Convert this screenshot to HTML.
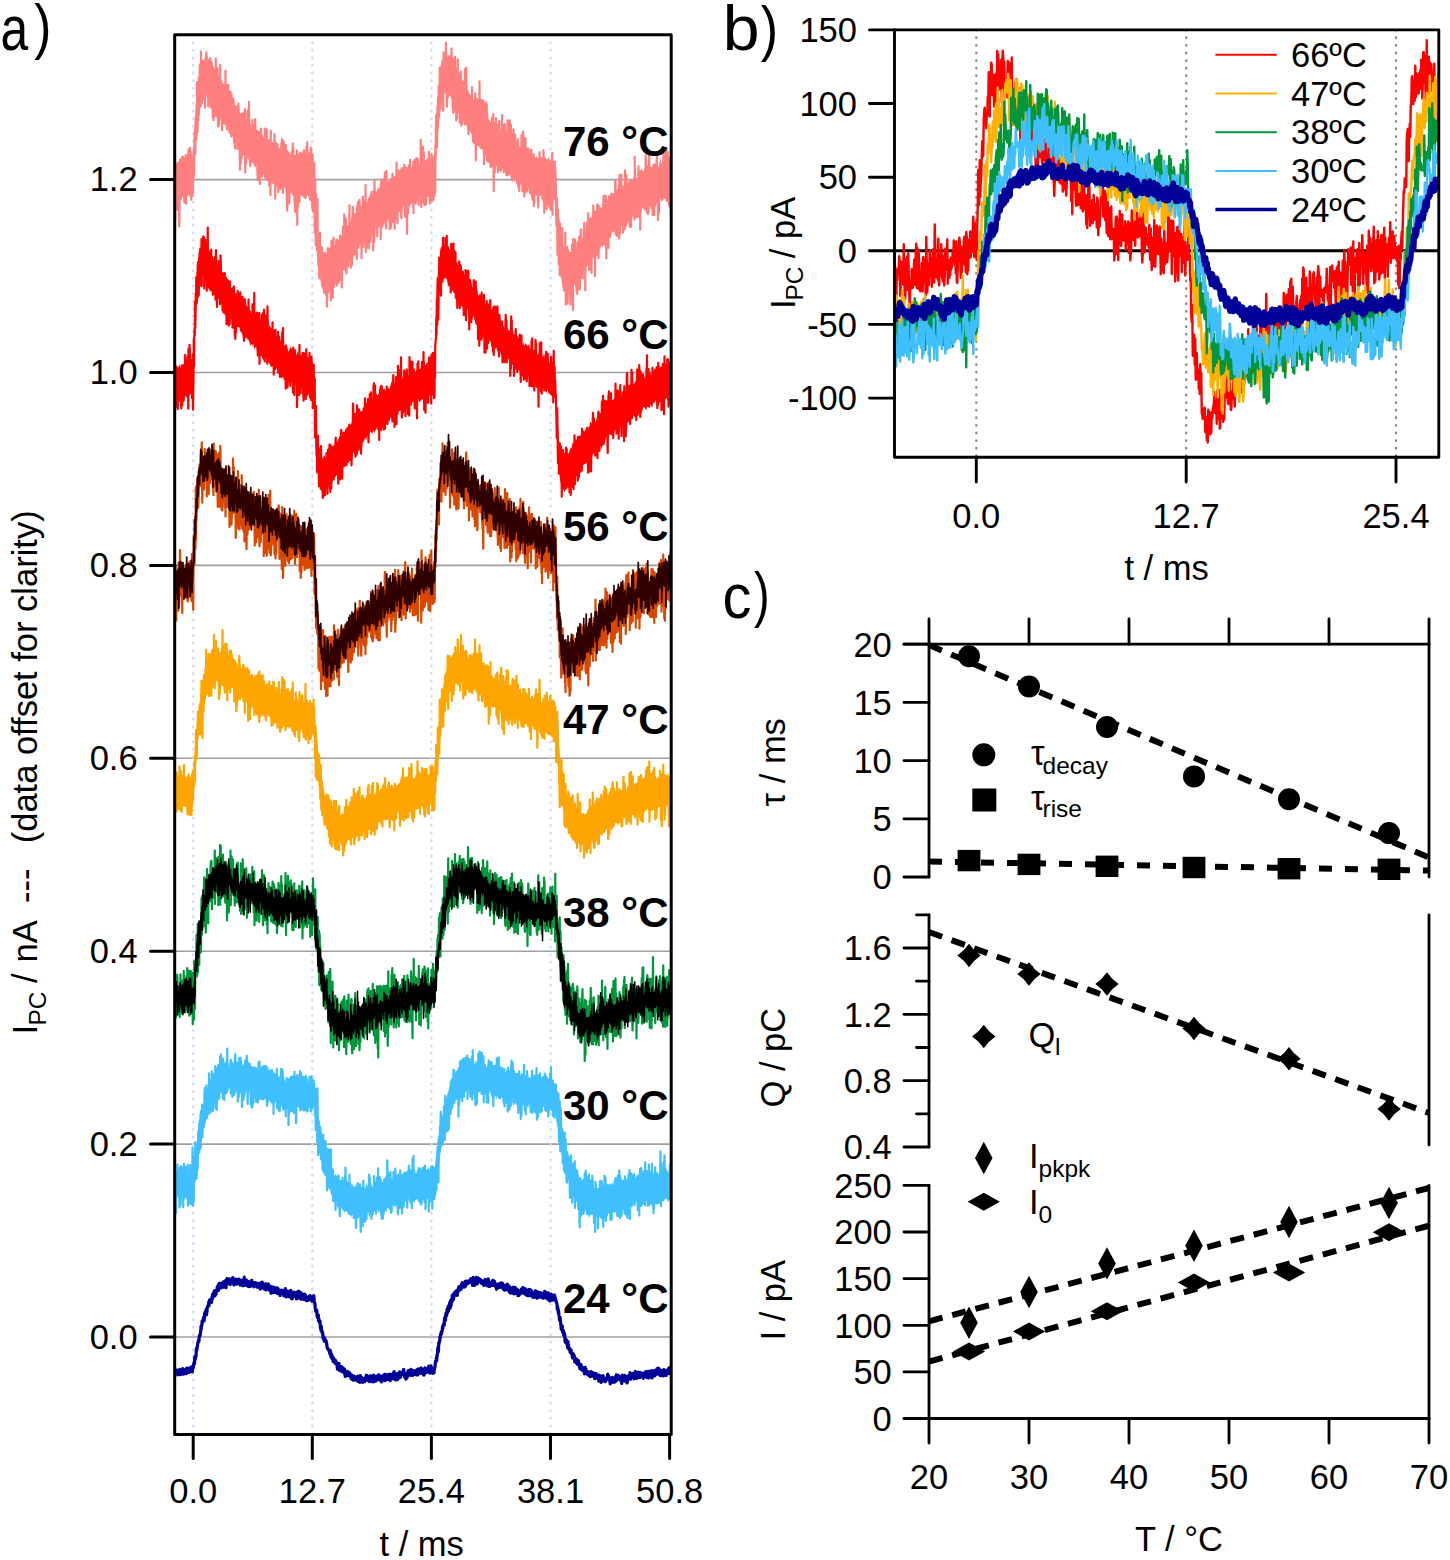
<!DOCTYPE html><html><head><meta charset="utf-8"><style>html,body{margin:0;padding:0;background:#fff;width:1450px;height:1560px;overflow:hidden;position:relative}</style></head><body><svg width="1450" height="1560" viewBox="0 0 1450 1560" style="position:absolute;left:0;top:0" font-family='"Liberation Sans", sans-serif'>
<rect width="1450" height="1560" fill="#fff"/>
<text transform="translate(0.4,50.3) scale(0.79,1)" font-size="63">a</text>
<text transform="translate(34.2,47.4) scale(0.83,1)" font-size="62">)</text>
<text transform="translate(722.8,50.2) scale(1.05,1)" font-size="63">b</text>
<text transform="translate(760.7,48.8) scale(0.84,1)" font-size="62">)</text>
<text transform="translate(722.5,618.1) scale(0.92,1)" font-size="63">c</text>
<text transform="translate(754.1,615.1) scale(0.76,1)" font-size="62">)</text>
<clipPath id="ca"><rect x="174.7" y="34.8" width="496.50000000000006" height="1399.7"/></clipPath>
<line x1="174.7" y1="179.6" x2="671.2" y2="179.6" stroke="#a0a0a0" stroke-width="1.6"/>
<line x1="174.7" y1="372.5" x2="671.2" y2="372.5" stroke="#a0a0a0" stroke-width="1.6"/>
<line x1="174.7" y1="565.4" x2="671.2" y2="565.4" stroke="#a0a0a0" stroke-width="1.6"/>
<line x1="174.7" y1="758.3" x2="671.2" y2="758.3" stroke="#a0a0a0" stroke-width="1.6"/>
<line x1="174.7" y1="951.2" x2="671.2" y2="951.2" stroke="#a0a0a0" stroke-width="1.6"/>
<line x1="174.7" y1="1144.1" x2="671.2" y2="1144.1" stroke="#a0a0a0" stroke-width="1.6"/>
<line x1="174.7" y1="1337.0" x2="671.2" y2="1337.0" stroke="#a0a0a0" stroke-width="1.6"/>
<line x1="193.2" y1="34.8" x2="193.2" y2="1434.5" stroke="#cfdbff" stroke-width="2.4" stroke-linecap="round" stroke-dasharray="0.6 7"/>
<line x1="312.3" y1="34.8" x2="312.3" y2="1434.5" stroke="#cfdbff" stroke-width="2.4" stroke-linecap="round" stroke-dasharray="0.6 7"/>
<line x1="431.4" y1="34.8" x2="431.4" y2="1434.5" stroke="#cfdbff" stroke-width="2.4" stroke-linecap="round" stroke-dasharray="0.6 7"/>
<line x1="550.5" y1="34.8" x2="550.5" y2="1434.5" stroke="#cfdbff" stroke-width="2.4" stroke-linecap="round" stroke-dasharray="0.6 7"/>
<g clip-path="url(#ca)" fill="none" stroke-linejoin="round">
<path transform="scale(0.25)" d="M697 654 701 647 705 652 709 650 713 648 717 641 721 638 725 638 729 644 733 638 737 633 741 631 745 642 749 635 753 639 757 634 761 616 765 630 769 631 773 623 777 531 781 453 785 386 789 332 793 318 797 292 801 266 805 250 809 240 813 237 817 241 821 220 825 229 829 222 833 235 837 237 841 257 845 250 849 243 853 261 857 273 861 278 865 292 869 280 873 303 877 309 881 308 885 318 889 326 893 338 897 329 901 353 905 346 909 365 913 358 917 388 921 390 925 395 929 407 933 410 937 421 941 422 945 421 949 423 953 448 957 437 961 454 965 463 969 456 973 460 977 457 981 459 985 486 989 473 993 484 997 484 1001 494 1005 500 1009 505 1013 501 1017 503 1021 526 1025 513 1029 531 1033 525 1037 541 1041 520 1045 535 1049 540 1053 550 1057 546 1061 544 1065 560 1069 561 1073 564 1077 569 1081 552 1085 574 1089 565 1093 572 1097 571 1101 593 1105 587 1109 593 1113 586 1117 591 1121 600 1125 589 1129 617 1133 602 1137 602 1141 611 1145 607 1149 598 1153 607 1157 604 1161 621 1165 614 1169 598 1173 604 1177 621 1181 618 1185 621 1189 606 1193 617 1197 638 1201 627 1205 626 1209 645 1213 627 1217 637 1221 637 1225 630 1229 635 1233 650 1237 644 1241 642 1245 654 1249 637 1253 648 1257 669 1261 758 1265 834 1269 885 1273 923 1277 944 1281 967 1285 990 1289 988 1293 1009 1297 1016 1301 1016 1305 1013 1309 1017 1313 1010 1317 1014 1321 1013 1325 1009 1329 993 1333 989 1337 986 1341 975 1345 973 1349 955 1353 959 1357 956 1361 949 1365 944 1369 944 1373 930 1377 920 1381 923 1385 915 1389 908 1393 901 1397 896 1401 890 1405 883 1409 867 1413 873 1417 879 1421 864 1425 851 1429 855 1433 850 1437 854 1441 820 1445 826 1449 820 1453 817 1457 805 1461 831 1465 816 1469 803 1473 790 1477 791 1481 773 1485 765 1489 778 1493 768 1497 761 1501 763 1505 769 1509 758 1513 751 1517 753 1521 736 1525 745 1529 739 1533 738 1537 739 1541 732 1545 725 1549 723 1553 724 1557 734 1561 707 1565 720 1569 703 1573 703 1577 707 1581 711 1585 696 1589 695 1593 703 1597 683 1601 709 1605 688 1609 683 1613 696 1617 673 1621 673 1625 671 1629 669 1633 671 1637 664 1641 677 1645 672 1649 664 1653 665 1657 662 1661 645 1665 652 1669 659 1673 638 1677 661 1681 641 1685 649 1689 637 1693 643 1697 646 1701 645 1705 640 1709 632 1713 632 1717 638 1721 636 1725 633 1729 624 1733 632 1737 625 1741 549 1745 476 1749 426 1753 360 1757 333 1761 296 1765 274 1769 256 1773 241 1777 247 1781 219 1785 216 1789 227 1793 232 1797 228 1801 228 1805 244 1809 245 1813 260 1817 266 1821 267 1825 273 1829 273 1833 292 1837 287 1841 298 1845 294 1849 325 1853 319 1857 327 1861 337 1865 357 1869 358 1873 362 1877 374 1881 381 1885 376 1889 392 1893 404 1897 394 1901 415 1905 414 1909 409 1913 420 1917 433 1921 449 1925 442 1929 444 1933 461 1937 460 1941 462 1945 468 1949 478 1953 476 1957 480 1961 484 1965 496 1969 486 1973 505 1977 502 1981 515 1985 512 1989 506 1993 528 1997 528 2001 531 2005 526 2009 544 2013 534 2017 553 2021 546 2025 560 2029 545 2033 543 2037 550 2041 558 2045 558 2049 563 2053 570 2057 572 2061 577 2065 575 2069 585 2073 590 2077 578 2081 596 2085 583 2089 604 2093 596 2097 593 2101 595 2105 592 2109 605 2113 605 2117 619 2121 602 2125 626 2129 617 2133 613 2137 612 2141 635 2145 625 2149 630 2153 636 2157 628 2161 629 2165 634 2169 634 2173 637 2177 628 2181 626 2185 637 2189 637 2193 629 2197 634 2201 644 2205 641 2209 640 2213 643 2217 647 2221 639 2225 739 2229 795 2233 845 2237 875 2241 951 2245 949 2249 981 2253 987 2257 992 2261 1011 2265 1020 2269 1023 2273 1011 2277 1013 2281 1024 2285 1006 2289 1013 2293 999 2297 999 2301 988 2305 997 2309 963 2313 974 2317 973 2321 959 2325 956 2329 960 2333 933 2337 938 2341 924 2345 916 2349 916 2353 920 2357 906 2361 902 2365 880 2369 871 2373 879 2377 879 2381 869 2385 872 2389 845 2393 852 2397 834 2401 830 2405 836 2409 834 2413 823 2417 818 2421 818 2425 814 2429 803 2433 808 2437 803 2441 794 2445 800 2449 770 2453 775 2457 772 2461 763 2465 758 2469 768 2473 751 2477 759 2481 755 2485 756 2489 758 2493 759 2497 731 2501 743 2505 733 2509 735 2513 724 2517 728 2521 720 2525 720 2529 720 2533 714 2537 708 2541 711 2545 715 2549 707 2553 702 2557 699 2561 696 2565 687 2569 684 2573 694 2577 676 2581 677 2585 674 2589 679 2593 683 2597 667 2601 684 2605 667 2609 669 2613 669 2617 669 2621 663 2625 656 2629 650 2633 672 2637 658 2641 626 2645 662 2649 648 2653 640 2657 636 2661 657 2665 651 2669 631 2673 630 2677 641 2681 631 2685 640 2685 777 2681 777 2677 793 2673 790 2669 784 2665 792 2661 793 2657 788 2653 803 2649 801 2645 807 2641 789 2637 794 2633 792 2629 811 2625 815 2621 814 2617 810 2613 823 2609 826 2605 824 2601 828 2597 822 2593 836 2589 811 2585 828 2581 833 2577 813 2573 827 2569 830 2565 852 2561 834 2557 851 2553 859 2549 863 2545 857 2541 866 2537 864 2533 856 2529 873 2525 866 2521 857 2517 881 2513 879 2509 898 2505 883 2501 878 2497 886 2493 895 2489 901 2485 901 2481 911 2477 913 2473 909 2469 918 2465 915 2461 916 2457 914 2453 935 2449 923 2445 946 2441 955 2437 948 2433 944 2429 958 2425 956 2421 958 2417 972 2413 985 2409 988 2405 984 2401 996 2397 996 2393 1003 2389 995 2385 1015 2381 1027 2377 1022 2373 1035 2369 1032 2365 1033 2361 1043 2357 1042 2353 1067 2349 1062 2345 1066 2341 1080 2337 1077 2333 1091 2329 1110 2325 1112 2321 1112 2317 1106 2313 1118 2309 1120 2305 1142 2301 1142 2297 1134 2293 1151 2289 1158 2285 1154 2281 1171 2277 1172 2273 1153 2269 1160 2265 1168 2261 1153 2257 1162 2253 1155 2249 1145 2245 1111 2241 1083 2237 1049 2233 1014 2229 938 2225 873 2221 811 2217 799 2213 799 2209 800 2205 787 2201 799 2197 787 2193 785 2189 790 2185 790 2181 784 2177 775 2173 792 2169 774 2165 785 2161 783 2157 784 2153 759 2149 785 2145 775 2141 771 2137 761 2133 771 2129 755 2125 755 2121 745 2117 772 2113 749 2109 775 2105 765 2101 762 2097 746 2093 747 2089 734 2085 736 2081 732 2077 747 2073 740 2069 736 2065 736 2061 711 2057 730 2053 717 2049 731 2045 722 2041 701 2037 699 2033 705 2029 705 2025 702 2021 688 2017 693 2013 696 2009 671 2005 693 2001 685 1997 681 1993 680 1989 671 1985 661 1981 657 1977 652 1973 651 1969 642 1965 640 1961 633 1957 657 1953 632 1949 621 1945 622 1941 623 1937 597 1933 613 1929 589 1925 600 1921 593 1917 588 1913 573 1909 577 1905 567 1901 558 1897 567 1893 549 1889 551 1885 509 1881 529 1877 510 1873 532 1869 515 1865 490 1861 499 1857 486 1853 469 1849 480 1845 454 1841 458 1837 448 1833 451 1829 446 1825 422 1821 418 1817 419 1813 412 1809 413 1805 389 1801 386 1797 381 1793 397 1789 394 1785 371 1781 370 1777 376 1773 385 1769 406 1765 438 1761 442 1757 482 1753 519 1749 568 1745 629 1741 707 1737 768 1733 778 1729 764 1725 782 1721 771 1717 778 1713 788 1709 786 1705 788 1701 800 1697 792 1693 789 1689 793 1685 802 1681 805 1677 787 1673 798 1669 801 1665 804 1661 807 1657 808 1653 818 1649 813 1645 814 1641 821 1637 829 1633 835 1629 819 1625 821 1621 830 1617 822 1613 826 1609 839 1605 842 1601 846 1597 852 1593 842 1589 846 1585 841 1581 852 1577 876 1573 851 1569 858 1565 864 1561 859 1557 867 1553 890 1549 873 1545 891 1541 882 1537 877 1533 904 1529 888 1525 912 1521 907 1517 903 1513 917 1509 915 1505 903 1501 927 1497 923 1493 935 1489 919 1485 945 1481 940 1477 946 1473 943 1469 949 1465 957 1461 954 1457 974 1453 957 1449 968 1445 990 1441 975 1437 981 1433 990 1429 996 1425 1006 1421 1004 1417 1015 1413 1018 1409 1017 1405 1032 1401 1039 1397 1055 1393 1041 1389 1054 1385 1055 1381 1063 1377 1082 1373 1080 1369 1094 1365 1099 1361 1107 1357 1114 1353 1109 1349 1110 1345 1129 1341 1131 1337 1149 1333 1146 1329 1143 1325 1164 1321 1154 1317 1173 1313 1175 1309 1160 1305 1165 1301 1178 1297 1155 1293 1149 1289 1152 1285 1146 1281 1115 1277 1097 1273 1078 1269 1031 1265 965 1261 907 1257 835 1253 786 1249 796 1245 800 1241 804 1237 802 1233 783 1229 781 1225 795 1221 796 1217 793 1213 790 1209 783 1205 786 1201 769 1197 789 1193 782 1189 766 1185 771 1181 759 1177 762 1173 780 1169 763 1165 777 1161 772 1157 762 1153 762 1149 761 1145 749 1141 754 1137 750 1133 753 1129 747 1125 755 1121 753 1117 748 1113 730 1109 736 1105 752 1101 732 1097 738 1093 730 1089 730 1085 730 1081 713 1077 711 1073 718 1069 696 1065 693 1061 694 1057 688 1053 699 1049 697 1045 693 1041 687 1037 675 1033 692 1029 664 1025 657 1021 673 1017 662 1013 651 1009 651 1005 654 1001 653 997 649 993 636 989 630 985 627 981 613 977 619 973 623 969 617 965 602 961 597 957 588 953 588 949 585 945 575 941 562 937 556 933 558 929 542 925 543 921 538 917 521 913 516 909 524 905 521 901 496 897 501 893 495 889 492 885 486 881 481 877 471 873 443 869 448 865 423 861 427 857 422 853 412 849 407 845 414 841 390 837 389 833 380 829 397 825 379 821 380 817 373 813 383 809 398 805 408 801 404 797 452 793 468 789 488 785 557 781 594 777 688 773 788 769 784 765 776 761 785 757 787 753 779 749 788 745 784 741 779 737 783 733 768 729 789 725 805 721 797 717 800 713 791 709 801 705 789 701 800 697 804Z" fill="#ff7f7f" stroke="none"/>
<path transform="scale(0.25)" d="M697 830l1 -113 1 1 1 -100 1 265 1 -172 1 116 1 5 1 8 1 -165 1 112 1 -80 1 46 1 -18 1 65 1 -37 1 76 1 -107 1 31 1 17 1 126 1 -84 1 -147 1 -37 1 134 1 20 1 -66 1 -34 1 -8 1 0 1 47 1 -102 1 57 1 -1 1 -59 1 160 1 -159 1 76 1 44 1 -107 1 169 1 -93 1 29 1 10 1 -32 1 -32 1 -71 1 195 1 -74 1 9 1 0 1 -84 1 37 1 13 1 57 1 -152 1 103 1 -126 1 32 1 -28 1 172 1 -60 1 -26 1 -97 1 68 1 28 1 -79 1 43 1 148 1 -28 1 -120 1 134 1 -96 1 49 1 -49 1 83 1 -89 1 -79 1 104 1 -11 1 -14 1 -134 1 -26 1 95 1 0 1 -100 1 -51 1 29 1 62 1 -56 1 37 1 -210 1 132 1 67 1 -40 1 -58 1 54 1 -66 1 -108 1 148 1 -138 1 7 1 -57 1 -13 1 41 1 20 1 108 1 -220 1 179 1 30 1 -3 1 -18 1 -78 1 34 1 48 1 -39 1 -107 1 142 1 -2 1 -49 1 -43 1 -5 1 58 1 78 1 -180 1 38 1 -37 1 95 1 -138 1 26 1 2 1 11 1 104 1 -85 1 90 1 -93 1 162 1 -31 1 -71 1 -26 1 35 1 -33 1 -50 1 21 1 -39 1 94 1 104 1 -113 1 -63 1 158 1 14 1 -52 1 -103 1 31 1 170 1 -145 1 28 1 126 1 -62 1 24 1 24 1 -26 1 -81 1 -53 1 126 1 3 1 -202 1 217 1 -162 1 176 1 -35 1 19 1 -99 1 -77 1 90 1 143 1 -35 1 -144 1 4 1 169 1 -109 1 64 1 -6 1 -57 1 -132 1 134 1 -72 1 110 1 -10 1 -43 1 32 1 110 1 -92 1 -51 1 24 1 50 1 -67 1 50 1 -75 1 110 1 -86 1 45 1 4 1 -25 1 -13 1 -113 1 195 1 -128 1 110 1 -94 1 75 1 -92 1 -7 1 124 1 -27 1 15 1 -114 1 176 1 -91 1 -12 1 80 1 39 1 -91 1 18 1 -59 1 -33 1 129 1 -43 1 94 1 -169 1 22 1 98 1 -51 1 -47 1 85 1 -54 1 -36 1 10 1 3 1 116 1 48 1 -59 1 13 1 67 1 -145 1 148 1 -118 1 79 1 -61 1 81 1 -16 1 -59 1 -45 1 30 1 45 1 66 1 -16 1 -167 1 160 1 6 1 -81 1 69 1 29 1 82 1 -150 1 25 1 100 1 -114 1 -85 1 135 1 42 1 -100 1 -30 1 -24 1 95 1 27 1 -142 1 -7 1 99 1 16 1 14 1 -98 1 -27 1 -19 1 254 1 -98 1 -36 1 99 1 0 1 -112 1 30 1 36 1 -75 1 -90 1 152 1 -155 1 18 1 -20 1 145 1 -177 1 144 1 -11 1 -1 1 76 1 50 1 -139 1 54 1 -70 1 18 1 20 1 86 1 -113 1 10 1 -51 1 136 1 -109 1 77 1 -88 1 0 1 39 1 10 1 114 1 -19 1 -118 1 -46 1 152 1 -9 1 28 1 -97 1 -28 1 121 1 6 1 9 1 29 1 34 1 -88 1 -106 1 57 1 103 1 -22 1 -47 1 73 1 45 1 -97 1 -95 1 -18 1 95 1 -107 1 76 1 46 1 -94 1 165 1 -72 1 57 1 -14 1 -42 1 -51 1 107 1 -134 1 91 1 32 1 -7 1 -160 1 196 1 -115 1 78 1 -113 1 -19 1 160 1 14 1 -198 1 159 1 2 1 43 1 -23 1 13 1 -112 1 67 1 30 1 -135 1 182 1 -121 1 28 1 -63 1 89 1 104 1 -257 1 127 1 39 1 12 1 26 1 -85 1 -53 1 44 1 35 1 -17 1 81 1 -64 1 -70 1 111 1 -111 1 -62 1 101 1 9 1 149 1 -226 1 49 1 -26 1 20 1 -37 1 8 1 23 1 -30 1 117 1 -50 1 37 1 89 1 -69 1 -5 1 -29 1 7 1 -1 1 78 1 -126 1 54 1 78 1 -95 1 46 1 -133 1 40 1 47 1 -105 1 66 1 -4 1 67 1 87 1 -192 1 50 1 -65 1 128 1 -63 1 -49 1 122 1 -20 1 -41 1 -13 1 -50 1 80 1 16 1 92 1 13 1 35 1 28 1 -151 1 -33 1 53 1 -62 1 31 1 31 1 -90 1 192 1 -63 1 -124 1 70 1 58 1 -69 1 -40 1 106 1 -53 1 51 1 -144 1 107 1 -99 1 98 1 -139 1 205 1 -188 1 123 1 -38 1 -40 1 74 1 101 1 -162 1 200 1 -86 1 -125 1 153 1 -98 1 13 1 6 1 74 1 -184 1 299 1 -246 1 176 1 -50 1 -94 1 -68 1 12 1 120 1 -39 1 97 1 -106 1 -92 1 143 1 -36 1 4 1 56 1 -122 1 110 1 -151 1 131 1 21 1 -103 1 107 1 1 1 -1 1 -165 1 90 1 -94 1 34 1 94 1 28 1 32 1 -98 1 -62 1 42 1 -22 1 121 1 -184 1 136 1 -11 1 -143 1 69 1 18 1 -19 1 41 1 53 1 -9 1 -80 1 -27 1 134 1 -112 1 20 1 85 1 43 1 -194 1 200 1 -191 1 53 1 152 1 -104 1 132 1 -71 1 -143 1 225 1 -135 1 14 1 127 1 -56 1 -141 1 88 1 190 1 -130 1 -84 1 194 1 71 1 -194 1 -11 1 158 1 15 1 51 1 -37 1 -167 1 161 1 71 1 -15 1 50 1 -99 1 71 1 74 1 5 1 -75 1 -108 1 129 1 4 1 -52 1 15 1 0 1 -20 1 -19 1 2 1 113 1 -86 1 52 1 -51 1 -5 1 144 1 -134 1 148 1 -94 1 17 1 -83 1 127 1 -22 1 -92 1 -5 1 103 1 60 1 -44 1 -106 1 195 1 -83 1 -83 1 -68 1 97 1 -11 1 59 1 -77 1 -53 1 -14 1 49 1 69 1 -40 1 -24 1 51 1 103 1 -76 1 -83 1 -81 1 78 1 95 1 -102 1 3 1 155 1 -123 1 75 1 -193 1 109 1 -67 1 155 1 -152 1 138 1 -72 1 6 1 -50 1 -29 1 62 1 -92 1 104 1 81 1 -182 1 83 1 44 1 -100 1 101 1 -26 1 69 1 -35 1 -4 1 28 1 -115 1 115 1 -127 1 -53 1 14 1 49 1 -20 1 125 1 -103 1 144 1 -75 1 -78 1 32 1 24 1 -146 1 11 1 21 1 135 1 -124 1 -93 1 21 1 93 1 100 1 -4 1 13 1 -106 1 -98 1 210 1 8 1 -191 1 138 1 26 1 -77 1 8 1 -31 1 99 1 -67 1 3 1 -49 1 -9 1 -123 1 106 1 -13 1 74 1 -48 1 62 1 69 1 -165 1 78 1 38 1 38 1 -192 1 37 1 -78 1 125 1 1 1 69 1 -70 1 -97 1 72 1 55 1 -51 1 86 1 -91 1 48 1 19 1 -138 1 94 1 12 1 75 1 -190 1 -21 1 -5 1 160 1 -171 1 62 1 120 1 -108 1 -21 1 20 1 -83 1 163 1 -120 1 15 1 49 1 69 1 -97 1 16 1 139 1 -95 1 -50 1 73 1 -50 1 -125 1 40 1 162 1 -150 1 87 1 -16 1 38 1 -142 1 159 1 -42 1 28 1 -210 1 269 1 -85 1 -110 1 136 1 -135 1 49 1 126 1 -166 1 139 1 -89 1 21 1 -63 1 161 1 -36 1 -71 1 -22 1 0 1 -74 1 14 1 163 1 -50 1 -71 1 77 1 -156 1 163 1 -106 1 104 1 -97 1 76 1 -98 1 193 1 -74 1 -69 1 -97 1 206 1 -245 1 127 1 23 1 -27 1 -57 1 76 1 -2 1 -5 1 -11 1 -11 1 41 1 69 1 -135 1 72 1 -96 1 99 1 -111 1 74 1 -32 1 -60 1 114 1 4 1 -105 1 21 1 -29 1 195 1 -88 1 -140 1 -6 1 88 1 39 1 57 1 -16 1 -9 1 -164 1 18 1 156 1 -135 1 17 1 97 1 -20 1 -146 1 -16 1 107 1 32 1 74 1 -172 1 184 1 -231 1 193 1 -105 1 73 1 9 1 -27 1 -50 1 19 1 27 1 -38 1 46 1 -100 1 -2 1 189 1 -47 1 -119 1 101 1 49 1 10 1 -80 1 53 1 -117 1 47 1 61 1 -181 1 71 1 123 1 -1 1 -66 1 -71 1 80 1 -85 1 -35 1 205 1 -123 1 -63 1 49 1 -12 1 -24 1 124 1 -216 1 38 1 166 1 31 1 9 1 -214 1 32 1 -10 1 123 1 -13 1 -37 1 -56 1 36 1 30 1 -19 1 -84 1 107 1 -70 1 121 1 30 1 2 1 -200 1 36 1 -7 1 49 1 -62 1 49 1 -33 1 113 1 -6 1 -138 1 -14 1 4 1 184 1 20 1 -146 1 120 1 -26 1 -21 1 -89 1 -34 1 73 1 192 1 -143 1 -90 1 -18 1 168 1 -102 1 34 1 -12 1 -112 1 115 1 -48 1 79 1 -168 1 98 1 -19 1 0 1 25 1 -12 1 -49 1 127 1 -67 1 -5 1 -36 1 61 1 55 1 -171 1 207 1 -175 1 -17 1 59 1 75 1 -75 1 -81 1 77 1 74 1 24 1 -112 1 -70 1 132 1 -70 1 -54 1 133 1 -63 1 -75 1 166 1 -111 1 130 1 -55 1 4 1 -74 1 23 1 -25 1 75 1 -41 1 -37 1 -131 1 209 1 60 1 -75 1 -47 1 67 1 -158 1 39 1 75 1 -142 1 62 1 163 1 -203 1 31 1 90 1 91 1 -178 1 58 1 58 1 31 1 -44 1 72 1 -27 1 -47 1 -60 1 -2 1 -26 1 127 1 -133 1 4 1 20 1 -22 1 61 1 -107 1 141 1 18 1 17 1 32 1 -67 1 51 1 -76 1 8 1 18 1 -133 1 109 1 40 1 40 1 -125 1 -36 1 132 1 -102 1 126 1 -167 1 147 1 -157 1 161 1 -34 1 -129 1 149 1 -188 1 0 1 -94 1 -26 1 93 1 -82 1 117 1 -67 1 -96 1 88 1 -119 1 71 1 -81 1 -41 1 124 1 -43 1 13 1 -168 1 110 1 54 1 -2 1 -153 1 98 1 -50 1 10 1 -79 1 64 1 -2 1 -77 1 53 1 4 1 144 1 -235 1 141 1 -24 1 6 1 5 1 -81 1 99 1 -120 1 64 1 -70 1 -59 1 72 1 16 1 147 1 22 1 -76 1 10 1 11 1 -10 1 -36 1 33 1 -135 1 40 1 73 1 -104 1 116 1 -2 1 -68 1 38 1 18 1 -31 1 -68 1 -43 1 108 1 -73 1 160 1 -21 1 62 1 -103 1 126 1 -177 1 174 1 -218 1 50 1 108 1 -121 1 -41 1 60 1 153 1 -81 1 -54 1 177 1 -140 1 50 1 82 1 -103 1 -31 1 -103 1 179 1 -9 1 -76 1 51 1 63 1 -104 1 -26 1 175 1 -109 1 81 1 -138 1 72 1 -110 1 217 1 -88 1 81 1 -5 1 -76 1 22 1 -81 1 113 1 -102 1 111 1 -151 1 45 1 33 1 51 1 42 1 -222 1 209 1 -77 1 71 1 -132 1 -77 1 126 1 1 1 41 1 62 1 -76 1 26 1 -27 1 47 1 67 1 -160 1 44 1 54 1 -68 1 -24 1 63 1 58 1 18 1 -4 1 -122 1 88 1 29 1 19 1 -184 1 170 1 -23 1 -66 1 138 1 -112 1 -28 1 75 1 70 1 -71 1 -84 1 67 1 -74 1 -37 1 140 1 129 1 -100 1 -97 1 -2 1 108 1 -129 1 -26 1 180 1 -38 1 -20 1 28 1 36 1 -97 1 -7 1 24 1 -177 1 138 1 75 1 -18 1 1 1 -33 1 29 1 -119 1 42 1 41 1 -64 1 177 1 -127 1 -6 1 65 1 2 1 -126 1 66 1 189 1 -135 1 -56 1 33 1 -14 1 40 1 -105 1 80 1 -78 1 -12 1 76 1 -69 1 226 1 -190 1 72 1 105 1 17 1 -123 1 42 1 -21 1 29 1 73 1 -119 1 98 1 -40 1 45 1 38 1 -108 1 67 1 -84 1 27 1 -53 1 -47 1 194 1 -136 1 17 1 -15 1 -75 1 187 1 122 1 -198 1 21 1 44 1 57 1 -195 1 93 1 -50 1 -40 1 -24 1 29 1 91 1 67 1 -159 1 16 1 54 1 99 1 20 1 -83 1 -108 1 94 1 53 1 -162 1 196 1 -162 1 95 1 48 1 -24 1 15 1 -12 1 -115 1 149 1 -25 1 -189 1 61 1 134 1 -122 1 46 1 -80 1 47 1 123 1 -50 1 54 1 -87 1 -90 1 26 1 148 1 -10 1 -130 1 111 1 60 1 -161 1 65 1 83 1 10 1 -217 1 122 1 -57 1 53 1 -6 1 1 1 21 1 -114 1 78 1 -98 1 68 1 53 1 -30 1 -32 1 -41 1 84 1 -43 1 63 1 85 1 12 1 -87 1 -10 1 -55 1 65 1 -96 1 143 1 48 1 -113 1 -16 1 -5 1 44 1 -80 1 102 1 20 1 -31 1 58 1 -84 1 -28 1 86 1 -45 1 -3 1 -57 1 119 1 72 1 -145 1 12 1 -16 1 166 1 -122 1 98 1 -144 1 55 1 -40 1 64 1 -18 1 -40 1 -77 1 151 1 -98 1 21 1 151 1 -61 1 -178 1 213 1 -197 1 144 1 18 1 82 1 -180 1 32 1 -55 1 186 1 -216 1 107 1 23 1 -24 1 47 1 46 1 11 1 -168 1 133 1 -130 1 105 1 -110 1 88 1 -37 1 93 1 -14 1 -66 1 112 1 -90 1 9 1 86 1 -176 1 15 1 -13 1 11 1 71 1 110 1 -132 1 96 1 44 1 -164 1 98 1 -96 1 186 1 -132 1 121 1 -20 1 -150 1 99 1 -54 1 -49 1 27 1 21 1 -48 1 139 1 -26 1 -87 1 20 1 17 1 50 1 51 1 28 1 -92 1 9 1 -69 1 90 1 -161 1 51 1 51 1 -19 1 48 1 -32 1 20 1 23 1 -117 1 75 1 56 1 28 1 -53 1 -63 1 123 1 -108 1 -90 1 161 1 -124 1 213 1 -143 1 -51 1 156 1 -105 1 -13 1 -28 1 118 1 -66 1 68 1 49 1 -112 1 11 1 58 1 -2 1 -142 1 63 1 -35 1 28 1 103 1 17 1 -53 1 30 1 30 1 -171 1 127 1 -129 1 181 1 -124 1 -41 1 -38 1 57 1 -83 1 248 1 -162 1 -36 1 40 1 57 1 -36 1 -73 1 43 1 93 1 -139 1 100 1 -75 1 23 1 23 1 99 1 62 1 26 1 -73 1 -37 1 117 1 108 1 -61 1 -120 1 113 1 46 1 60 1 -170 1 15 1 -8 1 207 1 -208 1 30 1 129 1 12 1 1 1 -121 1 163 1 -79 1 -42 1 -74 1 93 1 99 1 -45 1 38 1 -68 1 100 1 32 1 -79 1 36 1 -118 1 109 1 -178 1 175 1 112 1 -179 1 124 1 17 1 -63 1 -130 1 98 1 130 1 -37 1 -81 1 -98 1 136 1 -63 1 11 1 31 1 38 1 -141 1 135 1 58 1 15 1 -90 1 38 1 -26 1 54 1 -42 1 -175 1 47 1 44 1 -3 1 174 1 -285 1 73 1 96 1 -127 1 121 1 -6 1 -120 1 -34 1 179 1 -139 1 116 1 -7 1 -15 1 72 1 -164 1 87 1 89 1 -206 1 191 1 -34 1 -91 1 110 1 -18 1 -164 1 -18 1 127 1 85 1 -15 1 -90 1 -60 1 -76 1 175 1 -105 1 19 1 20 1 -70 1 29 1 -28 1 157 1 -60 1 -81 1 61 1 -116 1 64 1 -92 1 62 1 98 1 -104 1 216 1 -130 1 -85 1 7 1 38 1 55 1 -101 1 -56 1 72 1 -12 1 43 1 -37 1 -104 1 159 1 15 1 54 1 -199 1 124 1 73 1 -99 1 -104 1 140 1 -142 1 134 1 -89 1 174 1 -115 1 -87 1 -11 1 35 1 11 1 -24 1 -80 1 53 1 28 1 49 1 32 1 -19 1 -80 1 221 1 -85 1 -173 1 122 1 33 1 20 1 -137 1 57 1 -43 1 -82 1 196 1 -8 1 -22 1 -130 1 180 1 -210 1 116 1 -62 1 96 1 -42 1 11 1 -6 1 20 1 -29 1 -94 1 97 1 -11 1 55 1 -57 1 -21 1 -35 1 65 1 3 1 -113 1 -30 1 111 1 -29 1 -86 1 58 1 138 1 -151 1 19 1 4 1 -66 1 103 1 147 1 -147 1 74 1 18 1 -173 1 184 1 -180 1 90 1 -85 1 177 1 -160 1 -47 1 105 1 -98 1 65 1 -29 1 -34 1 31 1 -24 1 10 1 -37 1 6 1 85 1 -14 1 17 1 -47 1 18 1 -23 1 -24 1 132 1 -84 1 37 1 16 1 -98 1 86 1 -18 1 -135 1 -7 1 217 1 -133 1 80 1 -37 1 -75 1 170 1 -59 1 59 1 -130 1 -54 1 126 1 46 1 -189 1 60 1 153 1 -256 1 157 1 76 1 -131 1 84 1 -98 1 -43 1 -45 1 113 1 -9 1 53 1 0 1 -31 1 -78 1 184 1 -88 1 -11 1 77 1 -99 1 62 1 -105 1 151 1 -237 1 225 1 -154 1 -19 1 170 1 -24 1 -178 1 77 1 79 1 -18 1 16 1 17 1 11 1 -29 1 -31 1 -19 1 -49 1 70 1 73 1 -178 1 187 1 -23 1 -71 1 -27 1 122 1 -113 1 32 1 18 1 -109 1 86 1 -76 1 89 1 24 1 -68 1 -56 1 30 1 14 1 44 1 56 1 -253 1 123 1 30 1 24 1 -37 1 104 1 -75 1 55 1 -8 1 17 1 -104 1 -43 1 154 1 -170 1 169 1 -200 1 48 1 56 1 101 1 -171 1 33 1 -18 1 204 1 -178 1 -56 1 82 1 -80 1 -5 1 49 1 41 1 -60 1 -1 1 6 1 -21 1 134 1 -67 1 7 1 27 1 -109 1 147 1 3 1 -85 1 -25 1 -19 1 -87 1 56 1 157 1 -159 1 173 1 -50 1 -133 1 188 1 -165 1 168 1 -51 1 43 1 -137 1 -67 1 -21 1 168 1 0 1 -44 1 22 1 7 1 5 1 -110 1 58 1 104 1 -85 1 66 1 20 1 -147 1 173 1 -140 1 129 1 -190 1 139 1 -82 1 144 1 -182 1 80 1 37 1 28 1 -167 1 34 1 59 1 -18 1 -51 1 -56 1 115 1 6 1 -76 1 110 1 102 1 -89 1 -1 1 -80 1 138 1 -147 1 35 1 -69 1 92 1 -8 1 -99 1 112 1 -53 1 40 1 -3 1 49 1 -11 1 -126 1 3 1 54 1 31 1 21 1 -178 1 33 1 6 1 155 1 -87 1 41 1 -56 1 109 1 -26 1 7 1 -165 1 68 1 -76 1 203 1 -142 1 80 1 -9 1 -125 1 152 1 5 1 -15 1 -64 1 134 1 -113 1 -76 1 108 1 91 1 -81 1 56 1 -160 1 198 1 -59 1 -59 1 -143" stroke="#ff7f7f" stroke-width="8.8"/>
<path transform="scale(0.25)" d="M697 1483 701 1465 705 1461 709 1465 713 1471 717 1455 721 1472 725 1462 729 1463 733 1456 737 1457 741 1456 745 1428 749 1461 753 1453 757 1446 761 1463 765 1450 769 1454 773 1429 777 1297 781 1189 785 1112 789 1069 793 1031 797 992 801 993 805 985 809 990 813 989 817 970 821 987 825 970 829 988 833 1005 837 1006 841 997 845 1026 849 1024 853 1030 857 1042 861 1052 865 1050 869 1062 873 1059 877 1071 881 1079 885 1086 889 1092 893 1090 897 1112 901 1113 905 1106 909 1113 913 1132 917 1133 921 1149 925 1156 929 1150 933 1146 937 1166 941 1171 945 1178 949 1171 953 1181 957 1198 961 1202 965 1213 969 1190 973 1201 977 1213 981 1203 985 1221 989 1229 993 1229 997 1233 1001 1244 1005 1255 1009 1257 1013 1252 1017 1268 1021 1261 1025 1270 1029 1270 1033 1283 1037 1285 1041 1274 1045 1284 1049 1290 1053 1291 1057 1311 1061 1315 1065 1312 1069 1331 1073 1322 1077 1321 1081 1342 1085 1334 1089 1344 1093 1338 1097 1334 1101 1345 1105 1349 1109 1344 1113 1365 1117 1336 1121 1364 1125 1370 1129 1369 1133 1376 1137 1388 1141 1379 1145 1377 1149 1384 1153 1406 1157 1405 1161 1382 1165 1403 1169 1398 1173 1423 1177 1418 1181 1395 1185 1423 1189 1406 1193 1415 1197 1411 1201 1424 1205 1427 1209 1421 1213 1429 1217 1427 1221 1453 1225 1449 1229 1436 1233 1439 1237 1448 1241 1440 1245 1460 1249 1446 1253 1460 1257 1504 1261 1620 1265 1693 1269 1738 1273 1769 1277 1791 1281 1824 1285 1826 1289 1834 1293 1830 1297 1820 1301 1830 1305 1826 1309 1820 1313 1806 1317 1804 1321 1795 1325 1802 1329 1792 1333 1782 1337 1786 1341 1772 1345 1788 1349 1764 1353 1769 1357 1745 1361 1744 1365 1750 1369 1727 1373 1725 1377 1730 1381 1715 1385 1720 1389 1715 1393 1703 1397 1690 1401 1702 1405 1696 1409 1679 1413 1680 1417 1675 1421 1664 1425 1654 1429 1644 1433 1670 1437 1655 1441 1645 1445 1646 1449 1643 1453 1658 1457 1627 1461 1632 1465 1620 1469 1613 1473 1616 1477 1622 1481 1607 1485 1601 1489 1601 1493 1591 1497 1576 1501 1588 1505 1572 1509 1583 1513 1578 1517 1582 1521 1568 1525 1583 1529 1564 1533 1557 1537 1555 1541 1558 1545 1572 1549 1561 1553 1548 1557 1559 1561 1547 1565 1530 1569 1523 1573 1528 1577 1534 1581 1531 1585 1523 1589 1513 1593 1519 1597 1509 1601 1531 1605 1506 1609 1504 1613 1523 1617 1501 1621 1504 1625 1500 1629 1510 1633 1508 1637 1502 1641 1483 1645 1474 1649 1505 1653 1476 1657 1473 1661 1490 1665 1481 1669 1474 1673 1471 1677 1477 1681 1476 1685 1462 1689 1472 1693 1454 1697 1443 1701 1458 1705 1471 1709 1455 1713 1454 1717 1438 1721 1458 1725 1445 1729 1437 1733 1442 1737 1427 1741 1338 1745 1218 1749 1142 1753 1065 1757 1046 1761 1003 1765 990 1769 984 1773 979 1777 984 1781 970 1785 983 1789 987 1793 992 1797 1000 1801 1003 1805 1014 1809 1018 1813 1020 1817 1018 1821 1033 1825 1051 1829 1047 1833 1066 1837 1069 1841 1082 1845 1063 1849 1088 1853 1078 1857 1099 1861 1100 1865 1103 1869 1116 1873 1116 1877 1127 1881 1132 1885 1124 1889 1154 1893 1135 1897 1145 1901 1151 1905 1160 1909 1152 1913 1190 1917 1184 1921 1179 1925 1186 1929 1199 1933 1205 1937 1209 1941 1209 1945 1220 1949 1216 1953 1215 1957 1250 1961 1239 1965 1240 1969 1251 1973 1257 1977 1250 1981 1270 1985 1261 1989 1270 1993 1268 1997 1294 2001 1269 2005 1287 2009 1287 2013 1302 2017 1309 2021 1315 2025 1305 2029 1312 2033 1323 2037 1318 2041 1328 2045 1350 2049 1317 2053 1333 2057 1341 2061 1334 2065 1352 2069 1342 2073 1348 2077 1357 2081 1362 2085 1375 2089 1375 2093 1369 2097 1386 2101 1370 2105 1380 2109 1382 2113 1382 2117 1376 2121 1400 2125 1387 2129 1400 2133 1402 2137 1398 2141 1405 2145 1412 2149 1420 2153 1411 2157 1422 2161 1420 2165 1417 2169 1429 2173 1418 2177 1431 2181 1434 2185 1439 2189 1432 2193 1435 2197 1456 2201 1432 2205 1451 2209 1448 2213 1449 2217 1479 2221 1460 2225 1571 2229 1681 2233 1718 2237 1775 2241 1791 2245 1812 2249 1815 2253 1844 2257 1828 2261 1831 2265 1840 2269 1832 2273 1816 2277 1808 2281 1794 2285 1791 2289 1806 2293 1796 2297 1789 2301 1789 2305 1791 2309 1772 2313 1779 2317 1760 2321 1754 2325 1772 2329 1746 2333 1733 2337 1735 2341 1718 2345 1723 2349 1713 2353 1714 2357 1716 2361 1685 2365 1693 2369 1695 2373 1688 2377 1679 2381 1690 2385 1681 2389 1664 2393 1660 2397 1650 2401 1657 2405 1651 2409 1647 2413 1654 2417 1642 2421 1644 2425 1632 2429 1630 2433 1626 2437 1626 2441 1616 2445 1607 2449 1606 2453 1598 2457 1593 2461 1592 2465 1592 2469 1578 2473 1587 2477 1583 2481 1592 2485 1581 2489 1583 2493 1568 2497 1573 2501 1569 2505 1550 2509 1552 2513 1553 2517 1550 2521 1550 2525 1546 2529 1534 2533 1537 2537 1534 2541 1521 2545 1534 2549 1535 2553 1523 2557 1530 2561 1520 2565 1509 2569 1513 2573 1511 2577 1505 2581 1518 2585 1499 2589 1493 2593 1497 2597 1493 2601 1483 2605 1504 2609 1500 2613 1498 2617 1479 2621 1467 2625 1482 2629 1474 2633 1473 2637 1473 2641 1472 2645 1471 2649 1464 2653 1464 2657 1467 2661 1462 2665 1463 2669 1453 2673 1477 2677 1449 2681 1474 2685 1464 2685 1575 2681 1586 2677 1586 2673 1587 2669 1580 2665 1594 2661 1598 2657 1590 2653 1590 2649 1606 2645 1606 2641 1609 2637 1611 2633 1613 2629 1582 2625 1610 2621 1599 2617 1614 2613 1610 2609 1631 2605 1624 2601 1615 2597 1627 2593 1630 2589 1626 2585 1641 2581 1635 2577 1628 2573 1629 2569 1647 2565 1639 2561 1642 2557 1649 2553 1657 2549 1654 2545 1654 2541 1662 2537 1656 2533 1643 2529 1658 2525 1669 2521 1684 2517 1686 2513 1689 2509 1692 2505 1685 2501 1694 2497 1687 2493 1708 2489 1698 2485 1701 2481 1711 2477 1717 2473 1720 2469 1714 2465 1716 2461 1721 2457 1717 2453 1737 2449 1736 2445 1741 2441 1738 2437 1735 2433 1756 2429 1742 2425 1749 2421 1763 2417 1782 2413 1780 2409 1784 2405 1796 2401 1781 2397 1794 2393 1788 2389 1812 2385 1799 2381 1806 2377 1800 2373 1815 2369 1823 2365 1813 2361 1821 2357 1832 2353 1834 2349 1846 2345 1848 2341 1857 2337 1854 2333 1859 2329 1886 2325 1882 2321 1880 2317 1889 2313 1898 2309 1901 2305 1900 2301 1914 2297 1916 2293 1928 2289 1932 2285 1944 2281 1936 2277 1947 2273 1954 2269 1949 2265 1945 2261 1960 2257 1969 2253 1952 2249 1949 2245 1939 2241 1926 2237 1886 2233 1845 2229 1787 2225 1709 2221 1588 2217 1587 2213 1578 2209 1572 2205 1583 2201 1578 2197 1574 2193 1562 2189 1561 2185 1573 2181 1563 2177 1538 2173 1554 2169 1558 2165 1561 2161 1556 2157 1546 2153 1549 2149 1550 2145 1537 2141 1525 2137 1525 2133 1525 2129 1518 2125 1535 2121 1520 2117 1508 2113 1506 2109 1523 2105 1504 2101 1506 2097 1493 2093 1501 2089 1501 2085 1503 2081 1490 2077 1480 2073 1474 2069 1482 2065 1472 2061 1474 2057 1453 2053 1461 2049 1457 2045 1482 2041 1460 2037 1444 2033 1434 2029 1444 2025 1428 2021 1448 2017 1428 2013 1421 2009 1425 2005 1420 2001 1409 1997 1394 1993 1400 1989 1406 1985 1389 1981 1397 1977 1385 1973 1391 1969 1373 1965 1375 1961 1363 1957 1366 1953 1362 1949 1344 1945 1340 1941 1351 1937 1347 1933 1327 1929 1329 1925 1318 1921 1300 1917 1306 1913 1301 1909 1298 1905 1301 1901 1292 1897 1275 1893 1261 1889 1280 1885 1262 1881 1256 1877 1259 1873 1231 1869 1238 1865 1239 1861 1233 1857 1223 1853 1229 1849 1228 1845 1207 1841 1188 1837 1196 1833 1172 1829 1179 1825 1177 1821 1167 1817 1157 1813 1148 1809 1143 1805 1133 1801 1129 1797 1138 1793 1113 1789 1104 1785 1118 1781 1106 1777 1116 1773 1108 1769 1122 1765 1131 1761 1144 1757 1178 1753 1214 1749 1262 1745 1359 1741 1470 1737 1573 1733 1583 1729 1579 1725 1580 1721 1578 1717 1581 1713 1596 1709 1593 1705 1594 1701 1582 1697 1603 1693 1595 1689 1594 1685 1597 1681 1604 1677 1610 1673 1597 1669 1593 1665 1616 1661 1610 1657 1604 1653 1609 1649 1609 1645 1626 1641 1622 1637 1614 1633 1615 1629 1619 1625 1631 1621 1636 1617 1634 1613 1644 1609 1642 1605 1634 1601 1643 1597 1643 1593 1641 1589 1665 1585 1660 1581 1637 1577 1659 1573 1642 1569 1670 1565 1680 1561 1666 1557 1690 1553 1673 1549 1669 1545 1688 1541 1691 1537 1697 1533 1697 1529 1694 1525 1699 1521 1687 1517 1714 1513 1710 1509 1704 1505 1719 1501 1721 1497 1733 1493 1721 1489 1737 1485 1722 1481 1717 1477 1739 1473 1743 1469 1743 1465 1760 1461 1750 1457 1761 1453 1767 1449 1769 1445 1765 1441 1780 1437 1780 1433 1800 1429 1794 1425 1796 1421 1803 1417 1814 1413 1807 1409 1824 1405 1817 1401 1842 1397 1845 1393 1831 1389 1840 1385 1839 1381 1850 1377 1840 1373 1873 1369 1861 1365 1879 1361 1883 1357 1873 1353 1898 1349 1899 1345 1902 1341 1906 1337 1924 1333 1920 1329 1930 1325 1942 1321 1940 1317 1952 1313 1936 1309 1954 1305 1943 1301 1951 1297 1939 1293 1963 1289 1957 1285 1966 1281 1935 1277 1918 1273 1901 1269 1863 1265 1826 1261 1743 1257 1639 1253 1598 1249 1582 1245 1565 1241 1572 1237 1563 1233 1582 1229 1559 1225 1579 1221 1562 1217 1561 1213 1562 1209 1553 1205 1557 1201 1551 1197 1553 1193 1537 1189 1533 1185 1547 1181 1537 1177 1529 1173 1533 1169 1541 1165 1528 1161 1534 1157 1525 1153 1510 1149 1517 1145 1512 1141 1522 1137 1502 1133 1515 1129 1507 1125 1495 1121 1485 1117 1487 1113 1485 1109 1479 1105 1471 1101 1474 1097 1470 1093 1467 1089 1462 1085 1468 1081 1453 1077 1457 1073 1439 1069 1433 1065 1432 1061 1428 1057 1437 1053 1442 1049 1424 1045 1425 1041 1423 1037 1417 1033 1401 1029 1409 1025 1389 1021 1389 1017 1397 1013 1375 1009 1382 1005 1376 1001 1384 997 1364 993 1358 989 1357 985 1349 981 1353 977 1345 973 1348 969 1337 965 1328 961 1326 957 1307 953 1311 949 1307 945 1304 941 1291 937 1295 933 1275 929 1276 925 1281 921 1269 917 1270 913 1267 909 1251 905 1239 901 1235 897 1238 893 1222 889 1222 885 1212 881 1199 877 1204 873 1190 869 1208 865 1173 861 1172 857 1173 853 1158 849 1153 845 1148 841 1140 837 1126 833 1118 829 1120 825 1127 821 1120 817 1114 813 1116 809 1100 805 1110 801 1123 797 1140 793 1158 789 1201 785 1233 781 1333 777 1415 773 1568 769 1568 765 1575 761 1576 757 1585 753 1569 749 1583 745 1580 741 1587 737 1582 733 1594 729 1602 725 1590 721 1598 717 1597 713 1585 709 1583 705 1617 701 1614 697 1602Z" fill="#ff0000" stroke="none"/>
<path transform="scale(0.25)" d="M697 1641l1 -145 1 130 1 -58 1 -69 1 121 1 8 1 -155 1 149 1 -113 1 61 1 9 1 -35 1 -58 1 151 1 -59 1 -34 1 -5 1 13 1 -46 1 78 1 -16 1 -87 1 16 1 108 1 -20 1 -2 1 -64 1 115 1 -33 1 -140 1 111 1 50 1 -46 1 -88 1 58 1 -17 1 56 1 18 1 -88 1 22 1 -54 1 83 1 -112 1 -35 1 61 1 -15 1 101 1 -89 1 90 1 -53 1 72 1 -135 1 112 1 -138 1 111 1 99 1 -240 1 143 1 -129 1 138 1 -168 1 19 1 43 1 105 1 -14 1 -38 1 40 1 -94 1 82 1 -40 1 111 1 -120 1 88 1 -144 1 222 1 -63 1 -56 1 -159 1 105 1 -105 1 -47 1 29 1 -137 1 107 1 -51 1 -88 1 43 1 -109 1 87 1 18 1 -65 1 -37 1 80 1 -129 1 -14 1 8 1 6 1 121 1 -59 1 -42 1 62 1 -122 1 -12 1 125 1 -89 1 7 1 -55 1 64 1 -106 1 189 1 -173 1 131 1 -39 1 -24 1 -11 1 -84 1 140 1 -114 1 -22 1 205 1 -104 1 -73 1 112 1 -130 1 56 1 -9 1 74 1 -76 1 54 1 105 1 -144 1 49 1 -70 1 -88 1 232 1 -7 1 12 1 -44 1 -21 1 -72 1 144 1 -89 1 -2 1 -33 1 48 1 84 1 -8 1 -156 1 134 1 1 1 -11 1 -40 1 -15 1 36 1 76 1 -93 1 -39 1 -3 1 131 1 -34 1 -83 1 15 1 -45 1 56 1 115 1 -133 1 -66 1 138 1 -65 1 115 1 40 1 -51 1 -81 1 79 1 -91 1 -19 1 -21 1 54 1 92 1 -104 1 74 1 -107 1 164 1 -76 1 -120 1 26 1 50 1 -7 1 89 1 -41 1 70 1 -83 1 117 1 -149 1 98 1 -34 1 93 1 -11 1 -87 1 48 1 -97 1 -11 1 90 1 72 1 -106 1 110 1 -126 1 12 1 153 1 -41 1 -89 1 15 1 -62 1 11 1 21 1 129 1 -97 1 119 1 -178 1 118 1 8 1 46 1 -171 1 94 1 -65 1 107 1 -103 1 80 1 18 1 -101 1 58 1 29 1 68 1 -122 1 110 1 -138 1 -9 1 99 1 -106 1 92 1 9 1 97 1 -62 1 75 1 -56 1 -65 1 96 1 -151 1 124 1 -126 1 30 1 -33 1 91 1 -103 1 36 1 83 1 -50 1 25 1 26 1 -107 1 42 1 -10 1 25 1 -64 1 135 1 -15 1 -46 1 76 1 -122 1 -6 1 38 1 -36 1 -6 1 90 1 27 1 -49 1 68 1 24 1 17 1 -33 1 -67 1 -68 1 9 1 22 1 -4 1 123 1 -120 1 78 1 -1 1 -29 1 -40 1 108 1 -8 1 -51 1 -15 1 15 1 -85 1 107 1 -26 1 39 1 30 1 -84 1 -18 1 32 1 -15 1 72 1 37 1 -94 1 5 1 24 1 21 1 -9 1 -102 1 17 1 70 1 46 1 -42 1 28 1 -31 1 -134 1 155 1 -75 1 62 1 64 1 -87 1 90 1 -103 1 48 1 50 1 -43 1 -82 1 88 1 -85 1 169 1 -153 1 149 1 -74 1 77 1 -95 1 -74 1 204 1 -89 1 -26 1 47 1 -92 1 6 1 -18 1 36 1 99 1 -159 1 76 1 0 1 -28 1 6 1 -62 1 179 1 -151 1 83 1 -125 1 84 1 56 1 68 1 -184 1 60 1 80 1 -71 1 62 1 -125 1 -8 1 109 1 -5 1 91 1 -230 1 103 1 -39 1 156 1 -97 1 6 1 -28 1 -19 1 37 1 95 1 -128 1 120 1 21 1 -134 1 37 1 -18 1 126 1 -72 1 23 1 -2 1 -123 1 164 1 -3 1 -96 1 19 1 126 1 -142 1 12 1 -47 1 54 1 86 1 14 1 -157 1 102 1 -12 1 13 1 -15 1 -50 1 61 1 -53 1 -13 1 44 1 -69 1 164 1 -36 1 -35 1 38 1 -111 1 50 1 38 1 73 1 -68 1 -51 1 -3 1 94 1 -57 1 84 1 -146 1 107 1 -139 1 76 1 20 1 -113 1 153 1 -85 1 20 1 81 1 -67 1 80 1 19 1 4 1 -16 1 5 1 49 1 -146 1 9 1 84 1 -11 1 -69 1 124 1 4 1 -23 1 -82 1 60 1 17 1 -74 1 57 1 -76 1 -16 1 -5 1 0 1 136 1 -141 1 74 1 -80 1 85 1 42 1 -8 1 -10 1 -22 1 -5 1 20 1 72 1 -181 1 44 1 65 1 -42 1 123 1 -127 1 -53 1 46 1 6 1 31 1 -18 1 46 1 -57 1 2 1 70 1 103 1 -47 1 -115 1 65 1 13 1 -27 1 -87 1 59 1 91 1 -138 1 -64 1 176 1 17 1 -50 1 52 1 -59 1 27 1 -117 1 120 1 -100 1 78 1 -44 1 -67 1 64 1 99 1 -147 1 175 1 -191 1 143 1 -111 1 77 1 -96 1 -6 1 143 1 -32 1 67 1 -131 1 -69 1 25 1 79 1 77 1 1 1 -45 1 -100 1 5 1 97 1 6 1 20 1 -63 1 13 1 -101 1 133 1 44 1 1 1 -122 1 96 1 37 1 -107 1 -67 1 58 1 115 1 -113 1 7 1 140 1 -154 1 -3 1 83 1 -101 1 141 1 -91 1 63 1 -56 1 235 1 -77 1 0 1 -51 1 3 1 101 1 95 1 -73 1 92 1 50 1 -49 1 -86 1 -12 1 109 1 -30 1 58 1 65 1 -151 1 26 1 81 1 8 1 -24 1 -65 1 135 1 -171 1 151 1 -56 1 79 1 -104 1 104 1 -46 1 80 1 -85 1 81 1 -118 1 58 1 -1 1 -87 1 103 1 -49 1 87 1 -78 1 4 1 -54 1 50 1 -25 1 -66 1 45 1 59 1 17 1 43 1 -72 1 -106 1 43 1 92 1 -99 1 111 1 -74 1 -93 1 42 1 82 1 66 1 -189 1 121 1 -21 1 76 1 -153 1 17 1 83 1 -115 1 73 1 -52 1 43 1 18 1 -63 1 72 1 -34 1 -35 1 -26 1 121 1 -40 1 -32 1 -69 1 -13 1 111 1 -8 1 -62 1 63 1 -51 1 22 1 -43 1 -10 1 26 1 137 1 -118 1 -57 1 110 1 -1 1 -66 1 -24 1 139 1 -17 1 -21 1 -93 1 -55 1 -13 1 126 1 -105 1 104 1 71 1 -100 1 36 1 -11 1 -46 1 -4 1 -13 1 85 1 2 1 -28 1 -6 1 -89 1 33 1 14 1 22 1 41 1 -77 1 87 1 -85 1 -28 1 -36 1 6 1 43 1 79 1 7 1 -60 1 -50 1 36 1 -33 1 -41 1 111 1 -26 1 0 1 57 1 -82 1 12 1 -58 1 149 1 -39 1 -111 1 41 1 -44 1 40 1 -135 1 30 1 67 1 66 1 -61 1 6 1 7 1 75 1 -149 1 158 1 14 1 -3 1 -113 1 5 1 -58 1 160 1 -197 1 98 1 84 1 -149 1 7 1 21 1 117 1 -51 1 -111 1 14 1 28 1 38 1 57 1 -108 1 58 1 58 1 33 1 -54 1 23 1 -126 1 23 1 87 1 -71 1 -51 1 7 1 -1 1 85 1 -104 1 83 1 27 1 -46 1 5 1 -109 1 40 1 38 1 -28 1 55 1 8 1 -62 1 -27 1 68 1 21 1 -36 1 72 1 -146 1 129 1 45 1 -68 1 -75 1 -33 1 126 1 -143 1 109 1 4 1 -30 1 -42 1 -49 1 51 1 106 1 -34 1 -34 1 -35 1 90 1 -42 1 -13 1 46 1 -162 1 45 1 -55 1 38 1 106 1 -83 1 -52 1 67 1 56 1 22 1 -69 1 47 1 -77 1 67 1 -5 1 -48 1 32 1 -3 1 51 1 36 1 -71 1 11 1 -78 1 181 1 -171 1 57 1 -89 1 41 1 47 1 -100 1 79 1 35 1 61 1 -176 1 27 1 29 1 95 1 -57 1 -70 1 124 1 14 1 -103 1 115 1 -31 1 -4 1 32 1 0 1 -25 1 -67 1 -51 1 109 1 -94 1 71 1 -112 1 38 1 -11 1 123 1 -44 1 -62 1 -27 1 101 1 -105 1 118 1 -80 1 45 1 -81 1 69 1 26 1 -19 1 -6 1 -67 1 48 1 -18 1 -5 1 -24 1 19 1 102 1 -103 1 -28 1 -55 1 50 1 126 1 -72 1 -41 1 145 1 -168 1 54 1 -28 1 -7 1 95 1 -146 1 59 1 130 1 -98 1 -27 1 46 1 37 1 -113 1 -79 1 130 1 38 1 -111 1 12 1 -4 1 111 1 -30 1 -129 1 0 1 36 1 111 1 -198 1 129 1 34 1 70 1 8 1 -136 1 67 1 51 1 -13 1 6 1 -25 1 -71 1 42 1 -110 1 96 1 -86 1 88 1 -24 1 110 1 -104 1 -20 1 -33 1 98 1 -129 1 24 1 130 1 -18 1 -93 1 136 1 -141 1 131 1 -123 1 -19 1 159 1 -235 1 170 1 -42 1 46 1 -112 1 -13 1 76 1 -72 1 -35 1 54 1 45 1 -35 1 -62 1 152 1 -127 1 117 1 -112 1 61 1 60 1 -62 1 59 1 38 1 -83 1 47 1 21 1 -96 1 -12 1 13 1 -13 1 43 1 120 1 -106 1 -113 1 42 1 42 1 -94 1 94 1 31 1 19 1 -31 1 -22 1 -43 1 7 1 29 1 70 1 -102 1 49 1 -2 1 -24 1 62 1 -135 1 146 1 -137 1 119 1 -103 1 89 1 -153 1 186 1 -12 1 59 1 -88 1 -83 1 88 1 -94 1 187 1 -94 1 6 1 -81 1 4 1 54 1 70 1 -155 1 59 1 15 1 47 1 35 1 -159 1 128 1 -147 1 -4 1 143 1 -84 1 29 1 -15 1 -68 1 39 1 -42 1 184 1 -196 1 24 1 2 1 88 1 3 1 -89 1 -36 1 44 1 42 1 -41 1 137 1 -24 1 22 1 -169 1 89 1 -127 1 -11 1 -18 1 2 1 -82 1 65 1 -131 1 -13 1 104 1 -168 1 -20 1 2 1 166 1 -46 1 -106 1 -21 1 -77 1 53 1 -33 1 32 1 -22 1 36 1 -6 1 93 1 -166 1 -11 1 -13 1 119 1 -46 1 61 1 -84 1 -92 1 132 1 -132 1 162 1 -125 1 2 1 119 1 -17 1 -28 1 -12 1 29 1 -74 1 -56 1 59 1 22 1 -89 1 170 1 -4 1 -72 1 -50 1 9 1 131 1 -129 1 143 1 -138 1 52 1 -22 1 43 1 54 1 -110 1 91 1 59 1 -64 1 -131 1 165 1 -136 1 156 1 -62 1 -80 1 70 1 -73 1 20 1 -61 1 179 1 -140 1 155 1 -165 1 43 1 -33 1 99 1 -102 1 179 1 -41 1 46 1 -63 1 -3 1 -11 1 115 1 -135 1 74 1 -64 1 71 1 -26 1 -29 1 -19 1 -59 1 163 1 25 1 -175 1 53 1 71 1 -119 1 135 1 -101 1 74 1 -3 1 54 1 -34 1 -97 1 -4 1 96 1 36 1 -47 1 89 1 -44 1 -7 1 -11 1 6 1 -92 1 144 1 -177 1 106 1 95 1 -63 1 -46 1 -57 1 -30 1 106 1 21 1 -119 1 25 1 -35 1 93 1 36 1 -47 1 153 1 -116 1 -62 1 -21 1 16 1 40 1 77 1 12 1 25 1 -119 1 15 1 -3 1 37 1 5 1 -42 1 13 1 22 1 -52 1 -45 1 42 1 65 1 -36 1 26 1 -2 1 -23 1 -5 1 -61 1 82 1 32 1 41 1 -104 1 46 1 30 1 -73 1 8 1 169 1 -93 1 -56 1 28 1 -5 1 152 1 -109 1 87 1 -180 1 151 1 -116 1 125 1 -57 1 11 1 63 1 -188 1 181 1 -112 1 -39 1 25 1 -12 1 110 1 -108 1 68 1 -104 1 144 1 87 1 -148 1 8 1 -7 1 148 1 -80 1 33 1 -39 1 54 1 -175 1 191 1 -97 1 -52 1 13 1 -42 1 155 1 -59 1 -41 1 81 1 -116 1 71 1 -16 1 -37 1 -55 1 96 1 -9 1 -47 1 55 1 30 1 12 1 32 1 16 1 -51 1 -60 1 133 1 -177 1 55 1 136 1 -108 1 71 1 -159 1 11 1 109 1 10 1 -8 1 -117 1 84 1 44 1 16 1 -6 1 -33 1 25 1 -135 1 75 1 11 1 -21 1 20 1 10 1 106 1 -62 1 -105 1 98 1 -38 1 43 1 31 1 -59 1 47 1 -24 1 -57 1 48 1 -62 1 120 1 44 1 -47 1 -65 1 -13 1 -6 1 58 1 1 1 -25 1 96 1 -88 1 -47 1 35 1 -64 1 -26 1 121 1 -53 1 -46 1 169 1 -62 1 8 1 27 1 -63 1 9 1 -38 1 53 1 4 1 14 1 -9 1 39 1 -26 1 -65 1 163 1 -118 1 90 1 -145 1 -66 1 131 1 -115 1 147 1 -101 1 107 1 -19 1 -18 1 -3 1 55 1 -20 1 75 1 -96 1 -65 1 133 1 -95 1 77 1 -130 1 -12 1 54 1 50 1 16 1 -63 1 60 1 54 1 -8 1 -54 1 53 1 -58 1 18 1 17 1 6 1 -81 1 28 1 -70 1 80 1 42 1 0 1 68 1 -153 1 19 1 -52 1 140 1 -47 1 -53 1 79 1 2 1 40 1 -111 1 -3 1 130 1 -78 1 51 1 -94 1 87 1 29 1 -5 1 -12 1 -115 1 124 1 -76 1 91 1 4 1 -59 1 18 1 -72 1 22 1 -20 1 49 1 36 1 -16 1 -45 1 5 1 102 1 -74 1 -8 1 78 1 -57 1 -24 1 83 1 -103 1 -77 1 82 1 101 1 -193 1 128 1 -42 1 -19 1 2 1 111 1 -33 1 5 1 57 1 -30 1 -40 1 -37 1 37 1 -133 1 142 1 -128 1 147 1 -75 1 102 1 -76 1 77 1 -54 1 -60 1 48 1 4 1 141 1 -160 1 78 1 -121 1 114 1 -166 1 89 1 65 1 -156 1 106 1 91 1 -198 1 107 1 99 1 -113 1 77 1 -78 1 60 1 -27 1 -37 1 40 1 25 1 -30 1 70 1 -32 1 -15 1 -79 1 1 1 -18 1 105 1 -81 1 -36 1 73 1 -65 1 80 1 -78 1 38 1 -40 1 90 1 -18 1 -4 1 -29 1 74 1 42 1 -39 1 -27 1 51 1 -20 1 -20 1 16 1 -104 1 123 1 -60 1 67 1 -40 1 64 1 -11 1 -8 1 -87 1 135 1 -179 1 -28 1 155 1 -79 1 -12 1 122 1 -38 1 -28 1 57 1 -4 1 24 1 34 1 47 1 71 1 -52 1 -67 1 77 1 94 1 49 1 -14 1 -13 1 11 1 58 1 -29 1 -15 1 -78 1 89 1 6 1 -20 1 -58 1 -4 1 115 1 -87 1 173 1 -188 1 68 1 80 1 -43 1 -103 1 29 1 64 1 59 1 -53 1 -53 1 -31 1 142 1 -14 1 -6 1 -20 1 -58 1 -70 1 163 1 -44 1 -113 1 140 1 -64 1 51 1 -107 1 100 1 -64 1 75 1 -10 1 -2 1 -8 1 63 1 -138 1 123 1 18 1 -114 1 121 1 -111 1 81 1 -48 1 30 1 9 1 -148 1 2 1 14 1 -17 1 -16 1 181 1 -85 1 -31 1 23 1 -123 1 159 1 37 1 -134 1 99 1 -99 1 -42 1 14 1 43 1 30 1 50 1 2 1 -120 1 143 1 -175 1 167 1 -29 1 17 1 2 1 -159 1 129 1 -50 1 37 1 -106 1 131 1 -8 1 -134 1 38 1 100 1 -36 1 -133 1 74 1 15 1 -47 1 39 1 60 1 -129 1 92 1 -52 1 1 1 -34 1 22 1 1 1 95 1 -9 1 -115 1 25 1 24 1 71 1 -127 1 -9 1 137 1 -95 1 46 1 92 1 -72 1 43 1 -103 1 128 1 -85 1 -92 1 3 1 115 1 -117 1 58 1 92 1 25 1 -52 1 -71 1 -48 1 23 1 11 1 -11 1 -47 1 -40 1 50 1 109 1 -1 1 -136 1 90 1 -44 1 52 1 -25 1 77 1 -107 1 6 1 80 1 -70 1 61 1 -25 1 20 1 -31 1 76 1 -132 1 -7 1 -44 1 -3 1 8 1 -2 1 28 1 123 1 -44 1 -38 1 12 1 46 1 -124 1 34 1 54 1 33 1 -155 1 -16 1 57 1 100 1 -111 1 -69 1 149 1 -51 1 52 1 -5 1 -78 1 -9 1 -39 1 34 1 -9 1 8 1 34 1 -41 1 -14 1 37 1 -46 1 140 1 -101 1 147 1 21 1 -194 1 22 1 -61 1 70 1 -84 1 156 1 -93 1 106 1 -104 1 72 1 26 1 -101 1 -54 1 82 1 34 1 49 1 -56 1 -78 1 97 1 -40 1 -12 1 104 1 -46 1 16 1 -21 1 -88 1 78 1 -91 1 31 1 11 1 -109 1 94 1 -59 1 27 1 139 1 -70 1 37 1 -6 1 -135 1 109 1 -1 1 -44 1 16 1 114 1 -151 1 20 1 4 1 -65 1 17 1 -40 1 142 1 -23 1 -12 1 12 1 85 1 -57 1 -52 1 -12 1 26 1 -80 1 133 1 -79 1 -27 1 28 1 141 1 -220 1 158 1 -79 1 -48 1 -1 1 89 1 82 1 -81 1 50 1 -57 1 -141 1 -25 1 7 1 105 1 62 1 -80 1 5 1 -46 1 96 1 11 1 -84 1 58 1 9 1 61 1 -1 1 -155 1 107 1 27 1 -106 1 -89 1 163 1 31 1 -184 1 149 1 -88 1 -2 1 75 1 -69 1 105 1 -7 1 -94 1 27 1 6 1 -24 1 62 1 38 1 -28 1 -67 1 108 1 -44 1 -66 1 -51 1 -42 1 184 1 -46 1 -5 1 -96 1 81 1 -63 1 47 1 -119 1 42 1 42 1 72 1 52 1 -183 1 166 1 -55 1 -34 1 -66 1 28 1 72 1 -56 1 15 1 38 1 -96 1 95 1 -27 1 8 1 32 1 -45 1 -31 1 52 1 1 1 -2 1 -53 1 91 1 -3 1 -64 1 -77 1 140 1 -193 1 135 1 -14 1 -9 1 75 1 -91 1 -41 1 98 1 48 1 4 1 -93 1 -23 1 73 1 -75 1 95 1 -46 1 46 1 -48 1 -28 1 39 1 14 1 1 1 -110 1 92 1 -5 1 25 1 -97 1 100 1 -45 1 42 1 -20 1 -42 1 54 1 -76 1 55 1 -71 1 17 1 26 1 -7 1 85 1 -136 1 165 1 -28 1 -12 1 26 1 -168 1 20 1 69 1 -20 1 -9 1 66 1 -91 1 54 1 50 1 -104 1 53 1 -69 1 78 1 93 1 -143 1 12 1 -10 1 138 1 -182 1 102 1 12 1 41 1 -145 1 191 1 -138 1 -94 1 161 1 -43 1 -35 1 -18 1 -5 1 102 1 -129 1 24 1 51 1 21 1 -117 1 44 1 84 1 34 1 -161 1 189 1 -102 1 57 1 -132 1 147 1 -138 1 42 1 116 1 -56 1 -52 1 -57 1 96 1 0 1 -67" stroke="#ff0000" stroke-width="8.8"/>
<path transform="scale(0.25)" d="M697 2261l1 128 1 7 1 -96 1 119 1 -48 1 73 1 -69 1 108 1 -176 1 -20 1 -2 1 64 1 3 1 71 1 -10 1 30 1 -193 1 127 1 51 1 -19 1 -144 1 90 1 -155 1 183 1 -45 1 -85 1 -6 1 81 1 33 1 -28 1 45 1 74 1 -137 1 -34 1 11 1 103 1 -90 1 -29 1 70 1 38 1 -92 1 17 1 -30 1 21 1 -39 1 67 1 61 1 -129 1 36 1 93 1 -76 1 25 1 64 1 4 1 -83 1 59 1 -122 1 124 1 -100 1 104 1 -142 1 46 1 89 1 -116 1 38 1 71 1 -37 1 -19 1 86 1 -146 1 -43 1 164 1 0 1 24 1 -10 1 47 1 -144 1 -154 1 112 1 -35 1 40 1 -76 1 -97 1 80 1 30 1 -246 1 210 1 -216 1 137 1 -71 1 25 1 -119 1 -1 1 34 1 63 1 19 1 -30 1 -102 1 54 1 -27 1 -68 1 66 1 20 1 -73 1 66 1 -65 1 29 1 29 1 -107 1 -54 1 157 1 85 1 -62 1 -53 1 3 1 -45 1 76 1 -68 1 96 1 -50 1 19 1 -131 1 53 1 -16 1 -24 1 109 1 -3 1 -35 1 -65 1 171 1 -57 1 -4 1 -71 1 107 1 -114 1 12 1 -39 1 157 1 -108 1 48 1 -47 1 53 1 10 1 -112 1 96 1 -2 1 -45 1 -16 1 49 1 -81 1 -2 1 -13 1 66 1 77 1 -163 1 173 1 21 1 -207 1 176 1 -61 1 34 1 6 1 -7 1 12 1 -71 1 -59 1 134 1 -25 1 -96 1 112 1 19 1 -67 1 80 1 67 1 -63 1 24 1 -165 1 -12 1 97 1 -23 1 141 1 -158 1 33 1 -119 1 21 1 185 1 -11 1 -33 1 76 1 21 1 -61 1 29 1 30 1 -147 1 14 1 77 1 -106 1 74 1 57 1 -24 1 -13 1 -44 1 102 1 -152 1 188 1 -92 1 30 1 -31 1 -51 1 107 1 -69 1 -3 1 -37 1 107 1 -114 1 62 1 51 1 -28 1 -79 1 80 1 109 1 -108 1 -70 1 20 1 -21 1 76 1 -84 1 163 1 15 1 -28 1 -20 1 -58 1 50 1 -33 1 -176 1 219 1 -144 1 -41 1 174 1 -61 1 67 1 -52 1 13 1 -64 1 91 1 116 1 -145 1 56 1 20 1 -68 1 -8 1 80 1 15 1 -62 1 -156 1 230 1 -41 1 -48 1 -29 1 111 1 11 1 -156 1 55 1 48 1 -80 1 47 1 45 1 -54 1 76 1 -199 1 214 1 -42 1 -77 1 -33 1 71 1 -7 1 100 1 -113 1 55 1 -4 1 102 1 -43 1 -63 1 96 1 -151 1 -53 1 16 1 121 1 108 1 -90 1 22 1 8 1 2 1 -104 1 -11 1 84 1 5 1 1 1 -9 1 13 1 -80 1 -18 1 68 1 -93 1 116 1 -18 1 -9 1 -106 1 126 1 -118 1 -2 1 68 1 10 1 -5 1 -82 1 45 1 41 1 -94 1 116 1 -7 1 24 1 82 1 -155 1 76 1 -1 1 -96 1 14 1 149 1 -152 1 0 1 34 1 42 1 -63 1 119 1 -148 1 -11 1 67 1 -98 1 118 1 61 1 48 1 -22 1 -179 1 54 1 30 1 99 1 -104 1 43 1 -22 1 22 1 28 1 -13 1 -25 1 -39 1 14 1 9 1 -73 1 217 1 -199 1 10 1 173 1 -71 1 22 1 -156 1 96 1 -25 1 139 1 -83 1 50 1 42 1 -103 1 -78 1 96 1 57 1 -146 1 68 1 -138 1 112 1 79 1 -68 1 109 1 -107 1 81 1 -223 1 153 1 107 1 -13 1 -49 1 -99 1 119 1 -48 1 -2 1 -8 1 49 1 -67 1 9 1 -1 1 21 1 26 1 14 1 40 1 6 1 -172 1 144 1 43 1 -59 1 -85 1 124 1 -29 1 -130 1 31 1 -47 1 81 1 -7 1 -48 1 -23 1 19 1 -40 1 43 1 76 1 96 1 -30 1 -133 1 128 1 -44 1 -103 1 118 1 -8 1 -28 1 140 1 -135 1 -113 1 128 1 -50 1 206 1 -63 1 -164 1 -11 1 118 1 -84 1 60 1 -27 1 -63 1 185 1 -95 1 -50 1 -9 1 81 1 -134 1 84 1 62 1 -77 1 69 1 44 1 6 1 -155 1 126 1 29 1 9 1 -31 1 -37 1 -107 1 66 1 -13 1 49 1 58 1 -19 1 -74 1 53 1 -121 1 28 1 127 1 -74 1 -96 1 147 1 10 1 -94 1 -1 1 63 1 -145 1 72 1 -5 1 147 1 -184 1 2 1 73 1 -9 1 -82 1 136 1 -27 1 64 1 -36 1 -1 1 10 1 -57 1 -59 1 53 1 -62 1 25 1 112 1 -110 1 181 1 -95 1 33 1 -37 1 126 1 -42 1 11 1 8 1 -181 1 -4 1 100 1 -20 1 74 1 -97 1 39 1 -56 1 74 1 -42 1 -4 1 108 1 -5 1 -56 1 -28 1 -4 1 -69 1 143 1 -94 1 69 1 -52 1 89 1 -30 1 -114 1 140 1 -34 1 -104 1 72 1 -113 1 122 1 59 1 -38 1 20 1 -90 1 -46 1 30 1 72 1 -72 1 122 1 35 1 -75 1 -99 1 120 1 -19 1 5 1 -78 1 61 1 13 1 46 1 -143 1 38 1 203 1 -55 1 -92 1 42 1 117 1 -18 1 126 1 17 1 -82 1 66 1 -19 1 58 1 -38 1 -51 1 85 1 24 1 117 1 -169 1 89 1 90 1 -92 1 12 1 55 1 -85 1 -63 1 39 1 208 1 -119 1 16 1 -39 1 110 1 -86 1 -66 1 37 1 -90 1 126 1 48 1 -132 1 15 1 131 1 22 1 -130 1 157 1 -60 1 -153 1 76 1 -47 1 212 1 -87 1 20 1 33 1 -99 1 130 1 -169 1 58 1 32 1 35 1 -45 1 52 1 -198 1 0 1 69 1 55 1 -66 1 140 1 -31 1 -60 1 41 1 -32 1 -117 1 123 1 44 1 9 1 -125 1 -32 1 79 1 19 1 54 1 -216 1 77 1 62 1 -119 1 91 1 35 1 -67 1 100 1 -41 1 -33 1 1 1 23 1 31 1 47 1 -65 1 -124 1 6 1 34 1 88 1 -77 1 171 1 -123 1 -4 1 30 1 -106 1 51 1 81 1 -148 1 -8 1 30 1 -18 1 96 1 31 1 -102 1 57 1 -66 1 75 1 -37 1 -25 1 94 1 -80 1 44 1 -72 1 -36 1 119 1 -114 1 126 1 -3 1 -137 1 115 1 -113 1 21 1 76 1 13 1 -105 1 21 1 74 1 90 1 -75 1 -44 1 -63 1 -30 1 47 1 110 1 7 1 -166 1 19 1 158 1 -21 1 -63 1 -103 1 129 1 47 1 -160 1 142 1 -133 1 -20 1 93 1 -95 1 82 1 60 1 -84 1 -58 1 115 1 -99 1 8 1 47 1 -99 1 33 1 35 1 -48 1 23 1 -31 1 41 1 98 1 -157 1 73 1 117 1 -30 1 -99 1 -40 1 105 1 -11 1 -145 1 98 1 43 1 -69 1 85 1 32 1 31 1 -74 1 -76 1 98 1 -1 1 -78 1 13 1 10 1 -99 1 129 1 -40 1 77 1 -157 1 3 1 38 1 15 1 26 1 110 1 -196 1 155 1 4 1 -14 1 -134 1 114 1 2 1 -66 1 -78 1 25 1 37 1 51 1 -49 1 -19 1 78 1 -49 1 15 1 11 1 -10 1 8 1 -62 1 -73 1 182 1 -63 1 56 1 17 1 -81 1 11 1 77 1 -102 1 50 1 38 1 -63 1 -50 1 75 1 -102 1 16 1 98 1 -47 1 38 1 -37 1 57 1 -31 1 46 1 -175 1 56 1 -74 1 26 1 47 1 129 1 -117 1 -100 1 11 1 95 1 -1 1 -46 1 159 1 -197 1 -30 1 142 1 -75 1 103 1 -150 1 73 1 22 1 -66 1 31 1 -36 1 64 1 -49 1 108 1 -43 1 -39 1 -39 1 -34 1 133 1 -179 1 -14 1 112 1 58 1 34 1 -91 1 -84 1 178 1 53 1 -158 1 35 1 63 1 -46 1 29 1 -33 1 -83 1 56 1 -63 1 39 1 -17 1 95 1 -116 1 60 1 69 1 -43 1 20 1 71 1 -43 1 -143 1 47 1 -12 1 106 1 -93 1 -92 1 36 1 -24 1 91 1 -68 1 136 1 -129 1 13 1 -71 1 249 1 -38 1 6 1 -101 1 -85 1 82 1 -65 1 117 1 -24 1 -27 1 6 1 8 1 -127 1 17 1 138 1 33 1 -29 1 16 1 -138 1 116 1 -95 1 -35 1 115 1 -59 1 69 1 53 1 -163 1 60 1 42 1 -34 1 11 1 5 1 -62 1 9 1 110 1 -100 1 84 1 -116 1 68 1 -96 1 -51 1 130 1 96 1 -63 1 -106 1 56 1 -27 1 45 1 -66 1 37 1 81 1 -97 1 -4 1 80 1 -120 1 127 1 -120 1 97 1 -72 1 126 1 -134 1 68 1 -67 1 -8 1 92 1 33 1 -122 1 -36 1 153 1 -101 1 136 1 -115 1 -32 1 109 1 8 1 -6 1 3 1 29 1 2 1 -63 1 -97 1 101 1 57 1 -74 1 20 1 -32 1 -101 1 118 1 -3 1 -2 1 -25 1 124 1 -146 1 -61 1 3 1 -30 1 120 1 -19 1 -81 1 82 1 -29 1 -23 1 -43 1 87 1 148 1 -290 1 153 1 -3 1 -62 1 146 1 7 1 -118 1 50 1 18 1 26 1 -85 1 96 1 -172 1 166 1 -32 1 -49 1 -113 1 12 1 139 1 -83 1 25 1 5 1 72 1 8 1 -59 1 27 1 -40 1 -15 1 116 1 5 1 -114 1 -88 1 65 1 -85 1 221 1 4 1 -38 1 -41 1 -61 1 -103 1 81 1 64 1 -80 1 64 1 -38 1 124 1 -12 1 -89 1 22 1 -58 1 69 1 -36 1 97 1 -14 1 -189 1 63 1 -95 1 -54 1 89 1 -61 1 -40 1 52 1 -60 1 -90 1 -52 1 37 1 24 1 -57 1 110 1 23 1 3 1 -182 1 27 1 27 1 34 1 -33 1 15 1 -43 1 -22 1 67 1 18 1 -160 1 -2 1 100 1 -171 1 30 1 6 1 68 1 89 1 -7 1 -164 1 169 1 -126 1 81 1 -35 1 -21 1 117 1 -175 1 108 1 -90 1 20 1 110 1 -142 1 97 1 4 1 -142 1 149 1 -71 1 -19 1 1 1 54 1 -5 1 57 1 -91 1 186 1 -156 1 -2 1 -45 1 60 1 42 1 -75 1 -14 1 -44 1 56 1 127 1 -77 1 34 1 -85 1 136 1 -75 1 -101 1 207 1 -177 1 135 1 -103 1 10 1 -40 1 119 1 -31 1 106 1 -195 1 183 1 5 1 -188 1 120 1 -126 1 38 1 48 1 112 1 -52 1 -96 1 -19 1 -11 1 -18 1 20 1 98 1 -77 1 80 1 -26 1 14 1 -32 1 27 1 35 1 -90 1 -2 1 5 1 88 1 4 1 -94 1 98 1 47 1 -120 1 93 1 -70 1 7 1 16 1 -38 1 51 1 -146 1 -18 1 38 1 176 1 -31 1 -34 1 2 1 21 1 11 1 -103 1 70 1 -52 1 175 1 -106 1 -34 1 72 1 -139 1 131 1 32 1 -147 1 62 1 -72 1 122 1 21 1 8 1 -21 1 55 1 -40 1 -34 1 -26 1 5 1 61 1 -26 1 -28 1 100 1 -123 1 150 1 -118 1 -95 1 86 1 83 1 -10 1 35 1 -97 1 13 1 119 1 -5 1 -180 1 80 1 -57 1 -1 1 48 1 7 1 -1 1 21 1 -2 1 -42 1 60 1 -109 1 85 1 -52 1 20 1 42 1 26 1 25 1 -127 1 156 1 -172 1 188 1 64 1 -154 1 -85 1 -9 1 -19 1 24 1 20 1 -10 1 8 1 -2 1 91 1 41 1 -91 1 13 1 15 1 13 1 -117 1 172 1 26 1 -139 1 22 1 2 1 -8 1 -80 1 154 1 -72 1 -4 1 139 1 -131 1 63 1 15 1 -54 1 107 1 -54 1 19 1 -111 1 -9 1 -5 1 77 1 -74 1 96 1 -110 1 142 1 -91 1 38 1 48 1 -159 1 68 1 -33 1 134 1 -12 1 -76 1 16 1 -18 1 -27 1 87 1 -96 1 141 1 14 1 30 1 -101 1 -67 1 -62 1 142 1 -54 1 91 1 -75 1 -25 1 163 1 -147 1 93 1 66 1 -63 1 -96 1 -39 1 135 1 -143 1 132 1 10 1 8 1 -94 1 84 1 -100 1 -42 1 57 1 140 1 -57 1 -180 1 155 1 -48 1 83 1 41 1 -113 1 100 1 -73 1 91 1 -220 1 113 1 72 1 23 1 -8 1 -107 1 37 1 -8 1 83 1 -56 1 -125 1 208 1 42 1 -131 1 10 1 -49 1 74 1 80 1 -57 1 33 1 -127 1 3 1 14 1 -3 1 -24 1 59 1 -91 1 53 1 80 1 -7 1 -32 1 -30 1 46 1 11 1 42 1 -171 1 216 1 -93 1 23 1 14 1 -78 1 123 1 -107 1 -33 1 -16 1 149 1 -126 1 65 1 40 1 -178 1 115 1 72 1 -44 1 -176 1 143 1 -69 1 -34 1 62 1 -44 1 101 1 -38 1 41 1 -26 1 82 1 -206 1 124 1 -9 1 29 1 40 1 -75 1 77 1 59 1 -145 1 85 1 -113 1 -27 1 167 1 -110 1 -26 1 17 1 109 1 24 1 40 1 -212 1 145 1 -91 1 93 1 -179 1 161 1 -23 1 -111 1 102 1 -101 1 124 1 17 1 52 1 -108 1 -21 1 -49 1 -17 1 65 1 55 1 8 1 -51 1 62 1 -114 1 -6 1 121 1 -55 1 -50 1 -7 1 50 1 40 1 -68 1 169 1 -104 1 -44 1 -40 1 60 1 65 1 56 1 -109 1 39 1 -59 1 29 1 -83 1 18 1 116 1 -81 1 95 1 -55 1 -47 1 -39 1 162 1 -166 1 110 1 -19 1 116 1 -83 1 122 1 -191 1 38 1 11 1 69 1 9 1 -69 1 -102 1 75 1 -20 1 -32 1 62 1 -61 1 81 1 84 1 -189 1 185 1 -45 1 6 1 -121 1 54 1 -107 1 78 1 1 1 129 1 34 1 -34 1 -62 1 12 1 -48 1 79 1 -33 1 -112 1 42 1 127 1 -145 1 154 1 -21 1 -87 1 22 1 -43 1 128 1 -91 1 -76 1 -1 1 239 1 -137 1 -123 1 88 1 -21 1 100 1 59 1 -75 1 10 1 -154 1 130 1 -24 1 143 1 46 1 -51 1 126 1 -173 1 99 1 114 1 -120 1 92 1 -46 1 -40 1 144 1 -57 1 -1 1 138 1 -140 1 63 1 -55 1 142 1 8 1 64 1 -170 1 30 1 99 1 -120 1 -37 1 181 1 -141 1 28 1 -17 1 37 1 -16 1 -10 1 55 1 -59 1 161 1 -42 1 79 1 -171 1 24 1 82 1 3 1 -15 1 -41 1 -34 1 -9 1 97 1 -108 1 113 1 36 1 -153 1 36 1 45 1 109 1 -6 1 -2 1 -207 1 194 1 -112 1 -22 1 -72 1 57 1 31 1 -30 1 41 1 -40 1 7 1 -82 1 13 1 -4 1 28 1 108 1 -67 1 8 1 -29 1 27 1 72 1 6 1 -86 1 -42 1 100 1 2 1 -83 1 -2 1 -52 1 165 1 -57 1 -30 1 31 1 39 1 -125 1 10 1 68 1 -40 1 118 1 -53 1 -75 1 -5 1 96 1 -140 1 -41 1 51 1 54 1 45 1 28 1 -59 1 13 1 25 1 -149 1 112 1 -38 1 20 1 44 1 -34 1 -14 1 30 1 -128 1 184 1 -86 1 95 1 -110 1 -19 1 48 1 -41 1 -48 1 7 1 10 1 -1 1 203 1 -85 1 -88 1 29 1 5 1 11 1 51 1 -151 1 -37 1 19 1 5 1 116 1 -49 1 -51 1 -22 1 125 1 -36 1 -57 1 20 1 97 1 -151 1 2 1 -24 1 35 1 50 1 27 1 -69 1 89 1 -84 1 -121 1 244 1 -83 1 -16 1 39 1 -131 1 76 1 -5 1 70 1 -12 1 -103 1 122 1 -116 1 94 1 -48 1 -100 1 31 1 141 1 -31 1 -20 1 -10 1 -125 1 142 1 -101 1 122 1 3 1 -75 1 -17 1 22 1 -20 1 84 1 -146 1 7 1 -33 1 179 1 -58 1 -127 1 137 1 -130 1 28 1 -78 1 215 1 -145 1 135 1 32 1 -77 1 -145 1 187 1 -28 1 -77 1 85 1 -96 1 -39 1 98 1 -8 1 23 1 -135 1 114 1 -99 1 124 1 -129 1 150 1 31 1 -68 1 -39 1 113 1 -51 1 -117 1 200 1 -231 1 159 1 -75 1 107 1 -76 1 -89 1 140 1 -56 1 67 1 -53 1 -112 1 -15 1 153 1 -27 1 -105 1 -32 1 71 1 96 1 -34 1 -135 1 161 1 -50 1 50 1 -1 1 -168 1 9 1 67 1 -77 1 216 1 -111 1 45 1 -6 1 -34 1 113 1 -230 1 104 1 34 1 -114 1 -17 1 27 1 -36 1 96 1 36 1 28 1 -123 1 97 1 -58 1 -59 1 141 1 -11 1 -139 1 -21 1 207 1 -57 1 -180 1 31 1 137 1 -163 1 50 1 35 1 -33 1 66 1 -122 1 -11 1 162 1 1 1 -76 1 51 1 93 1 -157 1 102 1 -3 1 -35 1 66 1 -34 1 -11 1 -123 1 151 1 -135 1 18 1 126 1 -206 1 107 1 -65 1 119 1 -79 1 -5 1 76 1 -91 1 -48 1 47 1 63 1 107 1 -191 1 47 1 47 1 -125 1 -1 1 186 1 -18 1 -23 1 16 1 -84 1 -19 1 122 1 -81 1 -22 1 150 1 -184 1 56 1 21 1 61 1 -53 1 34 1 -61 1 -32 1 51 1 -77 1 88 1 -8 1 -136 1 -2 1 179 1 -68 1 20 1 49 1 -178 1 159 1 -33 1 -28 1 -55 1 112 1 -116 1 -43 1 70 1 -64 1 -23 1 96 1 47 1 -93 1 -19 1 84 1 -21 1 49 1 39 1 3 1 21 1 -108 1 -3 1 -16 1 135 1 -53 1 -48 1 -38 1 106 1 -159 1 31 1 32 1 130 1 -78 1 -114 1 139 1 18 1 6 1 -85 1 57 1 80 1 -204 1 108 1 -89 1 26 1 52 1 54 1 29 1 -62 1 -7 1 -17 1 43 1 -7 1 -114 1 59 1 -55 1 97 1 -25 1 -90 1 -8 1 -29 1 163 1 -134 1 -32 1 111 1 -73 1 102 1 -150 1 90 1 117 1 -136 1 20 1 -33 1 70 1 -100 1 155 1 -205 1 187 1 -69 1 3 1 134 1 -52 1 22 1 40 1 -237 1 62 1 126 1 -98 1 -57 1 -6 1 -19 1 71 1 -5 1 -7 1 82 1 -124 1 34 1 41 1 16 1 -95 1 135 1 -30 1 -24 1 -100 1 -16 1 -25 1 150 1 -70 1 37 1 104 1 -33" stroke="#d94800" stroke-width="8.8"/>
<path transform="scale(0.25)" d="M697 2305 701 2305 705 2300 709 2307 713 2298 717 2315 721 2292 725 2290 729 2286 733 2298 737 2284 741 2300 745 2284 749 2295 753 2303 757 2279 761 2259 765 2288 769 2286 773 2272 777 2155 781 2075 785 1985 789 1947 793 1924 797 1877 801 1861 805 1847 809 1847 813 1820 817 1826 821 1835 825 1838 829 1820 833 1836 837 1834 841 1842 845 1855 849 1835 853 1845 857 1854 861 1845 865 1852 869 1869 873 1881 877 1882 881 1882 885 1890 889 1899 893 1903 897 1893 901 1897 905 1921 909 1904 913 1930 917 1932 921 1926 925 1936 929 1945 933 1941 937 1942 941 1958 945 1961 949 1969 953 1956 957 1971 961 1972 965 1983 969 1977 973 1975 977 1989 981 1977 985 1986 989 1996 993 2010 997 1993 1001 2004 1005 2007 1009 1998 1013 2020 1017 2016 1021 2021 1025 2028 1029 2020 1033 2023 1037 2047 1041 2038 1045 2050 1049 2056 1053 2050 1057 2042 1061 2068 1065 2054 1069 2054 1073 2064 1077 2071 1081 2071 1085 2066 1089 2079 1093 2068 1097 2079 1101 2077 1105 2074 1109 2089 1113 2090 1117 2084 1121 2086 1125 2094 1129 2103 1133 2108 1137 2095 1141 2107 1145 2112 1149 2097 1153 2107 1157 2098 1161 2111 1165 2119 1169 2118 1173 2125 1177 2120 1181 2112 1185 2123 1189 2137 1193 2117 1197 2146 1201 2130 1205 2131 1209 2126 1213 2147 1217 2112 1221 2143 1225 2152 1229 2143 1233 2146 1237 2161 1241 2136 1245 2155 1249 2143 1253 2151 1257 2209 1261 2300 1265 2391 1269 2441 1273 2495 1277 2535 1281 2559 1285 2570 1289 2584 1293 2596 1297 2596 1301 2597 1305 2620 1309 2604 1313 2593 1317 2622 1321 2600 1325 2587 1329 2588 1333 2579 1337 2587 1341 2583 1345 2554 1349 2554 1353 2559 1357 2546 1361 2547 1365 2543 1369 2550 1373 2546 1377 2538 1381 2517 1385 2518 1389 2511 1393 2513 1397 2508 1401 2501 1405 2505 1409 2496 1413 2484 1417 2490 1421 2483 1425 2480 1429 2478 1433 2468 1437 2473 1441 2457 1445 2477 1449 2462 1453 2459 1457 2440 1461 2446 1465 2432 1469 2430 1473 2438 1477 2443 1481 2429 1485 2428 1489 2412 1493 2399 1497 2428 1501 2399 1505 2401 1509 2403 1513 2384 1517 2384 1521 2394 1525 2383 1529 2386 1533 2391 1537 2383 1541 2379 1545 2380 1549 2360 1553 2368 1557 2387 1561 2376 1565 2362 1569 2348 1573 2356 1577 2360 1581 2346 1585 2365 1589 2342 1593 2344 1597 2343 1601 2346 1605 2338 1609 2359 1613 2323 1617 2338 1621 2336 1625 2318 1629 2323 1633 2316 1637 2314 1641 2322 1645 2329 1649 2310 1653 2318 1657 2311 1661 2298 1665 2305 1669 2306 1673 2324 1677 2305 1681 2300 1685 2304 1689 2307 1693 2297 1697 2300 1701 2273 1705 2285 1709 2282 1713 2287 1717 2287 1721 2288 1725 2283 1729 2283 1733 2278 1737 2284 1741 2194 1745 2084 1749 2028 1753 1961 1757 1930 1761 1890 1765 1866 1769 1848 1773 1827 1777 1839 1781 1846 1785 1823 1789 1829 1793 1826 1797 1820 1801 1824 1805 1843 1809 1846 1813 1839 1817 1856 1821 1849 1825 1853 1829 1858 1833 1879 1837 1877 1841 1874 1845 1891 1849 1893 1853 1889 1857 1882 1861 1893 1865 1898 1869 1913 1873 1917 1877 1926 1881 1917 1885 1923 1889 1953 1893 1944 1897 1957 1901 1948 1905 1950 1909 1952 1913 1963 1917 1982 1921 1966 1925 1969 1929 1976 1933 1967 1937 1978 1941 1982 1945 1991 1949 1998 1953 2005 1957 1999 1961 2008 1965 2007 1969 2004 1973 1997 1977 2020 1981 2016 1985 2021 1989 2028 1993 2025 1997 2035 2001 2038 2005 2045 2009 2042 2013 2032 2017 2041 2021 2057 2025 2054 2029 2063 2033 2073 2037 2067 2041 2063 2045 2071 2049 2061 2053 2083 2057 2074 2061 2066 2065 2085 2069 2080 2073 2092 2077 2084 2081 2086 2085 2094 2089 2105 2093 2085 2097 2093 2101 2098 2105 2102 2109 2090 2113 2102 2117 2109 2121 2106 2125 2114 2129 2106 2133 2121 2137 2120 2141 2116 2145 2121 2149 2127 2153 2112 2157 2128 2161 2115 2165 2139 2169 2139 2173 2124 2177 2140 2181 2139 2185 2137 2189 2141 2193 2141 2197 2129 2201 2156 2205 2134 2209 2138 2213 2158 2217 2136 2221 2148 2225 2263 2229 2353 2233 2424 2237 2480 2241 2514 2245 2537 2249 2575 2253 2577 2257 2594 2261 2591 2265 2606 2269 2608 2273 2606 2277 2594 2281 2604 2285 2594 2289 2595 2293 2591 2297 2587 2301 2577 2305 2564 2309 2576 2313 2573 2317 2546 2321 2554 2325 2551 2329 2540 2333 2546 2337 2532 2341 2523 2345 2524 2349 2516 2353 2518 2357 2519 2361 2509 2365 2481 2369 2510 2373 2492 2377 2489 2381 2491 2385 2474 2389 2492 2393 2463 2397 2469 2401 2472 2405 2464 2409 2457 2413 2460 2417 2459 2421 2460 2425 2446 2429 2429 2433 2438 2437 2437 2441 2422 2445 2432 2449 2432 2453 2418 2457 2427 2461 2429 2465 2420 2469 2399 2473 2413 2477 2402 2481 2401 2485 2388 2489 2384 2493 2384 2497 2386 2501 2385 2505 2386 2509 2373 2513 2386 2517 2362 2521 2374 2525 2369 2529 2364 2533 2366 2537 2371 2541 2356 2545 2354 2549 2346 2553 2360 2557 2353 2561 2351 2565 2342 2569 2355 2573 2339 2577 2330 2581 2315 2585 2337 2589 2331 2593 2329 2597 2324 2601 2326 2605 2318 2609 2333 2613 2321 2617 2301 2621 2316 2625 2313 2629 2292 2633 2308 2637 2300 2641 2304 2645 2302 2649 2302 2653 2305 2657 2291 2661 2282 2665 2274 2669 2300 2673 2296 2677 2302 2681 2290 2685 2288 2685 2331 2681 2336 2677 2343 2673 2336 2669 2322 2665 2341 2661 2344 2657 2334 2653 2341 2649 2352 2645 2358 2641 2355 2637 2353 2633 2365 2629 2357 2625 2355 2621 2359 2617 2365 2613 2363 2609 2369 2605 2370 2601 2359 2597 2365 2593 2380 2589 2379 2585 2372 2581 2387 2577 2388 2573 2406 2569 2392 2565 2395 2561 2395 2557 2390 2553 2392 2549 2385 2545 2390 2541 2401 2537 2400 2533 2415 2529 2412 2525 2405 2521 2421 2517 2417 2513 2420 2509 2403 2505 2443 2501 2433 2497 2438 2493 2428 2489 2438 2485 2454 2481 2452 2477 2447 2473 2459 2469 2458 2465 2442 2461 2470 2457 2475 2453 2457 2449 2475 2445 2467 2441 2481 2437 2484 2433 2496 2429 2483 2425 2495 2421 2505 2417 2497 2413 2501 2409 2512 2405 2518 2401 2501 2397 2517 2393 2508 2389 2529 2385 2542 2381 2529 2377 2533 2373 2546 2369 2548 2365 2555 2361 2546 2357 2542 2353 2572 2349 2570 2345 2572 2341 2578 2337 2585 2333 2586 2329 2598 2325 2586 2321 2610 2317 2604 2313 2605 2309 2624 2305 2615 2301 2617 2297 2633 2293 2641 2289 2647 2285 2651 2281 2644 2277 2655 2273 2646 2269 2649 2265 2644 2261 2647 2257 2642 2253 2637 2249 2603 2245 2598 2241 2566 2237 2542 2233 2485 2229 2417 2225 2308 2221 2205 2217 2196 2213 2195 2209 2186 2205 2180 2201 2180 2197 2196 2193 2188 2189 2185 2185 2188 2181 2186 2177 2184 2173 2182 2169 2178 2165 2179 2161 2185 2157 2169 2153 2158 2149 2179 2145 2183 2141 2166 2137 2172 2133 2158 2129 2173 2125 2149 2121 2168 2117 2152 2113 2153 2109 2147 2105 2143 2101 2147 2097 2147 2093 2142 2089 2139 2085 2134 2081 2147 2077 2131 2073 2133 2069 2120 2065 2133 2061 2117 2057 2124 2053 2121 2049 2111 2045 2117 2041 2125 2037 2101 2033 2120 2029 2089 2025 2107 2021 2095 2017 2094 2013 2077 2009 2091 2005 2090 2001 2099 1997 2093 1993 2085 1989 2079 1985 2084 1981 2082 1977 2072 1973 2048 1969 2058 1965 2050 1961 2048 1957 2047 1953 2045 1949 2039 1945 2053 1941 2030 1937 2032 1933 2027 1929 2027 1925 2012 1921 2020 1917 2011 1913 2005 1909 2007 1905 2001 1901 1998 1897 1980 1893 1978 1889 1987 1885 1978 1881 1966 1877 1969 1873 1966 1869 1950 1865 1948 1861 1952 1857 1943 1853 1934 1849 1927 1845 1942 1841 1921 1837 1925 1833 1908 1829 1919 1825 1898 1821 1904 1817 1882 1813 1901 1809 1891 1805 1892 1801 1880 1797 1873 1793 1891 1789 1871 1785 1887 1781 1882 1777 1877 1773 1887 1769 1895 1765 1926 1761 1934 1757 1979 1753 2017 1749 2063 1745 2157 1741 2248 1737 2332 1733 2330 1729 2331 1725 2330 1721 2327 1717 2351 1713 2342 1709 2342 1705 2348 1701 2345 1697 2340 1693 2339 1689 2336 1685 2347 1681 2351 1677 2332 1673 2366 1669 2370 1665 2357 1661 2364 1657 2358 1653 2354 1649 2377 1645 2348 1641 2366 1637 2368 1633 2380 1629 2375 1625 2377 1621 2372 1617 2386 1613 2384 1609 2393 1605 2397 1601 2387 1597 2393 1593 2408 1589 2384 1585 2407 1581 2405 1577 2402 1573 2399 1569 2413 1565 2392 1561 2406 1557 2423 1553 2423 1549 2437 1545 2435 1541 2433 1537 2432 1533 2436 1529 2432 1525 2429 1521 2434 1517 2437 1513 2453 1509 2463 1505 2449 1501 2462 1497 2457 1493 2473 1489 2472 1485 2474 1481 2473 1477 2467 1473 2481 1469 2476 1465 2485 1461 2496 1457 2499 1453 2486 1449 2505 1445 2511 1441 2512 1437 2517 1433 2521 1429 2514 1425 2533 1421 2517 1417 2543 1413 2545 1409 2554 1405 2535 1401 2543 1397 2554 1393 2558 1389 2559 1385 2566 1381 2574 1377 2563 1373 2583 1369 2587 1365 2587 1361 2591 1357 2592 1353 2615 1349 2610 1345 2616 1341 2625 1337 2631 1333 2636 1329 2626 1325 2637 1321 2641 1317 2649 1313 2653 1309 2630 1305 2642 1301 2654 1297 2631 1293 2651 1289 2639 1285 2631 1281 2597 1277 2583 1273 2537 1269 2496 1265 2431 1261 2364 1257 2227 1253 2203 1249 2200 1245 2215 1241 2179 1237 2191 1233 2196 1229 2193 1225 2192 1221 2179 1217 2187 1213 2185 1209 2188 1205 2184 1201 2180 1197 2176 1193 2175 1189 2170 1185 2166 1181 2181 1177 2165 1173 2168 1169 2170 1165 2165 1161 2162 1157 2148 1153 2166 1149 2149 1145 2151 1141 2153 1137 2143 1133 2143 1129 2148 1125 2139 1121 2138 1117 2123 1113 2121 1109 2121 1105 2134 1101 2119 1097 2120 1093 2114 1089 2131 1085 2129 1081 2118 1077 2120 1073 2108 1069 2104 1065 2096 1061 2107 1057 2088 1053 2097 1049 2092 1045 2090 1041 2096 1037 2080 1033 2093 1029 2079 1025 2083 1021 2073 1017 2072 1013 2062 1009 2066 1005 2054 1001 2045 997 2054 993 2060 989 2034 985 2036 981 2040 977 2034 973 2039 969 2029 965 2030 961 2017 957 2015 953 2002 949 2006 945 2015 941 2011 937 1990 933 1998 929 1990 925 1982 921 1979 917 1962 913 1964 909 1971 905 1964 901 1950 897 1953 893 1942 889 1949 885 1938 881 1936 877 1925 873 1918 869 1928 865 1934 861 1916 857 1896 853 1898 849 1892 845 1899 841 1889 837 1879 833 1863 829 1877 825 1872 821 1884 817 1872 813 1882 809 1884 805 1903 801 1898 797 1936 793 1962 789 1998 785 2036 781 2113 777 2188 773 2326 769 2331 765 2332 761 2334 757 2336 753 2334 749 2339 745 2344 741 2352 737 2353 733 2357 729 2342 725 2359 721 2333 717 2345 713 2351 709 2355 705 2373 701 2369 697 2360Z" fill="#300000" stroke="none"/>
<path transform="scale(0.25)" d="M697 2309l1 19 1 -52 1 115 1 24 1 -155 1 26 1 26 1 28 1 -43 1 31 1 48 1 -56 1 77 1 -116 1 21 1 1 1 -28 1 159 1 -85 1 -66 1 -34 1 97 1 -14 1 -61 1 10 1 -34 1 16 1 6 1 -18 1 63 1 -42 1 26 1 50 1 -3 1 -95 1 34 1 55 1 -27 1 85 1 -46 1 37 1 -115 1 10 1 10 1 97 1 -53 1 -26 1 -48 1 3 1 -38 1 78 1 21 1 65 1 -134 1 90 1 -86 1 86 1 -94 1 12 1 45 1 -24 1 -16 1 95 1 20 1 -120 1 21 1 74 1 -120 1 77 1 6 1 46 1 -67 1 -15 1 -35 1 3 1 15 1 -23 1 -96 1 99 1 -3 1 -170 1 81 1 -15 1 -80 1 76 1 -71 1 -3 1 -72 1 50 1 -23 1 12 1 -53 1 -74 1 50 1 -24 1 54 1 -103 1 50 1 -31 1 -31 1 68 1 -50 1 -6 1 -6 1 -56 1 -24 1 88 1 -60 1 3 1 -23 1 74 1 -12 1 21 1 -27 1 65 1 -48 1 2 1 -2 1 1 1 45 1 -96 1 21 1 -28 1 71 1 -51 1 68 1 -12 1 -14 1 3 1 -27 1 -48 1 110 1 -124 1 115 1 -83 1 17 1 26 1 1 1 -82 1 16 1 71 1 0 1 -56 1 54 1 -35 1 -14 1 5 1 -36 1 79 1 29 1 -127 1 62 1 7 1 80 1 22 1 -99 1 -48 1 73 1 17 1 -15 1 10 1 29 1 -43 1 -8 1 7 1 -2 1 -1 1 99 1 -50 1 -75 1 122 1 -9 1 -35 1 13 1 -40 1 -20 1 -38 1 77 1 -19 1 -17 1 33 1 -61 1 82 1 -68 1 24 1 18 1 29 1 42 1 -26 1 -36 1 -40 1 117 1 -9 1 -2 1 -97 1 61 1 -66 1 29 1 24 1 46 1 -68 1 49 1 -81 1 110 1 -27 1 -61 1 -34 1 70 1 -7 1 49 1 -20 1 -54 1 57 1 -33 1 -28 1 78 1 -113 1 153 1 20 1 -41 1 -126 1 68 1 43 1 -81 1 145 1 -142 1 123 1 -79 1 10 1 -18 1 -34 1 69 1 -2 1 72 1 -99 1 65 1 -122 1 129 1 -5 1 -32 1 65 1 -106 1 -5 1 -2 1 71 1 -76 1 -18 1 6 1 58 1 78 1 -66 1 -19 1 71 1 10 1 -86 1 0 1 49 1 -40 1 -50 1 96 1 15 1 -50 1 33 1 24 1 -45 1 13 1 23 1 -88 1 83 1 -28 1 -50 1 32 1 46 1 46 1 -96 1 77 1 -41 1 -25 1 -40 1 10 1 22 1 60 1 13 1 14 1 -66 1 102 1 -48 1 -117 1 46 1 8 1 25 1 -48 1 29 1 90 1 -79 1 28 1 -55 1 -10 1 50 1 -27 1 54 1 55 1 -87 1 -32 1 55 1 -86 1 40 1 87 1 43 1 -142 1 24 1 80 1 -23 1 37 1 -31 1 -88 1 102 1 13 1 -40 1 49 1 -89 1 15 1 9 1 -49 1 61 1 -2 1 -37 1 41 1 -5 1 -71 1 65 1 2 1 69 1 -57 1 1 1 -70 1 127 1 -30 1 21 1 -74 1 63 1 -98 1 47 1 -57 1 36 1 27 1 -13 1 34 1 32 1 -45 1 42 1 -51 1 2 1 -79 1 162 1 -115 1 28 1 -25 1 -28 1 74 1 36 1 -93 1 98 1 23 1 -52 1 -98 1 78 1 -17 1 22 1 7 1 18 1 -93 1 77 1 13 1 -55 1 -5 1 -3 1 46 1 99 1 -33 1 -49 1 46 1 -60 1 37 1 -58 1 74 1 -27 1 -64 1 93 1 -33 1 28 1 -83 1 104 1 -84 1 29 1 -39 1 -9 1 11 1 8 1 28 1 -3 1 15 1 -2 1 30 1 -84 1 99 1 -97 1 48 1 20 1 49 1 -126 1 117 1 -77 1 45 1 -5 1 -68 1 2 1 7 1 51 1 32 1 13 1 -1 1 -57 1 -16 1 26 1 22 1 -16 1 87 1 -5 1 -131 1 56 1 49 1 -105 1 3 1 141 1 -4 1 -116 1 37 1 -11 1 27 1 -102 1 90 1 90 1 -152 1 16 1 113 1 -5 1 -43 1 -2 1 -34 1 3 1 115 1 -26 1 -119 1 87 1 -11 1 -90 1 50 1 71 1 -125 1 88 1 -116 1 148 1 -36 1 -89 1 7 1 27 1 66 1 35 1 -63 1 41 1 -44 1 62 1 -76 1 -45 1 52 1 66 1 -98 1 92 1 -77 1 95 1 16 1 8 1 -109 1 83 1 9 1 10 1 2 1 -85 1 68 1 -113 1 84 1 -78 1 46 1 -69 1 103 1 -59 1 47 1 -10 1 43 1 -94 1 85 1 7 1 -40 1 53 1 -51 1 8 1 46 1 -79 1 62 1 -66 1 101 1 -20 1 -77 1 -38 1 49 1 -22 1 109 1 -131 1 97 1 -103 1 1 1 95 1 41 1 -73 1 47 1 -5 1 20 1 -72 1 8 1 18 1 11 1 -69 1 44 1 -48 1 93 1 -77 1 -26 1 27 1 54 1 -108 1 17 1 129 1 21 1 -31 1 -81 1 -45 1 122 1 -56 1 47 1 -35 1 -59 1 131 1 -74 1 50 1 -76 1 17 1 90 1 10 1 -12 1 18 1 58 1 -88 1 113 1 8 1 123 1 -43 1 -109 1 92 1 4 1 -8 1 12 1 5 1 81 1 -40 1 58 1 -9 1 -12 1 40 1 -17 1 65 1 -48 1 20 1 10 1 -65 1 -10 1 112 1 10 1 -26 1 50 1 -5 1 -22 1 -18 1 25 1 52 1 -24 1 53 1 -76 1 -19 1 -5 1 -55 1 29 1 57 1 21 1 -52 1 103 1 -87 1 54 1 -4 1 45 1 -123 1 -38 1 157 1 -31 1 -117 1 34 1 -15 1 42 1 -6 1 45 1 -17 1 -30 1 31 1 16 1 -21 1 76 1 -139 1 85 1 9 1 -35 1 12 1 -4 1 49 1 -40 1 16 1 -32 1 41 1 -61 1 -53 1 34 1 -9 1 -61 1 122 1 10 1 -18 1 -101 1 53 1 54 1 -25 1 66 1 -75 1 40 1 -6 1 -49 1 77 1 -12 1 -70 1 -36 1 8 1 107 1 -77 1 54 1 -32 1 -55 1 16 1 -18 1 -16 1 -14 1 -29 1 99 1 -15 1 -39 1 64 1 -86 1 97 1 -23 1 -82 1 87 1 28 1 -10 1 -96 1 96 1 4 1 0 1 -126 1 136 1 -56 1 -39 1 33 1 23 1 -107 1 76 1 -76 1 60 1 -13 1 31 1 -10 1 -86 1 4 1 64 1 51 1 -47 1 -82 1 130 1 -27 1 -59 1 0 1 26 1 -10 1 6 1 -78 1 110 1 -38 1 -21 1 6 1 62 1 -53 1 -60 1 66 1 -48 1 25 1 -50 1 140 1 -175 1 145 1 -65 1 13 1 36 1 -27 1 48 1 -29 1 28 1 -37 1 -78 1 68 1 27 1 -10 1 15 1 -61 1 49 1 -9 1 -92 1 27 1 21 1 48 1 -100 1 96 1 -1 1 27 1 -59 1 -24 1 -29 1 14 1 -44 1 92 1 -2 1 -18 1 -31 1 -1 1 39 1 2 1 -13 1 -47 1 -1 1 113 1 -75 1 -37 1 45 1 -67 1 11 1 73 1 -52 1 -36 1 91 1 6 1 -44 1 3 1 -56 1 23 1 -8 1 100 1 -95 1 54 1 22 1 -77 1 62 1 -111 1 117 1 -107 1 76 1 -83 1 116 1 -133 1 19 1 -13 1 97 1 -76 1 111 1 -47 1 -21 1 -49 1 44 1 26 1 15 1 -125 1 161 1 17 1 -65 1 -26 1 16 1 -41 1 82 1 20 1 -35 1 -78 1 65 1 -95 1 27 1 76 1 15 1 -17 1 -14 1 26 1 -115 1 -2 1 24 1 -53 1 122 1 49 1 -37 1 -49 1 -60 1 65 1 5 1 -77 1 84 1 -65 1 -2 1 78 1 29 1 -15 1 -11 1 -37 1 48 1 -66 1 56 1 -9 1 -79 1 48 1 -111 1 103 1 31 1 6 1 -76 1 93 1 -108 1 3 1 -34 1 90 1 -57 1 70 1 13 1 -77 1 -50 1 77 1 74 1 -8 1 -92 1 -15 1 31 1 -39 1 114 1 -60 1 -89 1 131 1 -96 1 -5 1 -9 1 127 1 -87 1 89 1 -92 1 -46 1 45 1 -30 1 75 1 -18 1 -37 1 -13 1 30 1 66 1 -36 1 17 1 -40 1 2 1 3 1 -9 1 -59 1 0 1 36 1 -32 1 163 1 -42 1 -44 1 -25 1 37 1 4 1 34 1 -71 1 -41 1 54 1 -79 1 89 1 -81 1 30 1 -9 1 -40 1 63 1 -19 1 -28 1 111 1 -7 1 -112 1 53 1 -59 1 61 1 53 1 17 1 -67 1 -28 1 64 1 55 1 -42 1 -81 1 -52 1 78 1 -2 1 -44 1 33 1 84 1 -99 1 37 1 49 1 -46 1 62 1 -56 1 18 1 -34 1 41 1 16 1 4 1 -13 1 -32 1 11 1 -23 1 -30 1 50 1 -24 1 15 1 -19 1 57 1 9 1 -82 1 61 1 5 1 -94 1 91 1 -68 1 -10 1 47 1 -43 1 -69 1 7 1 35 1 7 1 -59 1 -3 1 145 1 -77 1 5 1 24 1 44 1 -12 1 -56 1 -31 1 63 1 -9 1 4 1 17 1 -108 1 34 1 72 1 -27 1 -21 1 -15 1 73 1 -43 1 54 1 -86 1 73 1 -100 1 88 1 -70 1 2 1 -30 1 66 1 -44 1 8 1 81 1 -52 1 -7 1 -42 1 16 1 49 1 5 1 -17 1 -73 1 110 1 -10 1 -7 1 2 1 9 1 -19 1 29 1 -24 1 25 1 25 1 -120 1 83 1 29 1 -21 1 29 1 -24 1 -41 1 20 1 -38 1 39 1 -4 1 -47 1 -36 1 78 1 -72 1 -56 1 71 1 -128 1 107 1 -101 1 -69 1 42 1 -104 1 -12 1 18 1 -52 1 38 1 33 1 -16 1 -24 1 44 1 -5 1 -105 1 24 1 -8 1 -31 1 -17 1 -51 1 12 1 -21 1 -21 1 55 1 -6 1 7 1 -4 1 -4 1 -60 1 28 1 35 1 -27 1 -27 1 6 1 110 1 -22 1 -130 1 95 1 2 1 -21 1 37 1 -66 1 41 1 5 1 -36 1 -33 1 -19 1 73 1 85 1 -133 1 35 1 -109 1 125 1 14 1 -112 1 4 1 73 1 40 1 22 1 -56 1 72 1 -75 1 42 1 24 1 59 1 -63 1 7 1 -35 1 -34 1 71 1 -72 1 52 1 19 1 -42 1 29 1 33 1 -105 1 78 1 -101 1 -18 1 69 1 62 1 -53 1 43 1 57 1 -39 1 23 1 -91 1 -76 1 127 1 -60 1 0 1 2 1 115 1 -80 1 34 1 -79 1 -14 1 139 1 -129 1 -14 1 151 1 12 1 -44 1 -31 1 75 1 -119 1 -30 1 22 1 13 1 -43 1 95 1 77 1 -140 1 34 1 34 1 -5 1 -57 1 80 1 -98 1 24 1 33 1 -18 1 -44 1 69 1 8 1 -29 1 38 1 -26 1 59 1 -58 1 -65 1 77 1 40 1 13 1 -6 1 -37 1 61 1 -10 1 31 1 -40 1 28 1 -131 1 10 1 121 1 -64 1 -13 1 54 1 -21 1 -59 1 36 1 35 1 31 1 -125 1 143 1 -118 1 -21 1 79 1 -14 1 46 1 1 1 -92 1 71 1 7 1 5 1 -34 1 80 1 -5 1 -75 1 -28 1 32 1 56 1 -65 1 28 1 2 1 -1 1 54 1 -11 1 -8 1 -40 1 29 1 -5 1 -48 1 28 1 -64 1 103 1 -7 1 77 1 -91 1 -86 1 98 1 43 1 -68 1 -16 1 43 1 -62 1 23 1 -32 1 143 1 -2 1 -13 1 -95 1 64 1 -4 1 -39 1 101 1 -36 1 23 1 -137 1 73 1 12 1 -25 1 -10 1 68 1 -11 1 -21 1 -101 1 121 1 -33 1 1 1 43 1 -114 1 120 1 -13 1 -61 1 -29 1 34 1 51 1 7 1 -38 1 88 1 -83 1 105 1 -43 1 -21 1 -35 1 -4 1 53 1 -76 1 0 1 128 1 -32 1 -102 1 9 1 102 1 -68 1 -86 1 141 1 -2 1 -18 1 -68 1 81 1 -70 1 56 1 74 1 -69 1 56 1 -61 1 -20 1 -29 1 -31 1 24 1 55 1 -48 1 77 1 -76 1 92 1 3 1 24 1 -112 1 -20 1 82 1 -57 1 65 1 -16 1 -27 1 -37 1 82 1 35 1 -8 1 42 1 -74 1 -46 1 27 1 17 1 -29 1 38 1 16 1 32 1 -115 1 44 1 -70 1 95 1 -85 1 98 1 -41 1 45 1 53 1 -48 1 -70 1 81 1 -19 1 -9 1 -98 1 171 1 -38 1 -93 1 59 1 -58 1 62 1 51 1 -56 1 49 1 -142 1 127 1 -76 1 94 1 -49 1 -52 1 76 1 -75 1 6 1 -1 1 7 1 56 1 -45 1 31 1 -69 1 33 1 80 1 9 1 -4 1 -56 1 23 1 -88 1 11 1 50 1 69 1 -59 1 91 1 -37 1 -10 1 -79 1 21 1 77 1 -13 1 -91 1 72 1 -126 1 25 1 -11 1 7 1 61 1 74 1 -122 1 52 1 28 1 88 1 -163 1 12 1 82 1 24 1 -105 1 93 1 7 1 -84 1 93 1 -17 1 25 1 -26 1 -50 1 13 1 49 1 -19 1 -47 1 24 1 -38 1 17 1 74 1 -26 1 -45 1 61 1 -45 1 42 1 10 1 -96 1 76 1 15 1 -78 1 26 1 -7 1 -29 1 -12 1 10 1 77 1 -24 1 -59 1 17 1 94 1 -75 1 7 1 21 1 -35 1 104 1 -75 1 31 1 -77 1 106 1 -69 1 27 1 18 1 -22 1 54 1 -134 1 146 1 -79 1 14 1 -38 1 76 1 -46 1 21 1 15 1 -70 1 96 1 5 1 36 1 -42 1 -42 1 36 1 24 1 -28 1 21 1 -96 1 -21 1 80 1 -50 1 82 1 -97 1 42 1 17 1 -33 1 38 1 -13 1 18 1 -36 1 -24 1 50 1 -88 1 101 1 -15 1 -32 1 -20 1 92 1 -61 1 -46 1 93 1 -70 1 65 1 -4 1 -35 1 10 1 77 1 7 1 -117 1 156 1 -139 1 49 1 -117 1 21 1 95 1 27 1 -97 1 8 1 61 1 11 1 -10 1 66 1 -91 1 -7 1 -9 1 17 1 74 1 58 1 62 1 -24 1 83 1 -5 1 52 1 -16 1 -4 1 -63 1 68 1 1 1 73 1 -34 1 71 1 -113 1 81 1 -65 1 68 1 -56 1 112 1 30 1 -61 1 82 1 -17 1 -63 1 45 1 48 1 -116 1 47 1 87 1 8 1 -48 1 -72 1 135 1 -103 1 -27 1 88 1 -20 1 -75 1 55 1 -27 1 -16 1 79 1 10 1 -47 1 -38 1 133 1 -165 1 113 1 -60 1 53 1 -79 1 135 1 -61 1 26 1 -51 1 69 1 13 1 -24 1 -85 1 -30 1 -25 1 21 1 71 1 13 1 6 1 -18 1 -69 1 128 1 -78 1 76 1 -60 1 -38 1 95 1 19 1 -132 1 70 1 7 1 -94 1 36 1 -31 1 99 1 -115 1 -11 1 121 1 -39 1 -66 1 -40 1 72 1 18 1 7 1 -88 1 46 1 98 1 -102 1 -65 1 45 1 45 1 55 1 1 1 -42 1 -61 1 21 1 44 1 -17 1 4 1 65 1 -89 1 15 1 30 1 -137 1 168 1 -92 1 16 1 15 1 51 1 -105 1 10 1 -25 1 26 1 -81 1 124 1 -51 1 79 1 -99 1 46 1 -5 1 -7 1 63 1 -92 1 -22 1 4 1 8 1 -29 1 96 1 22 1 -14 1 36 1 -42 1 4 1 -123 1 133 1 -45 1 -17 1 26 1 -10 1 29 1 -15 1 34 1 -67 1 -24 1 45 1 -7 1 -59 1 32 1 -34 1 -28 1 103 1 17 1 -110 1 58 1 -70 1 139 1 30 1 -149 1 8 1 90 1 -50 1 -21 1 60 1 -78 1 -58 1 111 1 -34 1 53 1 -144 1 122 1 -98 1 -11 1 70 1 29 1 -45 1 6 1 -77 1 20 1 -9 1 55 1 17 1 -7 1 -52 1 100 1 -57 1 33 1 -39 1 -22 1 29 1 30 1 -37 1 -10 1 18 1 -58 1 48 1 58 1 -36 1 26 1 -103 1 134 1 -115 1 79 1 -55 1 30 1 -31 1 84 1 -34 1 -112 1 144 1 -136 1 20 1 75 1 -24 1 -25 1 6 1 28 1 -34 1 -3 1 54 1 -70 1 -35 1 98 1 -62 1 28 1 -104 1 119 1 -86 1 102 1 -36 1 -75 1 11 1 87 1 -36 1 -48 1 -14 1 14 1 -21 1 67 1 -13 1 -14 1 -12 1 -50 1 168 1 -72 1 -22 1 47 1 -92 1 73 1 -91 1 107 1 26 1 -49 1 -103 1 80 1 35 1 -7 1 -41 1 29 1 68 1 -169 1 146 1 -6 1 -3 1 -11 1 1 1 17 1 -96 1 39 1 -49 1 57 1 74 1 -41 1 -43 1 8 1 4 1 35 1 -4 1 -99 1 64 1 -38 1 -11 1 -35 1 64 1 -61 1 68 1 0 1 -48 1 -2 1 -2 1 19 1 43 1 42 1 -30 1 36 1 -15 1 -146 1 125 1 6 1 -126 1 -9 1 88 1 -100 1 45 1 40 1 8 1 37 1 -3 1 -10 1 1 1 52 1 -6 1 -32 1 -52 1 22 1 -2 1 56 1 -50 1 3 1 -58 1 -17 1 11 1 -81 1 65 1 -9 1 44 1 -73 1 85 1 -79 1 21 1 19 1 110 1 -24 1 -55 1 8 1 -89 1 176 1 -105 1 24 1 -78 1 92 1 -2 1 -20 1 -76 1 118 1 -100 1 20 1 -21 1 23 1 9 1 100 1 -25 1 -24 1 43 1 -130 1 6 1 32 1 59 1 1 1 61 1 -212 1 108 1 30 1 2 1 -17 1 -26 1 104 1 -101 1 9 1 -23 1 32 1 -52 1 78 1 -83 1 41 1 75 1 -21 1 -21 1 -73 1 77 1 -8 1 -19 1 78 1 -78 1 58 1 -102 1 45 1 -15 1 1 1 67 1 -76 1 56 1 -15 1 41 1 -80 1 -40 1 29 1 11 1 -16 1 74 1 -50 1 61 1 -131 1 48 1 -40 1 38 1 1 1 -65 1 74 1 -66 1 14 1 14 1 5 1 53 1 -6 1 -29 1 95 1 -157 1 112 1 -40 1 -43 1 3 1 -11 1 67 1 -59 1 -33 1 88 1 -27 1 36 1 -41 1 -6 1 -62 1 23 1 168 1 -142 1 -14 1 15 1 -41 1 26 1 -6 1 12 1 59 1 27 1 -87 1 2 1 -56 1 109 1 -42 1 -47 1 82 1 31 1 -77 1 -16 1 -6 1 68 1 -21 1 53" stroke="#300000" stroke-width="6.8"/>
<path transform="scale(0.25)" d="M697 3102 701 3107 705 3108 709 3108 713 3103 717 3101 721 3108 725 3103 729 3112 733 3105 737 3100 741 3102 745 3108 749 3105 753 3090 757 3096 761 3110 765 3099 769 3073 773 3087 777 3037 781 2991 785 2937 789 2875 793 2847 797 2818 801 2790 805 2749 809 2723 813 2717 817 2711 821 2673 825 2666 829 2649 833 2643 837 2620 841 2616 845 2606 849 2616 853 2627 857 2609 861 2605 865 2599 869 2597 873 2622 877 2608 881 2606 885 2615 889 2592 893 2605 897 2615 901 2625 905 2621 909 2625 913 2625 917 2617 921 2624 925 2626 929 2633 933 2629 937 2645 941 2637 945 2649 949 2655 953 2672 957 2660 961 2647 965 2684 969 2679 973 2676 977 2669 981 2679 985 2692 989 2707 993 2703 997 2710 1001 2703 1005 2697 1009 2695 1013 2718 1017 2697 1021 2716 1025 2734 1029 2731 1033 2713 1037 2738 1041 2720 1045 2717 1049 2731 1053 2734 1057 2758 1061 2742 1065 2734 1069 2731 1073 2740 1077 2750 1081 2742 1085 2747 1089 2748 1093 2764 1097 2750 1101 2765 1105 2753 1109 2761 1113 2782 1117 2774 1121 2776 1125 2776 1129 2769 1133 2781 1137 2769 1141 2793 1145 2793 1149 2789 1153 2789 1157 2790 1161 2795 1165 2791 1169 2794 1173 2793 1177 2801 1181 2794 1185 2802 1189 2784 1193 2811 1197 2815 1201 2809 1205 2800 1209 2812 1213 2815 1217 2812 1221 2811 1225 2813 1229 2820 1233 2822 1237 2811 1241 2808 1245 2810 1249 2815 1253 2813 1257 2830 1261 2886 1265 2937 1269 2964 1273 3004 1277 3054 1281 3078 1285 3107 1289 3117 1293 3137 1297 3188 1301 3180 1305 3195 1309 3216 1313 3213 1317 3215 1321 3237 1325 3245 1329 3249 1333 3251 1337 3242 1341 3246 1345 3255 1349 3258 1353 3254 1357 3266 1361 3262 1365 3261 1369 3261 1373 3256 1377 3250 1381 3248 1385 3252 1389 3244 1393 3249 1397 3250 1401 3246 1405 3256 1409 3238 1413 3217 1417 3223 1421 3221 1425 3238 1429 3223 1433 3226 1437 3216 1441 3206 1445 3209 1449 3219 1453 3220 1457 3198 1461 3204 1465 3195 1469 3203 1473 3196 1477 3182 1481 3196 1485 3181 1489 3177 1493 3177 1497 3181 1501 3170 1505 3171 1509 3153 1513 3176 1517 3163 1521 3170 1525 3168 1529 3146 1533 3159 1537 3155 1541 3149 1545 3156 1549 3146 1553 3137 1557 3149 1561 3154 1565 3139 1569 3139 1573 3151 1577 3132 1581 3129 1585 3142 1589 3142 1593 3140 1597 3133 1601 3122 1605 3096 1609 3130 1613 3128 1617 3118 1621 3117 1625 3112 1629 3122 1633 3122 1637 3096 1641 3116 1645 3117 1649 3102 1653 3128 1657 3116 1661 3115 1665 3105 1669 3105 1673 3111 1677 3110 1681 3103 1685 3103 1689 3101 1693 3099 1697 3107 1701 3105 1705 3109 1709 3103 1713 3103 1717 3097 1721 3095 1725 3111 1729 3102 1733 3097 1737 3095 1741 3065 1745 3017 1749 2963 1753 2910 1757 2878 1761 2833 1765 2789 1769 2772 1773 2746 1777 2708 1781 2710 1785 2692 1789 2665 1793 2651 1797 2634 1801 2634 1805 2631 1809 2621 1813 2612 1817 2609 1821 2613 1825 2608 1829 2609 1833 2603 1837 2612 1841 2609 1845 2599 1849 2617 1853 2611 1857 2618 1861 2622 1865 2603 1869 2606 1873 2639 1877 2623 1881 2621 1885 2615 1889 2627 1893 2626 1897 2636 1901 2640 1905 2635 1909 2643 1913 2644 1917 2643 1921 2657 1925 2661 1929 2682 1933 2675 1937 2677 1941 2675 1945 2687 1949 2686 1953 2685 1957 2676 1961 2693 1965 2706 1969 2698 1973 2715 1977 2708 1981 2722 1985 2718 1989 2712 1993 2720 1997 2732 2001 2714 2005 2711 2009 2727 2013 2733 2017 2725 2021 2732 2025 2738 2029 2737 2033 2752 2037 2749 2041 2753 2045 2747 2049 2761 2053 2747 2057 2758 2061 2767 2065 2759 2069 2762 2073 2779 2077 2758 2081 2767 2085 2777 2089 2766 2093 2766 2097 2776 2101 2772 2105 2782 2109 2776 2113 2779 2117 2798 2121 2799 2125 2791 2129 2792 2133 2799 2137 2787 2141 2788 2145 2786 2149 2794 2153 2791 2157 2790 2161 2805 2165 2804 2169 2816 2173 2803 2177 2812 2181 2806 2185 2806 2189 2816 2193 2826 2197 2804 2201 2808 2205 2806 2209 2804 2213 2803 2217 2808 2221 2802 2225 2873 2229 2911 2233 2967 2237 2984 2241 3038 2245 3071 2249 3091 2253 3107 2257 3131 2261 3155 2265 3173 2269 3185 2273 3197 2277 3221 2281 3218 2285 3245 2289 3246 2293 3249 2297 3248 2301 3248 2305 3246 2309 3251 2313 3260 2317 3258 2321 3260 2325 3255 2329 3264 2333 3256 2337 3257 2341 3266 2345 3258 2349 3249 2353 3258 2357 3248 2361 3238 2365 3234 2369 3253 2373 3243 2377 3235 2381 3238 2385 3223 2389 3232 2393 3219 2397 3235 2401 3201 2405 3219 2409 3224 2413 3217 2417 3204 2421 3191 2425 3203 2429 3207 2433 3187 2437 3210 2441 3192 2445 3190 2449 3191 2453 3188 2457 3186 2461 3185 2465 3169 2469 3160 2473 3186 2477 3162 2481 3163 2485 3155 2489 3166 2493 3170 2497 3154 2501 3147 2505 3164 2509 3147 2513 3141 2517 3151 2521 3150 2525 3153 2529 3159 2533 3144 2537 3139 2541 3127 2545 3143 2549 3139 2553 3130 2557 3149 2561 3128 2565 3120 2569 3113 2573 3125 2577 3125 2581 3120 2585 3124 2589 3114 2593 3131 2597 3111 2601 3115 2605 3107 2609 3107 2613 3109 2617 3127 2621 3117 2625 3115 2629 3105 2633 3112 2637 3110 2641 3118 2645 3102 2649 3102 2653 3115 2657 3097 2661 3102 2665 3103 2669 3100 2673 3090 2677 3113 2681 3091 2685 3096 2685 3212 2681 3232 2677 3220 2673 3212 2669 3225 2665 3220 2661 3217 2657 3239 2653 3224 2649 3238 2645 3210 2641 3230 2637 3227 2633 3232 2629 3245 2625 3229 2621 3237 2617 3241 2613 3239 2609 3244 2605 3244 2601 3236 2597 3241 2593 3224 2589 3233 2585 3247 2581 3240 2577 3233 2573 3252 2569 3242 2565 3247 2561 3256 2557 3268 2553 3258 2549 3253 2545 3247 2541 3254 2537 3247 2533 3259 2529 3260 2525 3271 2521 3278 2517 3271 2513 3268 2509 3285 2505 3270 2501 3272 2497 3273 2493 3269 2489 3285 2485 3271 2481 3280 2477 3290 2473 3303 2469 3293 2465 3290 2461 3294 2457 3304 2453 3302 2449 3322 2445 3322 2441 3300 2437 3313 2433 3317 2429 3321 2425 3315 2421 3327 2417 3334 2413 3329 2409 3342 2405 3343 2401 3334 2397 3316 2393 3350 2389 3346 2385 3366 2381 3357 2377 3346 2373 3359 2369 3375 2365 3363 2361 3372 2357 3370 2353 3366 2349 3381 2345 3376 2341 3370 2337 3369 2333 3384 2329 3372 2325 3382 2321 3387 2317 3376 2313 3373 2309 3379 2305 3381 2301 3373 2297 3363 2293 3364 2289 3359 2285 3352 2281 3344 2277 3316 2273 3323 2269 3311 2265 3294 2261 3277 2257 3259 2253 3234 2249 3201 2245 3179 2241 3136 2237 3125 2233 3078 2229 3043 2225 2988 2221 2939 2217 2925 2213 2920 2209 2932 2205 2934 2201 2914 2197 2936 2193 2941 2189 2936 2185 2931 2181 2929 2177 2925 2173 2924 2169 2923 2165 2903 2161 2925 2157 2908 2153 2908 2149 2912 2145 2904 2141 2918 2137 2922 2133 2914 2129 2902 2125 2919 2121 2927 2117 2893 2113 2894 2109 2892 2105 2897 2101 2896 2097 2910 2093 2886 2089 2884 2085 2911 2081 2889 2077 2881 2073 2875 2069 2877 2065 2877 2061 2890 2057 2892 2053 2871 2049 2870 2045 2883 2041 2877 2037 2864 2033 2865 2029 2860 2025 2860 2021 2849 2017 2853 2013 2844 2009 2849 2005 2862 2001 2842 1997 2842 1993 2847 1989 2830 1985 2825 1981 2826 1977 2831 1973 2817 1969 2819 1965 2815 1961 2812 1957 2811 1953 2809 1949 2799 1945 2799 1941 2799 1937 2798 1933 2789 1929 2773 1925 2780 1921 2782 1917 2782 1913 2784 1909 2771 1905 2767 1901 2760 1897 2756 1893 2755 1889 2740 1885 2753 1881 2751 1877 2721 1873 2733 1869 2729 1865 2718 1861 2737 1857 2739 1853 2727 1849 2718 1845 2737 1841 2725 1837 2718 1833 2715 1829 2714 1825 2731 1821 2738 1817 2744 1813 2725 1809 2736 1805 2747 1801 2753 1797 2775 1793 2770 1789 2785 1785 2809 1781 2815 1777 2839 1773 2852 1769 2882 1765 2908 1761 2946 1757 2991 1753 3026 1749 3055 1745 3111 1741 3174 1737 3217 1733 3229 1729 3195 1725 3217 1721 3218 1717 3213 1713 3223 1709 3216 1705 3212 1701 3226 1697 3226 1693 3233 1689 3222 1685 3213 1681 3233 1677 3234 1673 3215 1669 3232 1665 3243 1661 3237 1657 3232 1653 3246 1649 3241 1645 3234 1641 3231 1637 3247 1633 3235 1629 3238 1625 3243 1621 3242 1617 3248 1613 3226 1609 3242 1605 3244 1601 3233 1597 3253 1593 3237 1589 3258 1585 3236 1581 3248 1577 3249 1573 3265 1569 3255 1565 3253 1561 3276 1557 3282 1553 3258 1549 3273 1545 3262 1541 3289 1537 3275 1533 3272 1529 3291 1525 3283 1521 3273 1517 3278 1513 3295 1509 3290 1505 3281 1501 3286 1497 3303 1493 3292 1489 3295 1485 3296 1481 3312 1477 3302 1473 3316 1469 3327 1465 3317 1461 3323 1457 3325 1453 3325 1449 3342 1445 3335 1441 3344 1437 3340 1433 3344 1429 3347 1425 3350 1421 3366 1417 3345 1413 3361 1409 3349 1405 3357 1401 3368 1397 3360 1393 3360 1389 3366 1385 3381 1381 3383 1377 3382 1373 3380 1369 3390 1365 3380 1361 3372 1357 3357 1353 3361 1349 3374 1345 3381 1341 3388 1337 3363 1333 3361 1329 3364 1325 3364 1321 3350 1317 3357 1313 3322 1309 3321 1305 3304 1301 3301 1297 3291 1293 3257 1289 3237 1285 3212 1281 3172 1277 3172 1273 3128 1269 3098 1265 3048 1261 3001 1257 2959 1253 2942 1249 2933 1245 2932 1241 2926 1237 2936 1233 2930 1229 2943 1225 2927 1221 2931 1217 2921 1213 2931 1209 2914 1205 2914 1201 2934 1197 2920 1193 2908 1189 2912 1185 2919 1181 2917 1177 2913 1173 2903 1169 2920 1165 2918 1161 2905 1157 2919 1153 2908 1149 2910 1145 2908 1141 2910 1137 2908 1133 2902 1129 2888 1125 2896 1121 2893 1117 2892 1113 2883 1109 2901 1105 2888 1101 2898 1097 2890 1093 2884 1089 2877 1085 2881 1081 2873 1077 2862 1073 2857 1069 2856 1065 2864 1061 2855 1057 2871 1053 2861 1049 2847 1045 2858 1041 2841 1037 2843 1033 2841 1029 2846 1025 2841 1021 2831 1017 2828 1013 2832 1009 2830 1005 2820 1001 2820 997 2807 993 2813 989 2810 985 2808 981 2793 977 2802 973 2795 969 2797 965 2784 961 2790 957 2796 953 2785 949 2775 945 2778 941 2762 937 2764 933 2754 929 2752 925 2737 921 2754 917 2738 913 2736 909 2753 905 2738 901 2723 897 2734 893 2752 889 2738 885 2727 881 2729 877 2735 873 2728 869 2730 865 2719 861 2724 857 2725 853 2744 849 2734 845 2753 841 2759 837 2745 833 2762 829 2779 825 2785 821 2795 817 2824 813 2822 809 2847 805 2879 801 2899 797 2934 793 2960 789 3020 785 3049 781 3096 777 3145 773 3210 769 3233 765 3218 761 3213 757 3227 753 3218 749 3234 745 3218 741 3213 737 3222 733 3212 729 3223 725 3225 721 3228 717 3215 713 3231 709 3227 705 3233 701 3226 697 3232Z" fill="#ffa500" stroke="none"/>
<path transform="scale(0.25)" d="M697 3191l1 -28 1 -54 1 -4 1 -19 1 86 1 27 1 -39 1 71 1 15 1 -156 1 90 1 13 1 41 1 -105 1 5 1 13 1 -6 1 95 1 -39 1 1 1 -133 1 115 1 -78 1 140 1 -102 1 -57 1 47 1 59 1 47 1 12 1 -97 1 -34 1 -12 1 68 1 5 1 -25 1 70 1 -139 1 -24 1 99 1 -16 1 14 1 65 1 -82 1 4 1 -23 1 90 1 -42 1 -54 1 43 1 67 1 -13 1 45 1 -130 1 119 1 -79 1 -40 1 113 1 19 1 -107 1 -16 1 39 1 29 1 14 1 -46 1 -30 1 63 1 56 1 -6 1 -68 1 13 1 -56 1 8 1 -8 1 57 1 -34 1 -76 1 16 1 6 1 27 1 -96 1 84 1 -3 1 -100 1 7 1 -43 1 -69 1 84 1 -61 1 81 1 -74 1 -36 1 11 1 -43 1 -35 1 66 1 -12 1 -30 1 17 1 -32 1 80 1 -118 1 14 1 3 1 103 1 -95 1 47 1 -72 1 -96 1 74 1 101 1 -147 1 201 1 -176 1 13 1 44 1 14 1 -86 1 -60 1 37 1 -20 1 81 1 -93 1 8 1 -36 1 101 1 -82 1 -97 1 79 1 84 1 -69 1 78 1 -42 1 1 1 -56 1 39 1 -14 1 -84 1 169 1 -19 1 -113 1 73 1 -78 1 16 1 -25 1 104 1 -53 1 95 1 -27 1 -24 1 -16 1 -117 1 22 1 35 1 38 1 -58 1 -8 1 118 1 -208 1 69 1 132 1 13 1 -67 1 -52 1 64 1 8 1 -142 1 123 1 -40 1 -20 1 -12 1 108 1 -125 1 24 1 -28 1 19 1 24 1 54 1 105 1 -152 1 101 1 31 1 -59 1 -13 1 -58 1 61 1 -81 1 68 1 45 1 -52 1 -89 1 49 1 -127 1 86 1 84 1 -21 1 51 1 -134 1 158 1 -122 1 125 1 25 1 -84 1 -112 1 -2 1 59 1 59 1 16 1 -67 1 -64 1 62 1 162 1 -96 1 -6 1 12 1 -65 1 9 1 75 1 25 1 -54 1 -97 1 104 1 -57 1 120 1 -38 1 3 1 -134 1 146 1 -117 1 -13 1 32 1 -8 1 -7 1 49 1 44 1 20 1 -52 1 56 1 -111 1 165 1 -123 1 31 1 -37 1 10 1 24 1 66 1 -24 1 92 1 -61 1 -40 1 78 1 -137 1 118 1 -28 1 -59 1 35 1 -64 1 95 1 -137 1 -22 1 144 1 2 1 27 1 -73 1 60 1 -93 1 -14 1 24 1 68 1 -52 1 -7 1 -16 1 33 1 44 1 -61 1 -50 1 146 1 -131 1 89 1 -93 1 -3 1 185 1 -151 1 16 1 24 1 -45 1 67 1 -42 1 -45 1 94 1 33 1 -56 1 -75 1 85 1 91 1 36 1 -127 1 -6 1 5 1 -74 1 40 1 24 1 130 1 -100 1 60 1 -28 1 -48 1 -21 1 17 1 18 1 13 1 -87 1 59 1 50 1 -67 1 76 1 -69 1 23 1 -40 1 128 1 -82 1 53 1 -7 1 -107 1 128 1 -9 1 -100 1 -33 1 13 1 141 1 -91 1 -28 1 100 1 0 1 -44 1 -99 1 76 1 96 1 -166 1 187 1 -202 1 184 1 -56 1 -83 1 1 1 101 1 -23 1 26 1 26 1 -161 1 113 1 -78 1 -35 1 4 1 107 1 -81 1 71 1 55 1 -102 1 -29 1 37 1 77 1 8 1 -10 1 -26 1 -21 1 91 1 -23 1 7 1 -76 1 -43 1 9 1 -3 1 27 1 -22 1 53 1 7 1 -14 1 58 1 -136 1 116 1 -7 1 -51 1 -31 1 23 1 -18 1 37 1 37 1 71 1 -160 1 33 1 106 1 14 1 4 1 -48 1 -125 1 37 1 -37 1 61 1 0 1 40 1 -59 1 119 1 -104 1 53 1 -69 1 10 1 -27 1 97 1 -78 1 7 1 0 1 134 1 -70 1 4 1 -26 1 47 1 -133 1 -5 1 153 1 -19 1 8 1 53 1 4 1 -127 1 -16 1 78 1 -81 1 1 1 -28 1 157 1 -202 1 12 1 129 1 47 1 -60 1 56 1 -17 1 -13 1 -143 1 18 1 23 1 126 1 -107 1 141 1 -33 1 -129 1 92 1 -55 1 -5 1 48 1 -45 1 77 1 -115 1 120 1 -34 1 -49 1 87 1 -89 1 30 1 -53 1 44 1 37 1 -16 1 3 1 64 1 -65 1 -12 1 67 1 -132 1 88 1 53 1 25 1 -194 1 96 1 23 1 -8 1 8 1 88 1 -2 1 -42 1 20 1 32 1 -144 1 76 1 -107 1 92 1 57 1 -36 1 36 1 -78 1 -23 1 -2 1 -8 1 46 1 12 1 84 1 -16 1 -75 1 105 1 -196 1 46 1 14 1 93 1 -123 1 68 1 26 1 -109 1 118 1 -10 1 -53 1 -56 1 47 1 -26 1 93 1 38 1 -110 1 125 1 -71 1 36 1 28 1 -43 1 -45 1 -28 1 -91 1 224 1 -25 1 -12 1 -52 1 36 1 -104 1 111 1 -38 1 -64 1 44 1 81 1 37 1 -33 1 -42 1 -72 1 81 1 -43 1 -60 1 79 1 33 1 40 1 -123 1 -4 1 109 1 -107 1 -5 1 1 1 38 1 18 1 16 1 -32 1 -70 1 112 1 26 1 -106 1 60 1 27 1 115 1 -99 1 -25 1 201 1 -180 1 34 1 52 1 104 1 -80 1 -32 1 114 1 -59 1 -25 1 -7 1 -3 1 22 1 -29 1 12 1 71 1 0 1 -15 1 108 1 -97 1 -39 1 76 1 103 1 -51 1 39 1 -29 1 64 1 -112 1 107 1 -63 1 -26 1 10 1 11 1 90 1 -69 1 89 1 -73 1 -2 1 -15 1 -19 1 43 1 -30 1 -16 1 -9 1 13 1 105 1 19 1 -55 1 47 1 -121 1 -4 1 103 1 -89 1 151 1 -71 1 -76 1 92 1 84 1 -119 1 92 1 -36 1 -26 1 -81 1 75 1 106 1 -159 1 39 1 39 1 -49 1 72 1 2 1 12 1 11 1 -150 1 134 1 -41 1 90 1 -153 1 21 1 142 1 -42 1 -151 1 43 1 24 1 54 1 74 1 -90 1 -71 1 106 1 -25 1 21 1 48 1 -140 1 154 1 -178 1 56 1 83 1 -85 1 78 1 -36 1 30 1 -61 1 -26 1 63 1 -54 1 96 1 -43 1 15 1 -81 1 164 1 -114 1 5 1 57 1 36 1 -16 1 -127 1 97 1 -130 1 117 1 -13 1 -59 1 57 1 -133 1 89 1 -31 1 59 1 -83 1 47 1 38 1 -64 1 2 1 -30 1 87 1 -30 1 65 1 -91 1 51 1 -93 1 -5 1 47 1 6 1 115 1 -85 1 -53 1 -51 1 68 1 -47 1 76 1 -72 1 70 1 -83 1 117 1 -163 1 125 1 98 1 -124 1 35 1 -33 1 57 1 -139 1 135 1 -73 1 84 1 -61 1 -29 1 34 1 -61 1 61 1 -79 1 -19 1 14 1 46 1 136 1 -174 1 167 1 -206 1 83 1 73 1 -90 1 63 1 -58 1 35 1 36 1 -37 1 88 1 -139 1 -18 1 -4 1 73 1 7 1 62 1 -1 1 -3 1 -39 1 -85 1 161 1 -76 1 -24 1 20 1 -7 1 61 1 -83 1 38 1 6 1 -106 1 164 1 -19 1 -21 1 -155 1 134 1 -107 1 -42 1 177 1 -114 1 85 1 -13 1 19 1 -19 1 -76 1 -19 1 7 1 143 1 8 1 -58 1 -135 1 130 1 48 1 -37 1 36 1 -190 1 108 1 85 1 -13 1 -20 1 -68 1 79 1 37 1 -81 1 -67 1 30 1 94 1 -20 1 -108 1 90 1 -119 1 158 1 -184 1 93 1 29 1 -114 1 95 1 18 1 31 1 -9 1 -95 1 85 1 19 1 -111 1 68 1 -39 1 -19 1 -24 1 98 1 37 1 2 1 -10 1 -99 1 119 1 -159 1 -3 1 133 1 -69 1 64 1 -58 1 -79 1 2 1 25 1 -50 1 53 1 54 1 -19 1 77 1 -64 1 3 1 16 1 43 1 -68 1 13 1 44 1 -24 1 19 1 -122 1 81 1 -88 1 131 1 34 1 15 1 -52 1 -89 1 30 1 -13 1 37 1 -45 1 -35 1 133 1 -82 1 81 1 -98 1 40 1 45 1 19 1 -103 1 26 1 -48 1 166 1 -85 1 17 1 27 1 -41 1 33 1 -24 1 5 1 20 1 -126 1 34 1 -18 1 32 1 26 1 -78 1 95 1 -52 1 1 1 23 1 -73 1 78 1 38 1 -62 1 112 1 -156 1 82 1 -85 1 116 1 -14 1 -32 1 -43 1 106 1 -45 1 -36 1 80 1 -204 1 146 1 8 1 -14 1 69 1 -111 1 -39 1 -3 1 -16 1 138 1 -9 1 -118 1 117 1 32 1 -14 1 -150 1 23 1 11 1 54 1 -60 1 114 1 -134 1 152 1 -148 1 53 1 -103 1 14 1 108 1 -76 1 13 1 115 1 -23 1 -45 1 12 1 -133 1 119 1 98 1 -25 1 -87 1 19 1 -39 1 145 1 -160 1 79 1 -89 1 152 1 -97 1 -11 1 -41 1 42 1 -15 1 61 1 -45 1 -59 1 116 1 -80 1 67 1 -112 1 -49 1 188 1 -29 1 -49 1 -68 1 56 1 34 1 -50 1 23 1 -6 1 111 1 -159 1 8 1 29 1 -8 1 57 1 37 1 -101 1 -47 1 150 1 -76 1 23 1 -57 1 90 1 -25 1 58 1 -35 1 59 1 -183 1 3 1 188 1 -122 1 -36 1 62 1 59 1 -40 1 -113 1 112 1 22 1 -45 1 -68 1 153 1 -27 1 -35 1 32 1 35 1 -96 1 22 1 1 1 -70 1 69 1 34 1 -150 1 93 1 -47 1 30 1 -5 1 16 1 -67 1 157 1 -73 1 -104 1 73 1 34 1 -26 1 -23 1 118 1 -148 1 139 1 -114 1 46 1 8 1 -130 1 16 1 65 1 -143 1 107 1 -14 1 -31 1 56 1 -27 1 -158 1 71 1 42 1 -118 1 79 1 -33 1 60 1 -68 1 -147 1 38 1 107 1 -9 1 -99 1 6 1 67 1 -116 1 99 1 -135 1 77 1 33 1 -46 1 -2 1 87 1 -134 1 79 1 -79 1 19 1 -39 1 91 1 -9 1 -16 1 -119 1 40 1 67 1 -92 1 -24 1 88 1 29 1 -56 1 -84 1 -45 1 161 1 53 1 -129 1 41 1 -101 1 82 1 -105 1 47 1 92 1 -133 1 69 1 41 1 -18 1 6 1 -84 1 160 1 -83 1 -85 1 34 1 79 1 14 1 -51 1 66 1 -62 1 47 1 -100 1 -26 1 28 1 42 1 -119 1 94 1 46 1 -74 1 69 1 -11 1 -39 1 -50 1 -14 1 125 1 -176 1 120 1 -3 1 64 1 -101 1 13 1 8 1 9 1 68 1 -9 1 36 1 -114 1 -43 1 -67 1 105 1 -69 1 56 1 89 1 -84 1 64 1 -97 1 -20 1 212 1 -38 1 -41 1 -75 1 49 1 -81 1 121 1 -109 1 67 1 93 1 -31 1 -148 1 31 1 -15 1 80 1 57 1 -23 1 -46 1 -12 1 80 1 -45 1 -43 1 -26 1 128 1 -115 1 33 1 -66 1 142 1 -119 1 39 1 0 1 40 1 36 1 12 1 -109 1 11 1 101 1 -147 1 9 1 61 1 -67 1 -13 1 128 1 8 1 -101 1 -35 1 62 1 -121 1 200 1 -135 1 -12 1 117 1 -71 1 77 1 -98 1 82 1 -70 1 -29 1 156 1 -158 1 152 1 35 1 -123 1 39 1 23 1 -161 1 102 1 -13 1 89 1 -54 1 54 1 -146 1 22 1 73 1 31 1 65 1 -128 1 129 1 -22 1 -115 1 120 1 -135 1 19 1 52 1 56 1 -116 1 46 1 85 1 33 1 -31 1 -43 1 31 1 25 1 -150 1 114 1 48 1 -111 1 83 1 -75 1 -53 1 25 1 19 1 185 1 -159 1 -31 1 144 1 -166 1 30 1 148 1 -212 1 177 1 -14 1 -93 1 69 1 22 1 -81 1 37 1 -33 1 35 1 58 1 -70 1 -29 1 76 1 1 1 -4 1 -65 1 10 1 -13 1 93 1 -119 1 24 1 65 1 -98 1 166 1 -47 1 28 1 -154 1 184 1 -65 1 -27 1 -59 1 173 1 -110 1 9 1 27 1 7 1 -77 1 -54 1 129 1 -53 1 39 1 -119 1 -24 1 94 1 100 1 7 1 17 1 29 1 -147 1 -67 1 11 1 152 1 46 1 24 1 -150 1 22 1 -31 1 42 1 59 1 -55 1 42 1 -156 1 125 1 -11 1 -143 1 84 1 78 1 42 1 -121 1 -79 1 103 1 55 1 55 1 -103 1 -39 1 86 1 13 1 -35 1 -12 1 -65 1 3 1 60 1 29 1 29 1 27 1 -92 1 102 1 -185 1 66 1 -56 1 130 1 -33 1 -72 1 -29 1 66 1 -51 1 99 1 58 1 -32 1 -112 1 56 1 43 1 -128 1 -17 1 144 1 -104 1 135 1 -112 1 146 1 -174 1 69 1 -22 1 87 1 -20 1 -90 1 98 1 -1 1 -99 1 81 1 42 1 -92 1 52 1 -37 1 96 1 -102 1 40 1 37 1 -105 1 101 1 -115 1 151 1 -98 1 -16 1 7 1 20 1 -66 1 63 1 61 1 -1 1 -18 1 -74 1 -13 1 0 1 40 1 59 1 -28 1 -24 1 75 1 -21 1 21 1 9 1 -5 1 -5 1 -140 1 143 1 -56 1 84 1 -65 1 -20 1 29 1 -11 1 98 1 -162 1 98 1 -12 1 -94 1 25 1 17 1 -17 1 9 1 43 1 -24 1 -15 1 44 1 17 1 -29 1 -14 1 -64 1 135 1 -91 1 20 1 -85 1 27 1 59 1 -21 1 -12 1 180 1 -34 1 -44 1 -64 1 -73 1 118 1 -80 1 97 1 -19 1 -173 1 54 1 34 1 123 1 -50 1 19 1 -14 1 29 1 -56 1 82 1 -108 1 119 1 -109 1 95 1 -105 1 34 1 -71 1 109 1 -85 1 66 1 70 1 -172 1 44 1 -30 1 22 1 29 1 38 1 -35 1 38 1 -118 1 102 1 -72 1 51 1 27 1 -73 1 1 1 42 1 26 1 -58 1 -8 1 128 1 -73 1 -73 1 143 1 -152 1 69 1 74 1 -62 1 80 1 -115 1 35 1 -25 1 106 1 -89 1 -53 1 10 1 90 1 65 1 -100 1 57 1 -10 1 -90 1 101 1 -100 1 110 1 -37 1 4 1 146 1 -113 1 96 1 -99 1 -85 1 47 1 22 1 137 1 -19 1 9 1 9 1 -26 1 112 1 -17 1 108 1 -181 1 -8 1 143 1 -15 1 -123 1 60 1 -64 1 92 1 89 1 -135 1 85 1 0 1 -76 1 95 1 -75 1 -20 1 130 1 -31 1 107 1 -137 1 -13 1 18 1 -35 1 175 1 -32 1 -59 1 -37 1 84 1 29 1 -101 1 80 1 -60 1 74 1 -122 1 49 1 117 1 -157 1 139 1 -61 1 29 1 -85 1 23 1 44 1 66 1 -97 1 -43 1 98 1 -64 1 114 1 -72 1 -48 1 -37 1 86 1 12 1 -33 1 30 1 -16 1 -16 1 -29 1 108 1 -110 1 135 1 -89 1 34 1 -56 1 13 1 61 1 -56 1 137 1 -97 1 2 1 -122 1 125 1 -2 1 -31 1 63 1 -67 1 -48 1 43 1 19 1 62 1 -130 1 197 1 -69 1 8 1 -52 1 -33 1 117 1 -13 1 8 1 -43 1 -47 1 -26 1 50 1 4 1 68 1 52 1 -11 1 -145 1 59 1 42 1 20 1 -12 1 -126 1 15 1 56 1 -27 1 109 1 -45 1 -31 1 60 1 -61 1 -65 1 -27 1 61 1 39 1 -69 1 122 1 -96 1 -100 1 162 1 -4 1 57 1 -124 1 -48 1 25 1 -21 1 76 1 -94 1 65 1 48 1 -170 1 85 1 84 1 -99 1 41 1 111 1 -36 1 34 1 -28 1 -143 1 148 1 -40 1 -121 1 44 1 58 1 -72 1 1 1 -43 1 112 1 -95 1 39 1 126 1 -96 1 -33 1 -5 1 133 1 -97 1 -84 1 41 1 99 1 -69 1 -52 1 42 1 27 1 -103 1 49 1 31 1 -37 1 -20 1 100 1 -85 1 50 1 -38 1 14 1 -77 1 118 1 -106 1 86 1 -118 1 74 1 46 1 44 1 -119 1 -22 1 -12 1 88 1 37 1 -101 1 78 1 -55 1 71 1 47 1 35 1 -96 1 -80 1 1 1 10 1 142 1 -163 1 93 1 -71 1 84 1 -29 1 -19 1 -74 1 134 1 11 1 -44 1 -71 1 -43 1 -13 1 133 1 44 1 -45 1 -5 1 -103 1 108 1 -68 1 55 1 -79 1 60 1 -43 1 8 1 -15 1 53 1 -49 1 101 1 -155 1 160 1 -12 1 -105 1 42 1 -31 1 47 1 -21 1 32 1 -2 1 -83 1 89 1 35 1 8 1 -71 1 69 1 -24 1 -10 1 54 1 -32 1 29 1 -1 1 -97 1 -31 1 -7 1 -5 1 -55 1 105 1 -5 1 24 1 -8 1 -89 1 38 1 30 1 21 1 33 1 12 1 -15 1 43 1 -77 1 12 1 59 1 -58 1 46 1 -5 1 -69 1 14 1 48 1 -102 1 120 1 -191 1 93 1 9 1 -10 1 35 1 76 1 -208 1 86 1 4 1 -5 1 76 1 -85 1 35 1 -94 1 76 1 43 1 -1 1 -29 1 62 1 0 1 -111 1 99 1 27 1 -19 1 -83 1 88 1 -114 1 105 1 -33 1 -80 1 101 1 -62 1 124 1 -34 1 -31 1 -105 1 128 1 -149 1 12 1 132 1 -123 1 1 1 139 1 -85 1 53 1 46 1 -182 1 11 1 105 1 -82 1 92 1 -24 1 -72 1 158 1 -152 1 68 1 -26 1 70 1 -133 1 123 1 -31 1 14 1 -13 1 -91 1 33 1 1 1 -68 1 79 1 72 1 -157 1 101 1 -110 1 80 1 42 1 -93 1 51 1 3 1 61 1 28 1 -194 1 241 1 -41 1 -108 1 41 1 -83 1 90 1 -74 1 70 1 56 1 -142 1 98 1 -43 1 85 1 -29 1 -61 1 -64 1 83 1 -9 1 58 1 -143 1 165 1 -80 1 -47 1 169 1 -98 1 91 1 -108 1 110 1 -30 1 -41 1 -63 1 53 1 -65 1 18 1 61 1 -68 1 16 1 -39 1 38 1 -34 1 29 1 -11 1 -54 1 34 1 77 1 -94 1 179 1 -158 1 75 1 109 1 -44 1 -165 1 93 1 -50 1 15 1 -96 1 125 1 -52 1 13 1 -5 1 140 1 -45 1 22 1 -82 1 -72 1 38 1 -9 1 25 1 62 1 -29 1 -38 1 -22 1 68 1 -55 1 18 1 -48 1 119 1 -21 1 95 1 -67 1 -30 1 -61 1 23 1 -33 1 79 1 -50 1 -55 1 21 1 57 1 -64" stroke="#ffa500" stroke-width="8.8"/>
<path transform="scale(0.25)" d="M697 4036l1 32 1 -128 1 61 1 -22 1 -37 1 130 1 -40 1 -13 1 -55 1 53 1 45 1 -163 1 24 1 38 1 57 1 -55 1 55 1 -9 1 50 1 -30 1 -23 1 62 1 -53 1 -59 1 -59 1 137 1 -68 1 -21 1 63 1 -84 1 74 1 34 1 -64 1 60 1 -12 1 -98 1 64 1 -99 1 59 1 24 1 -63 1 107 1 39 1 -7 1 -72 1 -43 1 8 1 71 1 -32 1 21 1 -15 1 -108 1 176 1 -96 1 21 1 -3 1 -14 1 95 1 -69 1 81 1 -181 1 43 1 133 1 -143 1 125 1 -156 1 33 1 30 1 103 1 -107 1 32 1 -84 1 54 1 152 1 -43 1 -126 1 -1 1 4 1 148 1 -237 1 18 1 178 1 -5 1 -133 1 -49 1 0 1 22 1 2 1 -136 1 85 1 82 1 -44 1 -96 1 -71 1 196 1 -174 1 111 1 9 1 -59 1 82 1 -175 1 72 1 -3 1 -50 1 50 1 56 1 -23 1 -125 1 -70 1 67 1 80 1 -156 1 132 1 -134 1 76 1 30 1 19 1 -65 1 -108 1 -24 1 128 1 31 1 14 1 -46 1 -34 1 129 1 -41 1 -144 1 10 1 33 1 -113 1 151 1 -104 1 52 1 -35 1 154 1 -195 1 76 1 -64 1 80 1 15 1 -75 1 2 1 68 1 -122 1 -29 1 -2 1 -5 1 6 1 164 1 24 1 -82 1 -78 1 114 1 -97 1 15 1 71 1 -72 1 27 1 57 1 -65 1 -125 1 214 1 -87 1 42 1 -39 1 -84 1 -6 1 35 1 -44 1 37 1 99 1 -84 1 13 1 -50 1 173 1 -194 1 126 1 28 1 -60 1 -71 1 78 1 -148 1 239 1 -133 1 -103 1 139 1 -26 1 33 1 17 1 -114 1 127 1 21 1 7 1 -169 1 103 1 -24 1 -49 1 119 1 16 1 -97 1 -37 1 137 1 25 1 -9 1 -88 1 -67 1 85 1 56 1 -56 1 150 1 -170 1 16 1 -66 1 181 1 -82 1 -15 1 104 1 -25 1 -150 1 1 1 88 1 -111 1 79 1 -130 1 219 1 -38 1 -111 1 79 1 -124 1 80 1 -27 1 19 1 -25 1 -36 1 86 1 -30 1 16 1 -24 1 43 1 58 1 35 1 -104 1 46 1 -88 1 118 1 -35 1 -61 1 112 1 -38 1 -40 1 -79 1 128 1 -131 1 158 1 -49 1 -28 1 57 1 -10 1 -37 1 48 1 -23 1 77 1 -49 1 -51 1 -90 1 203 1 -19 1 -59 1 55 1 10 1 -8 1 -23 1 -175 1 121 1 1 1 71 1 -133 1 136 1 8 1 -147 1 83 1 -72 1 -30 1 139 1 -99 1 1 1 -43 1 164 1 -99 1 133 1 -56 1 -22 1 -90 1 14 1 73 1 -28 1 -41 1 107 1 -36 1 11 1 35 1 -34 1 -42 1 -64 1 74 1 -2 1 -22 1 -29 1 26 1 69 1 -147 1 48 1 14 1 33 1 48 1 -14 1 54 1 -120 1 -45 1 216 1 -119 1 29 1 3 1 16 1 -50 1 -8 1 13 1 -51 1 149 1 -46 1 -44 1 -64 1 47 1 51 1 -80 1 11 1 -27 1 42 1 115 1 -67 1 12 1 -108 1 34 1 9 1 86 1 -138 1 56 1 38 1 -78 1 -52 1 111 1 -87 1 144 1 53 1 -109 1 -14 1 103 1 -181 1 28 1 115 1 38 1 -166 1 53 1 73 1 -54 1 -2 1 93 1 -121 1 141 1 -9 1 -131 1 175 1 -138 1 12 1 43 1 -118 1 131 1 -86 1 59 1 13 1 -102 1 41 1 -13 1 46 1 27 1 20 1 18 1 -31 1 -23 1 -35 1 35 1 -106 1 75 1 -18 1 109 1 -139 1 -18 1 48 1 25 1 -62 1 41 1 66 1 43 1 -15 1 18 1 -124 1 117 1 8 1 -121 1 154 1 -23 1 -54 1 15 1 -106 1 35 1 -69 1 116 1 -21 1 -38 1 -48 1 92 1 -75 1 70 1 -35 1 93 1 18 1 -199 1 60 1 121 1 -146 1 69 1 98 1 -57 1 -20 1 -29 1 51 1 -28 1 1 1 -30 1 57 1 -40 1 23 1 -53 1 -89 1 83 1 166 1 -144 1 5 1 -29 1 39 1 -7 1 42 1 -91 1 -53 1 115 1 -27 1 -61 1 36 1 75 1 -99 1 31 1 14 1 26 1 -22 1 -70 1 85 1 31 1 -101 1 136 1 -59 1 107 1 -88 1 -48 1 17 1 87 1 33 1 -103 1 23 1 -108 1 121 1 -5 1 -61 1 66 1 -52 1 106 1 -146 1 35 1 63 1 -98 1 28 1 69 1 -65 1 -12 1 11 1 39 1 36 1 -108 1 40 1 -57 1 86 1 -59 1 140 1 -55 1 40 1 -134 1 109 1 -87 1 42 1 -85 1 59 1 -74 1 229 1 -123 1 -59 1 47 1 91 1 -142 1 3 1 35 1 -45 1 11 1 21 1 -12 1 120 1 -65 1 18 1 24 1 -35 1 30 1 35 1 -163 1 112 1 14 1 4 1 -42 1 18 1 43 1 -10 1 -117 1 103 1 -73 1 54 1 97 1 -132 1 29 1 -33 1 80 1 -62 1 -15 1 -43 1 168 1 -148 1 -10 1 -69 1 50 1 23 1 3 1 -22 1 132 1 -121 1 2 1 76 1 -99 1 156 1 52 1 -27 1 -59 1 119 1 -99 1 60 1 5 1 8 1 -104 1 162 1 -95 1 152 1 -95 1 -69 1 218 1 -208 1 16 1 77 1 -43 1 37 1 83 1 -73 1 130 1 -121 1 36 1 55 1 -90 1 126 1 -74 1 -13 1 -27 1 44 1 54 1 71 1 -90 1 76 1 -32 1 -15 1 -1 1 77 1 -46 1 -18 1 36 1 -35 1 -6 1 -66 1 48 1 -14 1 77 1 -22 1 -58 1 158 1 -202 1 184 1 -13 1 -51 1 -30 1 -49 1 -54 1 172 1 126 1 -81 1 -86 1 14 1 -27 1 24 1 96 1 -187 1 81 1 5 1 178 1 -124 1 1 1 -34 1 66 1 -15 1 -5 1 -85 1 -12 1 181 1 -4 1 -154 1 75 1 24 1 -96 1 94 1 -109 1 109 1 53 1 23 1 -164 1 98 1 34 1 55 1 -58 1 11 1 -109 1 39 1 77 1 -88 1 65 1 -76 1 -27 1 -29 1 36 1 74 1 -74 1 -7 1 16 1 60 1 -114 1 22 1 132 1 38 1 -204 1 66 1 -6 1 64 1 -72 1 27 1 -23 1 -16 1 192 1 -88 1 -127 1 134 1 -50 1 -13 1 34 1 -31 1 91 1 -189 1 28 1 90 1 13 1 -3 1 -80 1 70 1 34 1 -27 1 73 1 0 1 -180 1 0 1 10 1 201 1 6 1 -119 1 39 1 6 1 31 1 -69 1 87 1 9 1 -30 1 -126 1 43 1 10 1 -122 1 82 1 32 1 99 1 -93 1 -33 1 81 1 -2 1 -60 1 -33 1 116 1 -80 1 -49 1 145 1 -131 1 131 1 -65 1 89 1 -32 1 -51 1 24 1 25 1 -97 1 0 1 -42 1 20 1 56 1 -23 1 47 1 -101 1 53 1 -18 1 -29 1 59 1 -2 1 -37 1 101 1 -158 1 14 1 112 1 -73 1 81 1 -10 1 -75 1 -29 1 -19 1 139 1 -14 1 -152 1 -10 1 129 1 -77 1 17 1 -76 1 108 1 -80 1 52 1 97 1 -38 1 -94 1 -33 1 10 1 124 1 -136 1 40 1 99 1 -114 1 128 1 -33 1 -13 1 -135 1 158 1 -8 1 -14 1 62 1 9 1 -20 1 -99 1 6 1 64 1 79 1 -26 1 -151 1 -8 1 171 1 -99 1 -49 1 -65 1 83 1 -15 1 181 1 -126 1 162 1 -160 1 -35 1 -90 1 89 1 42 1 15 1 -42 1 -101 1 -5 1 88 1 -43 1 69 1 -14 1 -93 1 97 1 -63 1 37 1 54 1 -26 1 -77 1 -29 1 182 1 -65 1 -26 1 -51 1 -39 1 202 1 -107 1 93 1 -99 1 51 1 30 1 -172 1 119 1 -94 1 114 1 -21 1 124 1 -63 1 -236 1 211 1 10 1 -65 1 7 1 -79 1 94 1 -13 1 -97 1 48 1 -9 1 -13 1 119 1 -200 1 2 1 127 1 -155 1 84 1 4 1 3 1 -13 1 11 1 149 1 -81 1 -60 1 -70 1 160 1 -39 1 -26 1 -46 1 -23 1 48 1 137 1 -97 1 -49 1 -12 1 142 1 -109 1 -57 1 14 1 92 1 -1 1 -55 1 128 1 -130 1 59 1 7 1 22 1 -121 1 30 1 -9 1 106 1 -132 1 91 1 -77 1 13 1 -48 1 73 1 73 1 -46 1 52 1 -29 1 -49 1 -17 1 -71 1 178 1 -87 1 74 1 -124 1 144 1 -2 1 -11 1 -146 1 77 1 58 1 25 1 -170 1 -18 1 100 1 -45 1 4 1 52 1 -10 1 3 1 81 1 -131 1 104 1 -107 1 35 1 -33 1 1 1 -70 1 28 1 175 1 -180 1 82 1 3 1 160 1 -193 1 -25 1 11 1 3 1 -114 1 135 1 -2 1 65 1 -48 1 -18 1 -59 1 45 1 -32 1 161 1 -153 1 -15 1 90 1 -45 1 40 1 -47 1 3 1 25 1 -49 1 74 1 -142 1 76 1 159 1 -12 1 -125 1 16 1 48 1 33 1 44 1 -113 1 -67 1 14 1 8 1 74 1 -127 1 73 1 -87 1 77 1 -52 1 92 1 -19 1 68 1 -159 1 -18 1 4 1 36 1 73 1 53 1 36 1 -114 1 9 1 59 1 -14 1 -20 1 -108 1 65 1 145 1 -217 1 241 1 -105 1 -77 1 31 1 7 1 11 1 -3 1 -28 1 92 1 -103 1 9 1 44 1 40 1 -153 1 22 1 66 1 40 1 -95 1 81 1 -138 1 86 1 -43 1 78 1 1 1 16 1 -13 1 27 1 -79 1 -30 1 -20 1 20 1 35 1 -46 1 -64 1 -18 1 48 1 -33 1 -66 1 129 1 -143 1 41 1 -2 1 -4 1 -105 1 47 1 49 1 -113 1 136 1 -112 1 149 1 -150 1 26 1 -24 1 -48 1 78 1 -78 1 112 1 13 1 -161 1 31 1 -18 1 132 1 -125 1 62 1 -172 1 217 1 -72 1 12 1 -45 1 -31 1 -45 1 91 1 -74 1 -50 1 38 1 83 1 -33 1 45 1 55 1 -204 1 -58 1 181 1 -38 1 71 1 -110 1 56 1 -28 1 -68 1 17 1 -25 1 135 1 -60 1 -48 1 -12 1 126 1 -187 1 7 1 134 1 -30 1 41 1 22 1 -54 1 4 1 61 1 -168 1 100 1 -33 1 -111 1 106 1 17 1 79 1 -122 1 -43 1 82 1 58 1 8 1 11 1 -53 1 72 1 -112 1 54 1 -77 1 -50 1 113 1 -11 1 -84 1 -41 1 146 1 -118 1 86 1 -22 1 7 1 -49 1 -36 1 120 1 38 1 -94 1 62 1 -16 1 -47 1 113 1 -178 1 130 1 22 1 -119 1 -23 1 130 1 13 1 -8 1 -82 1 -11 1 8 1 -35 1 119 1 -67 1 42 1 -3 1 -90 1 85 1 -158 1 63 1 70 1 -84 1 120 1 -76 1 22 1 83 1 4 1 -154 1 180 1 -176 1 -7 1 134 1 -105 1 59 1 -90 1 41 1 136 1 -150 1 136 1 -127 1 5 1 16 1 35 1 -35 1 42 1 15 1 -45 1 -45 1 73 1 -8 1 -10 1 -8 1 15 1 -12 1 14 1 133 1 -167 1 84 1 -121 1 36 1 60 1 38 1 -37 1 95 1 -51 1 -55 1 15 1 8 1 15 1 6 1 0 1 -1 1 31 1 45 1 -182 1 30 1 85 1 -70 1 -76 1 27 1 91 1 65 1 -36 1 -31 1 -58 1 70 1 -95 1 126 1 -27 1 -19 1 25 1 -64 1 111 1 -49 1 -92 1 -39 1 180 1 -110 1 -22 1 16 1 33 1 40 1 42 1 -15 1 -113 1 72 1 95 1 -182 1 123 1 -49 1 24 1 2 1 19 1 -56 1 53 1 -1 1 -58 1 94 1 -75 1 93 1 -47 1 -102 1 196 1 -41 1 -54 1 -19 1 -91 1 150 1 -15 1 -59 1 59 1 -11 1 -118 1 18 1 140 1 -50 1 57 1 -85 1 56 1 -57 1 14 1 -22 1 -56 1 60 1 62 1 -99 1 47 1 -72 1 74 1 23 1 64 1 -164 1 63 1 -27 1 62 1 -64 1 94 1 -107 1 98 1 -85 1 30 1 60 1 -17 1 -81 1 46 1 -57 1 156 1 22 1 2 1 -172 1 111 1 -58 1 -64 1 179 1 -9 1 -37 1 -61 1 128 1 -175 1 110 1 -13 1 14 1 -22 1 -47 1 126 1 -179 1 44 1 16 1 44 1 -127 1 129 1 44 1 18 1 -108 1 -100 1 178 1 17 1 -127 1 52 1 -78 1 173 1 -43 1 -137 1 202 1 -63 1 -82 1 -21 1 3 1 55 1 -24 1 13 1 116 1 -166 1 38 1 -6 1 109 1 -27 1 -31 1 91 1 -91 1 40 1 -15 1 -139 1 20 1 112 1 -79 1 43 1 -40 1 30 1 -83 1 -14 1 93 1 -82 1 164 1 -12 1 -148 1 42 1 108 1 -82 1 82 1 -86 1 -7 1 31 1 8 1 68 1 26 1 2 1 -42 1 -7 1 2 1 -35 1 -14 1 64 1 -10 1 1 1 -11 1 109 1 -164 1 11 1 -97 1 12 1 33 1 60 1 -16 1 -16 1 5 1 126 1 -56 1 59 1 -176 1 54 1 23 1 15 1 -31 1 28 1 -10 1 -53 1 8 1 -37 1 23 1 49 1 62 1 -34 1 -62 1 -49 1 79 1 -56 1 52 1 70 1 -35 1 31 1 -25 1 20 1 45 1 -122 1 130 1 -105 1 49 1 -125 1 -58 1 212 1 7 1 -47 1 -144 1 128 1 1 1 7 1 2 1 -64 1 -29 1 36 1 106 1 -43 1 62 1 -8 1 -175 1 107 1 -51 1 36 1 -93 1 76 1 41 1 -158 1 74 1 -58 1 84 1 104 1 -101 1 48 1 64 1 -66 1 8 1 36 1 -81 1 33 1 -66 1 116 1 -80 1 -51 1 152 1 -133 1 83 1 -92 1 121 1 -117 1 57 1 16 1 -111 1 46 1 -20 1 80 1 -92 1 171 1 -80 1 17 1 -30 1 -96 1 161 1 -69 1 -23 1 38 1 -3 1 -19 1 78 1 -16 1 -17 1 90 1 -271 1 180 1 -71 1 17 1 -18 1 44 1 -64 1 167 1 -76 1 155 1 -80 1 -16 1 84 1 -43 1 -23 1 -16 1 104 1 -78 1 -92 1 148 1 46 1 -139 1 159 1 5 1 -22 1 -76 1 95 1 33 1 -48 1 64 1 2 1 -37 1 105 1 -184 1 47 1 -23 1 111 1 -90 1 172 1 -116 1 100 1 39 1 -69 1 -96 1 116 1 18 1 -62 1 128 1 -213 1 10 1 50 1 -87 1 97 1 104 1 -74 1 84 1 -131 1 77 1 -26 1 73 1 -74 1 6 1 -41 1 25 1 -11 1 122 1 -106 1 72 1 47 1 -159 1 99 1 -104 1 43 1 -23 1 60 1 123 1 -136 1 69 1 -43 1 4 1 71 1 1 1 -137 1 113 1 -105 1 51 1 -42 1 5 1 -44 1 13 1 101 1 95 1 -110 1 108 1 -160 1 65 1 -19 1 14 1 61 1 -14 1 70 1 -157 1 149 1 -91 1 -22 1 -55 1 166 1 -90 1 -85 1 -28 1 73 1 30 1 -25 1 84 1 -72 1 0 1 70 1 13 1 115 1 -245 1 135 1 85 1 -160 1 94 1 -149 1 53 1 44 1 60 1 -88 1 -30 1 85 1 16 1 -75 1 -44 1 39 1 -16 1 85 1 -5 1 -126 1 -2 1 126 1 -101 1 -74 1 163 1 -124 1 135 1 52 1 -71 1 -95 1 47 1 78 1 42 1 -149 1 7 1 -47 1 122 1 53 1 -110 1 86 1 -5 1 -86 1 96 1 -98 1 132 1 -45 1 -47 1 83 1 -105 1 92 1 -28 1 -105 1 104 1 -70 1 -76 1 200 1 -152 1 -8 1 122 1 -112 1 8 1 -54 1 80 1 -23 1 65 1 -86 1 54 1 61 1 -215 1 189 1 -89 1 117 1 -77 1 99 1 -109 1 64 1 -99 1 -19 1 74 1 -82 1 1 1 -44 1 42 1 50 1 109 1 -92 1 93 1 -3 1 -29 1 -58 1 137 1 -178 1 113 1 -84 1 -50 1 116 1 -64 1 -4 1 54 1 16 1 12 1 -152 1 96 1 -58 1 27 1 -32 1 120 1 -15 1 -158 1 87 1 35 1 31 1 58 1 -192 1 -51 1 191 1 -37 1 -64 1 128 1 3 1 -111 1 54 1 -174 1 118 1 -59 1 1 1 172 1 -50 1 -15 1 -57 1 77 1 -96 1 91 1 -102 1 91 1 -71 1 46 1 80 1 -171 1 88 1 9 1 6 1 80 1 -126 1 -35 1 76 1 48 1 -118 1 4 1 43 1 -39 1 50 1 -58 1 -50 1 106 1 1 1 -132 1 122 1 -136 1 206 1 -119 1 45 1 45 1 -112 1 28 1 39 1 -100 1 28 1 65 1 -45 1 80 1 -87 1 45 1 -2 1 5 1 41 1 -79 1 72 1 -38 1 62 1 -4 1 -57 1 -73 1 80 1 -30 1 -37 1 59 1 -86 1 -28 1 169 1 43 1 -27 1 -114 1 25 1 -34 1 27 1 -37 1 59 1 -12 1 -19 1 49 1 -40 1 58 1 -55 1 83 1 -129 1 198 1 -142 1 -15 1 48 1 10 1 -49 1 -23 1 109 1 -22 1 -51 1 8 1 -28 1 -48 1 72 1 -38 1 -27 1 33 1 51 1 13 1 -80 1 -34 1 -29 1 183 1 -86 1 -138 1 39 1 75 1 -116 1 176 1 46 1 -58 1 -86 1 78 1 26 1 -37 1 69 1 -52 1 31 1 -135 1 124 1 16 1 20 1 -113 1 -74 1 7 1 90 1 -1 1 -13 1 -39 1 -27 1 72 1 89 1 -24 1 57 1 -196 1 17 1 101 1 -92 1 18 1 53 1 102 1 -120 1 -80 1 101 1 -64 1 28 1 -151 1 134 1 31 1 17 1 -47 1 6 1 28 1 0 1 16 1 80 1 -119 1 -17 1 -3 1 -49 1 75 1 69 1 -22 1 -64 1 -7 1 66 1 -13 1 -66 1 56 1 42 1 -120 1 54 1 0 1 -29 1 -42 1 24 1 154 1 -7 1 -29 1 -62 1 88 1 -1 1 20 1 -143 1 -5 1 -31 1 195 1 -246 1 175 1 55 1 -97 1 -28 1 -54 1 62 1 122 1 12 1 -123 1 60 1 -46 1 -46 1 51 1 -98 1 44 1 153 1 -93 1 62 1 -123 1 104 1 0 1 6 1 -100 1 -79 1 59 1 39 1 -49 1 80 1 -44 1 80 1 -61 1 -73 1 -2 1 77" stroke="#00963c" stroke-width="8.8"/>
<path transform="scale(0.25)" d="M697 3959 701 3961 705 3962 709 3946 713 3980 717 3952 721 3973 725 3963 729 3959 733 3959 737 3953 741 3954 745 3952 749 3978 753 3955 757 3963 761 3967 765 3968 769 3957 773 3962 777 3896 781 3846 785 3821 789 3770 793 3738 797 3715 801 3681 805 3656 809 3635 813 3617 817 3608 821 3591 825 3573 829 3542 833 3543 837 3539 841 3520 845 3512 849 3508 853 3497 857 3499 861 3495 865 3501 869 3489 873 3494 877 3492 881 3480 885 3501 889 3493 893 3488 897 3484 901 3500 905 3494 909 3497 913 3497 917 3491 921 3497 925 3501 929 3517 933 3504 937 3508 941 3526 945 3526 949 3515 953 3523 957 3541 961 3521 965 3524 969 3526 973 3520 977 3520 981 3536 985 3533 989 3554 993 3543 997 3549 1001 3552 1005 3546 1009 3557 1013 3564 1017 3561 1021 3565 1025 3575 1029 3563 1033 3571 1037 3572 1041 3576 1045 3573 1049 3577 1053 3572 1057 3587 1061 3575 1065 3573 1069 3581 1073 3593 1077 3574 1081 3574 1085 3583 1089 3583 1093 3587 1097 3588 1101 3603 1105 3587 1109 3587 1113 3585 1117 3595 1121 3608 1125 3590 1129 3595 1133 3606 1137 3606 1141 3616 1145 3597 1149 3605 1153 3617 1157 3603 1161 3618 1165 3601 1169 3605 1173 3604 1177 3604 1181 3602 1185 3617 1189 3613 1193 3615 1197 3605 1201 3612 1205 3598 1209 3615 1213 3629 1217 3606 1221 3611 1225 3601 1229 3611 1233 3617 1237 3613 1241 3635 1245 3614 1249 3609 1253 3608 1257 3640 1261 3674 1265 3713 1269 3751 1273 3776 1277 3809 1281 3837 1285 3871 1289 3894 1293 3923 1297 3936 1301 3949 1305 3956 1309 3973 1313 3988 1317 4013 1321 3999 1325 4014 1329 4028 1333 4032 1337 4041 1341 4041 1345 4055 1349 4058 1353 4050 1357 4047 1361 4057 1365 4065 1369 4069 1373 4070 1377 4052 1381 4079 1385 4062 1389 4069 1393 4063 1397 4084 1401 4062 1405 4065 1409 4058 1413 4070 1417 4063 1421 4055 1425 4058 1429 4046 1433 4052 1437 4060 1441 4064 1445 4051 1449 4045 1453 4037 1457 4042 1461 4035 1465 4036 1469 4039 1473 4039 1477 4022 1481 4033 1485 4031 1489 4027 1493 4025 1497 4011 1501 4023 1505 4011 1509 4007 1513 4015 1517 4016 1521 4002 1525 3998 1529 4022 1533 4005 1537 4005 1541 3998 1545 4002 1549 4000 1553 4001 1557 3993 1561 3992 1565 3997 1569 3999 1573 3979 1577 3981 1581 3991 1585 3982 1589 3992 1593 3983 1597 3989 1601 3980 1605 3982 1609 3975 1613 3983 1617 3986 1621 3963 1625 3968 1629 3985 1633 3970 1637 3983 1641 3977 1645 3975 1649 3963 1653 3975 1657 3971 1661 3964 1665 3971 1669 3961 1673 3948 1677 3948 1681 3956 1685 3962 1689 3949 1693 3968 1697 3966 1701 3965 1705 3956 1709 3965 1713 3956 1717 3960 1721 3955 1725 3961 1729 3963 1733 3959 1737 3944 1741 3927 1745 3891 1749 3807 1753 3806 1757 3754 1761 3708 1765 3678 1769 3666 1773 3646 1777 3611 1781 3603 1785 3599 1789 3567 1793 3547 1797 3532 1801 3528 1805 3524 1809 3511 1813 3505 1817 3505 1821 3500 1825 3490 1829 3482 1833 3482 1837 3475 1841 3486 1845 3482 1849 3481 1853 3482 1857 3485 1861 3497 1865 3497 1869 3506 1873 3483 1877 3483 1881 3503 1885 3511 1889 3498 1893 3491 1897 3497 1901 3494 1905 3504 1909 3508 1913 3499 1917 3517 1921 3509 1925 3524 1929 3525 1933 3527 1937 3534 1941 3539 1945 3535 1949 3531 1953 3548 1957 3548 1961 3537 1965 3546 1969 3546 1973 3556 1977 3553 1981 3558 1985 3564 1989 3559 1993 3573 1997 3561 2001 3569 2005 3561 2009 3569 2013 3573 2017 3590 2021 3574 2025 3569 2029 3580 2033 3583 2037 3580 2041 3587 2045 3584 2049 3579 2053 3601 2057 3594 2061 3593 2065 3593 2069 3601 2073 3594 2077 3600 2081 3599 2085 3611 2089 3589 2093 3592 2097 3586 2101 3599 2105 3597 2109 3607 2113 3609 2117 3607 2121 3613 2125 3597 2129 3603 2133 3602 2137 3615 2141 3601 2145 3623 2149 3627 2153 3602 2157 3615 2161 3612 2165 3618 2169 3599 2173 3606 2177 3614 2181 3619 2185 3616 2189 3617 2193 3608 2197 3609 2201 3623 2205 3614 2209 3614 2213 3626 2217 3623 2221 3614 2225 3653 2229 3697 2233 3723 2237 3766 2241 3805 2245 3826 2249 3846 2253 3885 2257 3910 2261 3918 2265 3940 2269 3944 2273 3963 2277 3987 2281 4003 2285 4014 2289 4023 2293 4040 2297 4039 2301 4031 2305 4042 2309 4058 2313 4051 2317 4056 2321 4073 2325 4061 2329 4048 2333 4057 2337 4068 2341 4069 2345 4077 2349 4070 2353 4068 2357 4066 2361 4069 2365 4069 2369 4063 2373 4059 2377 4073 2381 4049 2385 4054 2389 4049 2393 4059 2397 4061 2401 4069 2405 4053 2409 4043 2413 4040 2417 4052 2421 4054 2425 4051 2429 4045 2433 4036 2437 4036 2441 4026 2445 4023 2449 4036 2453 4036 2457 4022 2461 4015 2465 4029 2469 4012 2473 4022 2477 4025 2481 4014 2485 4016 2489 4014 2493 4001 2497 4011 2501 4022 2505 3982 2509 4006 2513 4003 2517 4000 2521 3971 2525 3997 2529 3993 2533 3985 2537 3998 2541 3995 2545 3989 2549 3975 2553 3977 2557 3980 2561 3982 2565 3977 2569 3982 2573 3977 2577 3964 2581 3994 2585 3972 2589 3973 2593 3985 2597 3987 2601 3984 2605 3971 2609 3970 2613 3970 2617 3971 2621 3964 2625 3969 2629 3967 2633 3969 2637 3959 2641 3979 2645 3960 2649 3960 2653 3958 2657 3945 2661 3957 2665 3965 2669 3964 2673 3963 2677 3958 2681 3951 2685 3952 2685 4027 2681 3999 2677 4028 2673 4010 2669 4008 2665 4014 2661 4003 2657 4004 2653 4013 2649 4016 2645 4005 2641 4024 2637 4014 2633 4004 2629 4011 2625 4027 2621 4011 2617 4036 2613 4016 2609 4018 2605 4013 2601 4018 2597 4012 2593 4025 2589 4014 2585 4032 2581 4029 2577 4032 2573 4027 2569 4019 2565 4022 2561 4036 2557 4033 2553 4030 2549 4035 2545 4039 2541 4023 2537 4041 2533 4044 2529 4037 2525 4058 2521 4041 2517 4039 2513 4038 2509 4059 2505 4046 2501 4067 2497 4049 2493 4051 2489 4057 2485 4065 2481 4065 2477 4069 2473 4071 2469 4082 2465 4064 2461 4071 2457 4063 2453 4066 2449 4084 2445 4088 2441 4081 2437 4090 2433 4096 2429 4074 2425 4086 2421 4092 2417 4088 2413 4097 2409 4090 2405 4094 2401 4111 2397 4103 2393 4084 2389 4110 2385 4109 2381 4106 2377 4115 2373 4111 2369 4115 2365 4120 2361 4118 2357 4111 2353 4119 2349 4100 2345 4122 2341 4114 2337 4118 2333 4117 2329 4123 2325 4108 2321 4109 2317 4107 2313 4106 2309 4106 2305 4102 2301 4086 2297 4084 2293 4081 2289 4061 2285 4047 2281 4053 2277 4039 2273 4026 2269 4001 2265 3991 2261 3974 2257 3964 2253 3928 2249 3912 2245 3888 2241 3859 2237 3814 2233 3794 2229 3762 2225 3720 2221 3664 2217 3664 2213 3661 2209 3653 2205 3665 2201 3664 2197 3660 2193 3673 2189 3663 2185 3668 2181 3651 2177 3661 2173 3664 2169 3665 2165 3657 2161 3661 2157 3654 2153 3676 2149 3664 2145 3655 2141 3656 2137 3651 2133 3654 2129 3654 2125 3661 2121 3659 2117 3663 2113 3653 2109 3660 2105 3640 2101 3651 2097 3665 2093 3657 2089 3654 2085 3645 2081 3652 2077 3641 2073 3635 2069 3635 2065 3633 2061 3654 2057 3654 2053 3636 2049 3646 2045 3625 2041 3629 2037 3641 2033 3621 2029 3627 2025 3629 2021 3626 2017 3636 2013 3622 2009 3611 2005 3616 2001 3616 1997 3619 1993 3607 1989 3588 1985 3600 1981 3602 1977 3604 1973 3611 1969 3598 1965 3593 1961 3599 1957 3591 1953 3587 1949 3575 1945 3587 1941 3588 1937 3578 1933 3572 1929 3586 1925 3561 1921 3572 1917 3566 1913 3569 1909 3550 1905 3549 1901 3552 1897 3565 1893 3553 1889 3560 1885 3538 1881 3537 1877 3538 1873 3529 1869 3535 1865 3548 1861 3550 1857 3529 1853 3534 1849 3541 1845 3540 1841 3536 1837 3553 1833 3543 1829 3545 1825 3553 1821 3545 1817 3554 1813 3559 1809 3561 1805 3560 1801 3593 1797 3592 1793 3615 1789 3614 1785 3640 1781 3658 1777 3672 1773 3685 1769 3706 1765 3754 1761 3761 1757 3801 1753 3843 1749 3879 1745 3923 1741 3962 1737 4013 1733 3997 1729 4011 1725 3999 1721 4016 1717 4012 1713 4009 1709 4014 1705 4015 1701 4004 1697 4012 1693 4008 1689 4019 1685 3996 1681 4002 1677 4017 1673 4009 1669 4026 1665 4023 1661 4024 1657 4029 1653 4021 1649 4016 1645 4018 1641 4025 1637 4017 1633 4013 1629 4021 1625 4023 1621 4024 1617 4016 1613 4034 1609 4018 1605 4050 1601 4023 1597 4030 1593 4026 1589 4040 1585 4029 1581 4044 1577 4035 1573 4035 1569 4033 1565 4045 1561 4050 1557 4052 1553 4037 1549 4048 1545 4038 1541 4050 1537 4049 1533 4050 1529 4037 1525 4066 1521 4051 1517 4055 1513 4067 1509 4074 1505 4079 1501 4067 1497 4073 1493 4079 1489 4058 1485 4068 1481 4095 1477 4089 1473 4078 1469 4084 1465 4074 1461 4087 1457 4092 1453 4098 1449 4092 1445 4104 1441 4101 1437 4108 1433 4099 1429 4117 1425 4106 1421 4104 1417 4132 1413 4116 1409 4101 1405 4112 1401 4117 1397 4123 1393 4123 1389 4128 1385 4116 1381 4126 1377 4109 1373 4121 1369 4127 1365 4122 1361 4109 1357 4091 1353 4116 1349 4116 1345 4110 1341 4092 1337 4091 1333 4075 1329 4074 1325 4075 1321 4059 1317 4049 1313 4036 1309 4017 1305 4015 1301 3982 1297 3974 1293 3968 1289 3934 1285 3925 1281 3889 1277 3846 1273 3832 1269 3804 1265 3767 1261 3706 1257 3696 1253 3661 1249 3660 1245 3667 1241 3676 1237 3667 1233 3651 1229 3659 1225 3672 1221 3663 1217 3673 1213 3659 1209 3651 1205 3666 1201 3664 1197 3673 1193 3662 1189 3660 1185 3660 1181 3647 1177 3651 1173 3656 1169 3663 1165 3647 1161 3651 1157 3642 1153 3657 1149 3657 1145 3656 1141 3653 1137 3663 1133 3640 1129 3631 1125 3657 1121 3642 1117 3626 1113 3643 1109 3640 1105 3650 1101 3636 1097 3642 1093 3640 1089 3642 1085 3632 1081 3626 1077 3632 1073 3626 1069 3634 1065 3644 1061 3631 1057 3643 1053 3636 1049 3616 1045 3608 1041 3605 1037 3628 1033 3619 1029 3619 1025 3613 1021 3612 1017 3619 1013 3617 1009 3607 1005 3599 1001 3592 997 3587 993 3597 989 3574 985 3587 981 3594 977 3581 973 3570 969 3591 965 3569 961 3584 957 3566 953 3551 949 3567 945 3560 941 3573 937 3560 933 3540 929 3561 925 3544 921 3540 917 3544 913 3541 909 3526 905 3525 901 3531 897 3539 893 3542 889 3534 885 3540 881 3546 877 3529 873 3526 869 3536 865 3538 861 3534 857 3546 853 3557 849 3555 845 3566 841 3569 837 3582 833 3586 829 3610 825 3621 821 3629 817 3630 813 3666 809 3666 805 3692 801 3722 797 3745 793 3787 789 3812 785 3869 781 3914 777 3949 773 4000 769 3995 765 4005 761 4010 757 4004 753 4015 749 4006 745 4012 741 4012 737 4012 733 3993 729 4022 725 4003 721 4001 717 4006 713 4004 709 4014 705 4004 701 4009 697 4015Z" fill="#000000" stroke="none"/>
<path transform="scale(0.25)" d="M697 4044l1 -139 1 24 1 52 1 59 1 -94 1 18 1 15 1 -17 1 -35 1 81 1 -49 1 100 1 -114 1 28 1 -28 1 72 1 -3 1 5 1 29 1 -78 1 5 1 23 1 -58 1 -10 1 10 1 80 1 -29 1 46 1 -84 1 2 1 100 1 -115 1 15 1 68 1 36 1 -44 1 -38 1 63 1 -110 1 53 1 67 1 -67 1 -65 1 72 1 -49 1 81 1 -6 1 -102 1 25 1 38 1 45 1 -92 1 94 1 26 1 -125 1 123 1 -75 1 -3 1 -35 1 55 1 -76 1 109 1 -57 1 37 1 53 1 -144 1 57 1 16 1 45 1 21 1 -28 1 -8 1 -60 1 -2 1 53 1 -37 1 -4 1 -13 1 32 1 32 1 -68 1 -2 1 42 1 -110 1 -26 1 -19 1 -26 1 -1 1 21 1 59 1 -118 1 95 1 -4 1 -130 1 55 1 -15 1 -76 1 135 1 -143 1 0 1 90 1 2 1 -9 1 -69 1 77 1 -98 1 -10 1 -18 1 62 1 -85 1 59 1 35 1 -55 1 -26 1 -81 1 72 1 5 1 45 1 -88 1 -12 1 38 1 -16 1 31 1 6 1 -31 1 -92 1 99 1 -13 1 24 1 -4 1 -107 1 77 1 4 1 -42 1 -9 1 68 1 -66 1 -45 1 97 1 -10 1 -92 1 8 1 83 1 -45 1 46 1 -90 1 -1 1 56 1 -59 1 -4 1 99 1 -82 1 52 1 -78 1 -12 1 63 1 3 1 -63 1 54 1 32 1 -65 1 -19 1 89 1 -79 1 26 1 51 1 -99 1 51 1 22 1 -49 1 2 1 6 1 -56 1 139 1 -116 1 119 1 -60 1 1 1 57 1 0 1 -125 1 35 1 48 1 24 1 -37 1 -31 1 -62 1 161 1 -20 1 -16 1 9 1 17 1 -121 1 52 1 -56 1 119 1 -82 1 71 1 -57 1 -61 1 111 1 -76 1 94 1 -121 1 -2 1 52 1 41 1 -83 1 18 1 60 1 22 1 32 1 -69 1 -23 1 94 1 -127 1 -19 1 -16 1 50 1 -26 1 44 1 14 1 11 1 8 1 -59 1 77 1 -45 1 31 1 21 1 -19 1 27 1 -11 1 7 1 -21 1 -20 1 56 1 -82 1 -24 1 100 1 -58 1 -7 1 -23 1 -11 1 87 1 22 1 -86 1 -14 1 21 1 -47 1 18 1 18 1 33 1 -54 1 116 1 -92 1 69 1 -13 1 8 1 57 1 -11 1 6 1 13 1 -60 1 63 1 -67 1 -17 1 8 1 37 1 26 1 -68 1 -22 1 60 1 -73 1 40 1 -49 1 151 1 -88 1 42 1 50 1 -180 1 41 1 74 1 -13 1 -2 1 3 1 -41 1 10 1 30 1 8 1 -76 1 52 1 7 1 57 1 -72 1 -36 1 130 1 -74 1 -81 1 55 1 14 1 -11 1 -34 1 11 1 117 1 -104 1 40 1 -43 1 52 1 -59 1 16 1 1 1 22 1 4 1 3 1 27 1 -115 1 110 1 -29 1 -37 1 50 1 37 1 -65 1 39 1 -68 1 71 1 -1 1 49 1 -70 1 -43 1 46 1 28 1 20 1 7 1 -110 1 67 1 39 1 -34 1 35 1 16 1 -114 1 79 1 -97 1 32 1 48 1 -25 1 13 1 -21 1 -47 1 139 1 -56 1 -31 1 63 1 -68 1 -31 1 25 1 53 1 -52 1 49 1 -58 1 78 1 28 1 -68 1 -79 1 159 1 -39 1 -77 1 26 1 -10 1 11 1 -13 1 63 1 50 1 -76 1 7 1 -13 1 31 1 -57 1 58 1 -47 1 79 1 -15 1 -42 1 50 1 -19 1 3 1 -70 1 65 1 -84 1 87 1 16 1 -79 1 -14 1 0 1 102 1 -33 1 -6 1 -31 1 4 1 87 1 -22 1 -39 1 46 1 5 1 -113 1 10 1 109 1 -13 1 6 1 10 1 -125 1 127 1 -84 1 104 1 -115 1 -6 1 98 1 -34 1 -85 1 11 1 124 1 -114 1 44 1 -14 1 -41 1 72 1 16 1 -58 1 64 1 -72 1 100 1 -16 1 12 1 -94 1 -5 1 23 1 8 1 68 1 -21 1 -57 1 -35 1 100 1 -86 1 26 1 -30 1 -45 1 99 1 -17 1 17 1 -23 1 46 1 -36 1 -62 1 70 1 56 1 -85 1 -33 1 86 1 27 1 -135 1 135 1 -72 1 35 1 -32 1 6 1 -21 1 -9 1 11 1 41 1 -83 1 -18 1 29 1 2 1 -5 1 122 1 -99 1 56 1 22 1 -94 1 102 1 -45 1 -64 1 -6 1 47 1 -8 1 77 1 -106 1 17 1 24 1 -3 1 36 1 27 1 -5 1 -40 1 -19 1 -33 1 30 1 8 1 95 1 -125 1 28 1 67 1 -113 1 9 1 8 1 53 1 26 1 -25 1 -10 1 -9 1 69 1 -134 1 121 1 -5 1 -84 1 76 1 -101 1 54 1 -5 1 -7 1 -4 1 11 1 55 1 -3 1 -20 1 47 1 1 1 -53 1 -40 1 -5 1 56 1 -105 1 77 1 -3 1 -20 1 32 1 -10 1 -60 1 78 1 32 1 -21 1 -73 1 26 1 73 1 -97 1 0 1 85 1 -83 1 -9 1 43 1 -36 1 103 1 -71 1 57 1 -59 1 -26 1 69 1 -49 1 -9 1 33 1 9 1 -14 1 26 1 109 1 -113 1 137 1 8 1 -115 1 116 1 -150 1 70 1 76 1 -20 1 -21 1 119 1 -108 1 73 1 36 1 -52 1 76 1 -26 1 -72 1 63 1 10 1 -67 1 47 1 91 1 -8 1 -92 1 8 1 103 1 -76 1 94 1 -16 1 -99 1 76 1 24 1 76 1 -21 1 -13 1 3 1 -71 1 -20 1 19 1 39 1 -2 1 42 1 -57 1 -14 1 63 1 -77 1 27 1 92 1 2 1 -25 1 71 1 -13 1 -17 1 -57 1 53 1 -10 1 -59 1 49 1 76 1 -60 1 26 1 33 1 21 1 -52 1 -60 1 76 1 14 1 -22 1 0 1 -114 1 109 1 -49 1 91 1 -111 1 132 1 -92 1 87 1 -11 1 -16 1 -69 1 26 1 68 1 -37 1 -20 1 -15 1 117 1 -179 1 117 1 9 1 2 1 -4 1 22 1 -52 1 -6 1 37 1 24 1 -7 1 -10 1 22 1 -48 1 -86 1 56 1 -9 1 94 1 -54 1 -31 1 -29 1 18 1 29 1 -55 1 83 1 -53 1 66 1 -55 1 -27 1 -5 1 0 1 102 1 -6 1 -52 1 61 1 -77 1 15 1 23 1 8 1 25 1 -102 1 41 1 45 1 -68 1 -11 1 108 1 -57 1 -17 1 28 1 13 1 18 1 -41 1 15 1 2 1 41 1 -142 1 53 1 58 1 -81 1 105 1 -61 1 12 1 -9 1 -32 1 12 1 22 1 37 1 -44 1 -73 1 49 1 0 1 -8 1 -62 1 120 1 -97 1 89 1 -2 1 43 1 -63 1 -19 1 65 1 -25 1 -142 1 63 1 102 1 -121 1 -1 1 145 1 -10 1 -105 1 -11 1 17 1 14 1 -28 1 4 1 83 1 -14 1 -17 1 -17 1 -37 1 -10 1 80 1 38 1 -123 1 131 1 -112 1 42 1 -88 1 1 1 115 1 -29 1 19 1 -6 1 13 1 -47 1 -43 1 29 1 -29 1 28 1 -14 1 20 1 111 1 -128 1 13 1 -5 1 41 1 -97 1 44 1 1 1 -16 1 21 1 96 1 -85 1 37 1 -88 1 92 1 -27 1 21 1 -65 1 18 1 3 1 81 1 4 1 -70 1 20 1 -76 1 21 1 50 1 -71 1 63 1 -97 1 111 1 -101 1 87 1 -12 1 70 1 -68 1 47 1 -106 1 89 1 36 1 -132 1 67 1 50 1 -20 1 5 1 -53 1 3 1 54 1 -14 1 -28 1 -19 1 -8 1 -12 1 38 1 45 1 4 1 27 1 -28 1 -69 1 10 1 -24 1 45 1 -2 1 -34 1 36 1 -26 1 49 1 -107 1 37 1 20 1 8 1 -54 1 -3 1 60 1 -45 1 91 1 -18 1 -52 1 40 1 -70 1 112 1 -35 1 -41 1 26 1 12 1 -14 1 -45 1 51 1 -3 1 -60 1 60 1 -12 1 37 1 -105 1 95 1 -64 1 73 1 -104 1 -15 1 117 1 -77 1 44 1 -11 1 -67 1 24 1 -37 1 79 1 66 1 -130 1 -9 1 2 1 73 1 42 1 -15 1 -12 1 18 1 -141 1 154 1 -14 1 -121 1 -3 1 104 1 -7 1 11 1 -10 1 -48 1 83 1 -35 1 -73 1 47 1 66 1 -106 1 59 1 8 1 -38 1 13 1 -53 1 30 1 -1 1 71 1 -17 1 -15 1 -41 1 9 1 -73 1 66 1 55 1 -89 1 54 1 36 1 -76 1 81 1 -119 1 65 1 76 1 -74 1 54 1 37 1 -18 1 12 1 -53 1 -56 1 102 1 -49 1 -12 1 -91 1 87 1 -75 1 106 1 -60 1 28 1 -19 1 6 1 -29 1 -31 1 44 1 25 1 0 1 16 1 -26 1 -45 1 65 1 -7 1 36 1 -82 1 -23 1 86 1 9 1 -53 1 63 1 -97 1 85 1 14 1 -57 1 -38 1 101 1 -110 1 16 1 94 1 -53 1 -8 1 -13 1 -2 1 -21 1 -3 1 80 1 14 1 -74 1 -20 1 -4 1 24 1 1 1 -5 1 -18 1 -30 1 57 1 -17 1 47 1 -47 1 65 1 -33 1 -84 1 85 1 -31 1 71 1 46 1 -116 1 -26 1 76 1 -34 1 22 1 -102 1 87 1 16 1 -86 1 69 1 18 1 -3 1 -59 1 62 1 -24 1 74 1 -99 1 53 1 27 1 -87 1 51 1 -27 1 45 1 42 1 -105 1 86 1 -78 1 14 1 43 1 -104 1 110 1 -35 1 28 1 -82 1 73 1 -43 1 39 1 -2 1 -85 1 100 1 -57 1 75 1 -20 1 -79 1 -12 1 89 1 -57 1 0 1 -121 1 83 1 50 1 -65 1 -24 1 -47 1 48 1 -48 1 -26 1 74 1 -56 1 5 1 7 1 -60 1 14 1 14 1 -23 1 16 1 4 1 -71 1 -35 1 0 1 38 1 -9 1 13 1 -15 1 -9 1 -88 1 39 1 8 1 -7 1 54 1 -26 1 -99 1 64 1 4 1 51 1 0 1 -11 1 -33 1 -68 1 41 1 -30 1 -56 1 77 1 -46 1 10 1 27 1 -2 1 -53 1 -8 1 -42 1 40 1 45 1 -23 1 -23 1 -17 1 -26 1 -26 1 91 1 -78 1 96 1 -30 1 22 1 52 1 -31 1 -72 1 -25 1 41 1 -8 1 -34 1 -48 1 37 1 85 1 -110 1 34 1 78 1 -30 1 34 1 -41 1 12 1 -73 1 -26 1 39 1 123 1 -49 1 -37 1 13 1 46 1 -123 1 8 1 7 1 -28 1 78 1 -6 1 -41 1 -13 1 12 1 75 1 -13 1 -54 1 -2 1 5 1 83 1 -28 1 -103 1 42 1 52 1 26 1 -27 1 -34 1 11 1 76 1 -87 1 10 1 19 1 -14 1 47 1 -94 1 23 1 64 1 15 1 -32 1 -60 1 -20 1 34 1 -31 1 38 1 84 1 -87 1 66 1 -18 1 -81 1 81 1 5 1 20 1 -79 1 -59 1 158 1 -119 1 -6 1 40 1 -45 1 -29 1 148 1 -102 1 68 1 -85 1 29 1 -6 1 97 1 24 1 -128 1 -8 1 73 1 -74 1 -20 1 31 1 1 1 -12 1 40 1 35 1 7 1 -93 1 106 1 -98 1 44 1 96 1 -53 1 52 1 -1 1 -114 1 -43 1 100 1 -77 1 116 1 -60 1 86 1 -135 1 105 1 -57 1 -42 1 72 1 -55 1 38 1 -34 1 59 1 -67 1 55 1 -45 1 37 1 -3 1 -35 1 12 1 10 1 82 1 -47 1 27 1 -88 1 67 1 -14 1 35 1 39 1 -127 1 102 1 2 1 -53 1 -38 1 13 1 32 1 55 1 -36 1 -29 1 -21 1 93 1 -85 1 45 1 14 1 35 1 -59 1 63 1 -74 1 -20 1 -24 1 54 1 20 1 -43 1 -61 1 79 1 -57 1 92 1 -35 1 -8 1 90 1 -126 1 64 1 -13 1 62 1 -114 1 77 1 0 1 -80 1 26 1 -6 1 65 1 -2 1 51 1 -50 1 29 1 -86 1 25 1 3 1 94 1 -27 1 -5 1 21 1 -17 1 -89 1 6 1 10 1 41 1 -49 1 30 1 -14 1 -6 1 90 1 -135 1 49 1 20 1 -78 1 55 1 9 1 -46 1 85 1 1 1 25 1 -69 1 91 1 -130 1 100 1 21 1 -91 1 -5 1 16 1 -21 1 47 1 17 1 -18 1 16 1 -35 1 -19 1 104 1 -19 1 -1 1 28 1 -48 1 -84 1 35 1 32 1 -50 1 140 1 -71 1 -50 1 64 1 0 1 45 1 -81 1 -46 1 71 1 -67 1 113 1 -118 1 8 1 41 1 -6 1 6 1 -81 1 100 1 -18 1 -7 1 -29 1 112 1 -138 1 53 1 -53 1 70 1 46 1 -135 1 13 1 32 1 41 1 16 1 -44 1 50 1 -75 1 123 1 -119 1 57 1 -57 1 -5 1 67 1 43 1 -131 1 158 1 -102 1 -22 1 -5 1 73 1 48 1 -12 1 -19 1 -88 1 110 1 -103 1 60 1 -48 1 92 1 -45 1 -63 1 41 1 21 1 -65 1 -1 1 95 1 35 1 -106 1 -11 1 -6 1 9 1 48 1 33 1 -90 1 77 1 -25 1 -40 1 67 1 -1 1 18 1 -62 1 -11 1 -50 1 103 1 -93 1 67 1 43 1 -25 1 -11 1 33 1 23 1 -15 1 -29 1 43 1 -68 1 60 1 18 1 -59 1 -2 1 60 1 -82 1 4 1 -62 1 98 1 18 1 -31 1 -20 1 -3 1 -13 1 11 1 40 1 8 1 -41 1 -52 1 -52 1 131 1 8 1 -102 1 80 1 57 1 -108 1 6 1 17 1 12 1 -55 1 123 1 -16 1 -68 1 35 1 115 1 -70 1 -93 1 11 1 25 1 37 1 -25 1 -13 1 50 1 -22 1 20 1 -11 1 14 1 -29 1 -37 1 9 1 17 1 55 1 -35 1 -87 1 71 1 -47 1 30 1 46 1 -88 1 61 1 -14 1 -38 1 86 1 -52 1 5 1 73 1 -18 1 -72 1 60 1 -72 1 48 1 -15 1 -72 1 106 1 -98 1 -4 1 94 1 -44 1 30 1 -65 1 73 1 -79 1 64 1 -14 1 -21 1 29 1 -39 1 59 1 56 1 -51 1 -25 1 36 1 37 1 -15 1 -7 1 55 1 9 1 4 1 -41 1 116 1 -29 1 -72 1 73 1 21 1 -6 1 4 1 98 1 -15 1 -136 1 107 1 32 1 8 1 -109 1 31 1 117 1 -129 1 8 1 42 1 -32 1 169 1 -173 1 23 1 63 1 97 1 -90 1 58 1 23 1 -24 1 22 1 -74 1 20 1 46 1 -50 1 98 1 -80 1 -23 1 84 1 -93 1 -17 1 13 1 87 1 -7 1 -74 1 33 1 59 1 42 1 -96 1 44 1 -37 1 106 1 -45 1 -51 1 26 1 28 1 6 1 -26 1 50 1 -70 1 6 1 -15 1 -36 1 54 1 98 1 -61 1 38 1 -104 1 54 1 -7 1 -71 1 109 1 -26 1 -30 1 59 1 -21 1 15 1 -28 1 48 1 32 1 -35 1 -31 1 27 1 50 1 0 1 -85 1 36 1 55 1 -107 1 92 1 -59 1 -22 1 121 1 -38 1 -96 1 103 1 -75 1 -32 1 94 1 -66 1 -19 1 101 1 -12 1 -59 1 -15 1 -21 1 33 1 60 1 -67 1 49 1 -40 1 36 1 0 1 -18 1 24 1 -21 1 76 1 -75 1 -23 1 110 1 -101 1 104 1 -62 1 18 1 26 1 2 1 -20 1 -89 1 19 1 57 1 -62 1 -31 1 63 1 -86 1 98 1 5 1 -37 1 4 1 39 1 -8 1 -18 1 -57 1 -31 1 50 1 74 1 -26 1 22 1 -6 1 -10 1 -36 1 22 1 14 1 -48 1 -31 1 78 1 23 1 19 1 -100 1 1 1 84 1 -17 1 -42 1 -24 1 -18 1 -19 1 -7 1 121 1 -85 1 70 1 -152 1 108 1 3 1 17 1 9 1 -47 1 34 1 -107 1 109 1 -78 1 22 1 -36 1 46 1 15 1 -44 1 59 1 -47 1 103 1 -84 1 43 1 -64 1 -7 1 106 1 -11 1 -110 1 113 1 -63 1 -33 1 -8 1 31 1 61 1 -69 1 -31 1 79 1 -88 1 74 1 -35 1 -56 1 -5 1 114 1 -40 1 44 1 -100 1 -1 1 23 1 108 1 -103 1 40 1 -49 1 100 1 -93 1 24 1 17 1 -30 1 21 1 49 1 -70 1 54 1 -70 1 48 1 -11 1 17 1 43 1 -41 1 -57 1 -22 1 -3 1 106 1 -80 1 -14 1 132 1 -92 1 26 1 -59 1 73 1 -23 1 56 1 -111 1 30 1 -57 1 85 1 12 1 6 1 -19 1 15 1 -74 1 6 1 5 1 20 1 40 1 -27 1 35 1 -97 1 61 1 -50 1 67 1 37 1 -42 1 -22 1 53 1 -135 1 19 1 59 1 55 1 -77 1 17 1 -15 1 35 1 59 1 -75 1 57 1 -12 1 -103 1 -11 1 10 1 -9 1 69 1 -61 1 87 1 -124 1 56 1 29 1 -79 1 109 1 -24 1 -27 1 50 1 34 1 -103 1 -19 1 -24 1 103 1 -34 1 80 1 -124 1 83 1 -118 1 69 1 52 1 -10 1 26 1 -57 1 63 1 -23 1 -102 1 41 1 19 1 11 1 -40 1 8 1 65 1 -106 1 45 1 18 1 42 1 -96 1 79 1 20 1 -97 1 46 1 -44 1 105 1 -29 1 -77 1 -14 1 105 1 -54 1 -58 1 16 1 118 1 -23 1 9 1 -35 1 0 1 70 1 -79 1 3 1 3 1 -23 1 -62 1 17 1 -14 1 87 1 -59 1 -26 1 -21 1 109 1 -8 1 15 1 -30 1 -31 1 -40 1 94 1 20 1 -58 1 -30 1 73 1 -12 1 -8 1 -8 1 -30 1 70 1 -62 1 65 1 -91 1 48 1 -42 1 -12 1 104 1 -81 1 96 1 -59 1 -13 1 -2 1 27 1 -49 1 58 1 -7 1 8 1 -73 1 41 1 -43 1 -25 1 -20 1 113 1 -71 1 24 1 -20 1 125 1 -126 1 1 1 29 1 -50 1 132 1 -104 1 16 1 38 1 -23 1 26 1 -41 1 40 1 64 1 -51 1 -11 1 -36 1 97 1 -86 1 44 1 -4 1 -125 1 136 1 -138 1 122 1 -98 1 12 1 35 1 -59 1 0 1 144 1 -88 1 58 1 -8 1 -70 1 70 1 -43 1 44 1 35 1 -107 1 32 1 43 1 -92 1 -8 1 111 1 16 1 -107 1 -8 1 1 1 77 1 -70 1 25 1 -30 1 5 1 -18 1 88 1 -74" stroke="#000000" stroke-width="6.0"/>
<path transform="scale(0.25)" d="M697 4687 701 4694 705 4690 709 4685 713 4678 717 4675 721 4694 725 4694 729 4663 733 4687 737 4672 741 4676 745 4694 749 4692 753 4688 757 4674 761 4685 765 4690 769 4698 773 4680 777 4635 781 4616 785 4583 789 4554 793 4524 797 4493 801 4485 805 4466 809 4427 813 4421 817 4419 821 4405 825 4364 829 4363 833 4351 837 4337 841 4323 845 4302 849 4299 853 4294 857 4298 861 4292 865 4285 869 4274 873 4266 877 4278 881 4263 885 4256 889 4261 893 4260 897 4253 901 4244 905 4248 909 4251 913 4261 917 4271 921 4245 925 4250 929 4254 933 4250 937 4259 941 4259 945 4257 949 4245 953 4247 957 4247 961 4250 965 4252 969 4262 973 4258 977 4250 981 4276 985 4247 989 4275 993 4268 997 4271 1001 4255 1005 4273 1009 4264 1013 4275 1017 4262 1021 4275 1025 4275 1029 4266 1033 4284 1037 4286 1041 4252 1045 4298 1049 4265 1053 4266 1057 4292 1061 4288 1065 4284 1069 4276 1073 4267 1077 4291 1081 4267 1085 4301 1089 4297 1093 4295 1097 4284 1101 4303 1105 4308 1109 4291 1113 4302 1117 4312 1121 4285 1125 4295 1129 4305 1133 4300 1137 4310 1141 4324 1145 4331 1149 4323 1153 4314 1157 4312 1161 4304 1165 4304 1169 4304 1173 4296 1177 4306 1181 4306 1185 4298 1189 4316 1193 4313 1197 4324 1201 4320 1205 4310 1209 4329 1213 4302 1217 4309 1221 4318 1225 4316 1229 4305 1233 4331 1237 4313 1241 4325 1245 4326 1249 4318 1253 4308 1257 4355 1261 4367 1265 4409 1269 4417 1273 4448 1277 4483 1281 4500 1285 4514 1289 4538 1293 4562 1297 4574 1301 4589 1305 4598 1309 4615 1313 4623 1317 4646 1321 4652 1325 4670 1329 4671 1333 4682 1337 4706 1341 4695 1345 4701 1349 4715 1353 4711 1357 4720 1361 4733 1365 4736 1369 4718 1373 4740 1377 4747 1381 4743 1385 4739 1389 4753 1393 4739 1397 4750 1401 4762 1405 4750 1409 4762 1413 4747 1417 4744 1421 4752 1425 4757 1429 4729 1433 4747 1437 4754 1441 4751 1445 4745 1449 4755 1453 4738 1457 4749 1461 4757 1465 4731 1469 4746 1473 4738 1477 4743 1481 4733 1485 4730 1489 4750 1493 4739 1497 4733 1501 4728 1505 4727 1509 4718 1513 4726 1517 4713 1521 4716 1525 4713 1529 4732 1533 4718 1537 4710 1541 4715 1545 4712 1549 4718 1553 4700 1557 4720 1561 4722 1565 4714 1569 4719 1573 4712 1577 4696 1581 4704 1585 4707 1589 4697 1593 4704 1597 4698 1601 4714 1605 4700 1609 4705 1613 4698 1617 4684 1621 4690 1625 4683 1629 4693 1633 4687 1637 4697 1641 4691 1645 4687 1649 4690 1653 4693 1657 4697 1661 4698 1665 4706 1669 4681 1673 4686 1677 4683 1681 4680 1685 4680 1689 4667 1693 4664 1697 4677 1701 4681 1705 4676 1709 4686 1713 4667 1717 4676 1721 4694 1725 4678 1729 4671 1733 4684 1737 4670 1741 4661 1745 4623 1749 4591 1753 4542 1757 4541 1761 4499 1765 4487 1769 4469 1773 4451 1777 4423 1781 4409 1785 4400 1789 4379 1793 4368 1797 4349 1801 4337 1805 4328 1809 4321 1813 4318 1817 4304 1821 4290 1825 4284 1829 4282 1833 4268 1837 4271 1841 4265 1845 4261 1849 4281 1853 4270 1857 4275 1861 4242 1865 4248 1869 4246 1873 4251 1877 4249 1881 4252 1885 4250 1889 4250 1893 4250 1897 4257 1901 4240 1905 4257 1909 4244 1913 4260 1917 4257 1921 4261 1925 4264 1929 4257 1933 4260 1937 4272 1941 4252 1945 4269 1949 4266 1953 4249 1957 4247 1961 4249 1965 4273 1969 4252 1973 4266 1977 4261 1981 4268 1985 4270 1989 4264 1993 4269 1997 4283 2001 4271 2005 4283 2009 4266 2013 4275 2017 4295 2021 4287 2025 4289 2029 4287 2033 4290 2037 4281 2041 4280 2045 4299 2049 4301 2053 4290 2057 4304 2061 4294 2065 4295 2069 4297 2073 4296 2077 4293 2081 4304 2085 4296 2089 4304 2093 4309 2097 4315 2101 4299 2105 4308 2109 4287 2113 4303 2117 4315 2121 4308 2125 4328 2129 4304 2133 4317 2137 4310 2141 4312 2145 4315 2149 4317 2153 4320 2157 4315 2161 4294 2165 4317 2169 4303 2173 4316 2177 4309 2181 4318 2185 4319 2189 4308 2193 4315 2197 4315 2201 4295 2205 4333 2209 4337 2213 4318 2217 4333 2221 4333 2225 4358 2229 4387 2233 4422 2237 4452 2241 4450 2245 4485 2249 4516 2253 4532 2257 4555 2261 4563 2265 4593 2269 4602 2273 4611 2277 4629 2281 4638 2285 4654 2289 4655 2293 4659 2297 4683 2301 4689 2305 4711 2309 4718 2313 4707 2317 4725 2321 4728 2325 4720 2329 4725 2333 4725 2337 4739 2341 4744 2345 4748 2349 4740 2353 4735 2357 4751 2361 4743 2365 4746 2369 4758 2373 4744 2377 4755 2381 4747 2385 4749 2389 4754 2393 4752 2397 4755 2401 4751 2405 4743 2409 4767 2413 4736 2417 4745 2421 4747 2425 4741 2429 4733 2433 4737 2437 4745 2441 4734 2445 4741 2449 4729 2453 4735 2457 4745 2461 4725 2465 4726 2469 4732 2473 4723 2477 4717 2481 4706 2485 4740 2489 4722 2493 4719 2497 4714 2501 4732 2505 4720 2509 4711 2513 4725 2517 4720 2521 4714 2525 4723 2529 4693 2533 4710 2537 4692 2541 4724 2545 4720 2549 4723 2553 4709 2557 4716 2561 4690 2565 4698 2569 4694 2573 4707 2577 4688 2581 4702 2585 4698 2589 4701 2593 4688 2597 4711 2601 4686 2605 4683 2609 4692 2613 4695 2617 4687 2621 4696 2625 4698 2629 4684 2633 4699 2637 4685 2641 4682 2645 4674 2649 4683 2653 4686 2657 4683 2661 4681 2665 4675 2669 4683 2673 4692 2677 4683 2681 4680 2685 4688 2685 4796 2681 4794 2677 4785 2673 4809 2669 4795 2665 4793 2661 4795 2657 4802 2653 4803 2649 4788 2645 4798 2641 4802 2637 4807 2633 4807 2629 4792 2625 4789 2621 4777 2617 4800 2613 4804 2609 4805 2605 4809 2601 4810 2597 4805 2593 4813 2589 4799 2585 4805 2581 4804 2577 4801 2573 4810 2569 4811 2565 4812 2561 4809 2557 4804 2553 4830 2549 4816 2545 4805 2541 4813 2537 4825 2533 4814 2529 4826 2525 4817 2521 4838 2517 4838 2513 4821 2509 4833 2505 4832 2501 4830 2497 4837 2493 4839 2489 4819 2485 4838 2481 4860 2477 4829 2473 4846 2469 4849 2465 4849 2461 4845 2457 4848 2453 4831 2449 4853 2445 4839 2441 4858 2437 4845 2433 4847 2429 4854 2425 4857 2421 4847 2417 4862 2413 4856 2409 4864 2405 4873 2401 4871 2397 4867 2393 4856 2389 4865 2385 4870 2381 4854 2377 4853 2373 4859 2369 4859 2365 4859 2361 4861 2357 4872 2353 4860 2349 4860 2345 4862 2341 4837 2337 4852 2333 4859 2329 4837 2325 4852 2321 4839 2317 4832 2313 4819 2309 4807 2305 4806 2301 4797 2297 4784 2293 4789 2289 4771 2285 4750 2281 4752 2277 4740 2273 4713 2269 4722 2265 4700 2261 4679 2257 4660 2253 4660 2249 4635 2245 4605 2241 4584 2237 4559 2233 4528 2229 4502 2225 4468 2221 4434 2217 4427 2213 4438 2209 4430 2205 4445 2201 4437 2197 4425 2193 4419 2189 4413 2185 4442 2181 4433 2177 4431 2173 4427 2169 4430 2165 4431 2161 4419 2157 4433 2153 4428 2149 4440 2145 4421 2141 4417 2137 4412 2133 4413 2129 4420 2125 4416 2121 4418 2117 4406 2113 4432 2109 4424 2105 4423 2101 4409 2097 4423 2093 4418 2089 4422 2085 4406 2081 4425 2077 4416 2073 4425 2069 4404 2065 4424 2061 4408 2057 4411 2053 4414 2049 4397 2045 4406 2041 4416 2037 4407 2033 4400 2029 4398 2025 4399 2021 4381 2017 4388 2013 4394 2009 4388 2005 4393 2001 4400 1997 4374 1993 4393 1989 4376 1985 4403 1981 4376 1977 4380 1973 4375 1969 4378 1965 4392 1961 4364 1957 4371 1953 4392 1949 4375 1945 4364 1941 4362 1937 4378 1933 4364 1929 4364 1925 4370 1921 4366 1917 4353 1913 4355 1909 4363 1905 4364 1901 4367 1897 4357 1893 4363 1889 4363 1885 4369 1881 4360 1877 4359 1873 4358 1869 4368 1865 4361 1861 4372 1857 4384 1853 4370 1849 4367 1845 4375 1841 4391 1837 4398 1833 4396 1829 4404 1825 4398 1821 4403 1817 4405 1813 4429 1809 4437 1805 4442 1801 4453 1797 4466 1793 4481 1789 4488 1785 4502 1781 4522 1777 4537 1773 4552 1769 4578 1765 4593 1761 4619 1757 4654 1753 4679 1749 4702 1745 4746 1741 4774 1737 4794 1733 4802 1729 4783 1725 4800 1721 4799 1717 4803 1713 4792 1709 4775 1705 4806 1701 4788 1697 4790 1693 4791 1689 4787 1685 4797 1681 4803 1677 4809 1673 4808 1669 4795 1665 4798 1661 4799 1657 4814 1653 4803 1649 4810 1645 4802 1641 4802 1637 4813 1633 4793 1629 4798 1625 4812 1621 4794 1617 4819 1613 4806 1609 4816 1605 4820 1601 4811 1597 4822 1593 4825 1589 4814 1585 4828 1581 4814 1577 4811 1573 4821 1569 4809 1565 4844 1561 4825 1557 4840 1553 4831 1549 4832 1545 4816 1541 4844 1537 4818 1533 4825 1529 4831 1525 4834 1521 4851 1517 4830 1513 4857 1509 4839 1505 4831 1501 4832 1497 4840 1493 4862 1489 4851 1485 4856 1481 4855 1477 4875 1473 4849 1469 4855 1465 4858 1461 4858 1457 4853 1453 4851 1449 4860 1445 4866 1441 4867 1437 4860 1433 4869 1429 4877 1425 4856 1421 4862 1417 4862 1413 4855 1409 4859 1405 4871 1401 4859 1397 4861 1393 4859 1389 4848 1385 4842 1381 4846 1377 4851 1373 4841 1369 4841 1365 4828 1361 4846 1357 4841 1353 4825 1349 4833 1345 4807 1341 4802 1337 4799 1333 4794 1329 4775 1325 4785 1321 4755 1317 4761 1313 4749 1309 4730 1305 4711 1301 4698 1297 4686 1293 4671 1289 4657 1285 4637 1281 4643 1277 4587 1273 4563 1269 4552 1265 4510 1261 4476 1257 4453 1253 4413 1249 4449 1245 4418 1241 4423 1237 4410 1233 4441 1229 4440 1225 4458 1221 4418 1217 4426 1213 4435 1209 4428 1205 4418 1201 4446 1197 4437 1193 4425 1189 4427 1185 4427 1181 4436 1177 4421 1173 4426 1169 4424 1165 4423 1161 4413 1157 4421 1153 4413 1149 4410 1145 4419 1141 4413 1137 4421 1133 4412 1129 4427 1125 4400 1121 4408 1117 4411 1113 4416 1109 4414 1105 4401 1101 4413 1097 4415 1093 4400 1089 4414 1085 4407 1081 4394 1077 4387 1073 4397 1069 4406 1065 4394 1061 4384 1057 4399 1053 4402 1049 4400 1045 4401 1041 4396 1037 4401 1033 4385 1029 4397 1025 4371 1021 4383 1017 4389 1013 4368 1009 4381 1005 4373 1001 4393 997 4362 993 4367 989 4372 985 4362 981 4384 977 4388 973 4381 969 4380 965 4372 961 4374 957 4360 953 4379 949 4354 945 4358 941 4377 937 4365 933 4351 929 4366 925 4357 921 4380 917 4348 913 4366 909 4373 905 4376 901 4362 897 4364 893 4363 889 4359 885 4370 881 4374 877 4376 873 4392 869 4380 865 4392 861 4406 857 4406 853 4416 849 4418 845 4433 841 4443 837 4444 833 4465 829 4476 825 4479 821 4500 817 4513 813 4519 809 4543 805 4576 801 4584 797 4615 793 4644 789 4663 785 4676 781 4727 777 4756 773 4799 769 4789 765 4789 761 4785 757 4799 753 4813 749 4781 745 4791 741 4793 737 4800 733 4800 729 4804 725 4793 721 4802 717 4803 713 4783 709 4790 705 4791 701 4798 697 4806Z" fill="#40bfff" stroke="none"/>
<path transform="scale(0.25)" d="M697 4761l1 -64 1 80 1 47 1 -66 1 -62 1 50 1 107 1 -168 1 104 1 -61 1 -44 1 13 1 -39 1 101 1 10 1 -72 1 29 1 -47 1 77 1 -51 1 125 1 -69 1 -91 1 82 1 69 1 -16 1 -141 1 36 1 36 1 -52 1 20 1 -17 1 -15 1 26 1 27 1 104 1 -82 1 -81 1 -11 1 114 1 -48 1 22 1 -6 1 -13 1 -57 1 23 1 64 1 -22 1 -46 1 49 1 -44 1 55 1 52 1 -139 1 164 1 -76 1 -15 1 79 1 -26 1 -38 1 -46 1 55 1 -36 1 -60 1 6 1 152 1 -117 1 -11 1 76 1 -68 1 9 1 22 1 -139 1 132 1 102 1 -40 1 -73 1 97 1 -183 1 31 1 74 1 -24 1 11 1 -149 1 68 1 -28 1 16 1 17 1 74 1 -18 1 -106 1 74 1 14 1 -10 1 -64 1 -79 1 -3 1 0 1 73 1 -103 1 116 1 -127 1 91 1 -19 1 -96 1 135 1 -149 1 106 1 -48 1 46 1 -130 1 21 1 111 1 -75 1 -12 1 47 1 -86 1 61 1 -45 1 8 1 -79 1 -17 1 8 1 43 1 63 1 -33 1 -29 1 17 1 -80 1 132 1 -28 1 -59 1 -20 1 78 1 -81 1 -8 1 83 1 -1 1 -144 1 162 1 -88 1 12 1 61 1 8 1 -35 1 35 1 -117 1 48 1 -7 1 -87 1 117 1 -10 1 -100 1 124 1 28 1 -108 1 69 1 -77 1 14 1 -6 1 20 1 -20 1 77 1 -149 1 170 1 -146 1 33 1 100 1 -89 1 108 1 -164 1 128 1 -67 1 -69 1 97 1 -105 1 31 1 -3 1 88 1 19 1 -97 1 63 1 -134 1 49 1 52 1 -111 1 5 1 57 1 87 1 -29 1 -70 1 6 1 33 1 88 1 -160 1 112 1 -16 1 38 1 -70 1 103 1 -97 1 23 1 2 1 -35 1 81 1 -55 1 -47 1 1 1 67 1 15 1 -95 1 -67 1 143 1 -80 1 42 1 28 1 20 1 -67 1 40 1 -1 1 -28 1 -13 1 13 1 2 1 -46 1 -9 1 137 1 -120 1 -7 1 53 1 26 1 61 1 -58 1 -14 1 63 1 -56 1 9 1 -3 1 0 1 51 1 -39 1 -111 1 122 1 -136 1 54 1 43 1 -24 1 75 1 -113 1 9 1 50 1 12 1 -19 1 104 1 -102 1 -51 1 119 1 16 1 -107 1 -51 1 95 1 44 1 -71 1 27 1 -95 1 73 1 29 1 -88 1 89 1 17 1 77 1 -98 1 -44 1 16 1 -37 1 104 1 30 1 -102 1 3 1 72 1 -67 1 -30 1 -4 1 -29 1 7 1 80 1 23 1 -47 1 -55 1 -27 1 47 1 -24 1 159 1 11 1 -122 1 52 1 -74 1 44 1 -36 1 12 1 -39 1 28 1 35 1 -8 1 44 1 66 1 -100 1 69 1 -119 1 163 1 -54 1 -13 1 62 1 -101 1 -40 1 128 1 -36 1 -104 1 117 1 -95 1 15 1 -28 1 7 1 8 1 -26 1 22 1 115 1 -41 1 -57 1 -20 1 65 1 47 1 -20 1 -18 1 46 1 -55 1 -106 1 138 1 -106 1 22 1 -58 1 85 1 64 1 -89 1 45 1 20 1 -2 1 8 1 10 1 -116 1 71 1 46 1 -55 1 -34 1 -1 1 -32 1 97 1 -37 1 67 1 -61 1 35 1 -102 1 64 1 -55 1 68 1 -76 1 129 1 -104 1 109 1 -132 1 157 1 -62 1 -2 1 48 1 -70 1 -27 1 54 1 32 1 -113 1 76 1 -11 1 -33 1 13 1 43 1 30 1 -51 1 -68 1 53 1 74 1 -32 1 -97 1 121 1 -34 1 -76 1 100 1 -61 1 125 1 -136 1 8 1 65 1 -63 1 17 1 -39 1 72 1 -78 1 12 1 -17 1 24 1 9 1 -55 1 157 1 -40 1 -21 1 -3 1 38 1 -2 1 38 1 -84 1 71 1 -87 1 94 1 9 1 -103 1 28 1 -55 1 103 1 -116 1 -27 1 94 1 -93 1 102 1 -97 1 144 1 -137 1 118 1 33 1 -21 1 -13 1 29 1 -39 1 17 1 7 1 -90 1 78 1 -45 1 104 1 -132 1 54 1 44 1 -120 1 84 1 -44 1 -34 1 78 1 -34 1 33 1 106 1 -113 1 70 1 -46 1 1 1 19 1 -78 1 88 1 -40 1 2 1 -65 1 74 1 -38 1 71 1 -113 1 101 1 -105 1 -14 1 52 1 -42 1 62 1 -9 1 74 1 -37 1 -128 1 114 1 14 1 -25 1 24 1 -95 1 174 1 -21 1 -66 1 -24 1 41 1 -115 1 -9 1 77 1 -56 1 -8 1 111 1 -110 1 45 1 -10 1 22 1 47 1 -133 1 83 1 75 1 -88 1 86 1 -147 1 64 1 15 1 52 1 -37 1 -1 1 -52 1 100 1 -51 1 -76 1 135 1 -21 1 8 1 -78 1 -34 1 124 1 -6 1 -29 1 -103 1 15 1 115 1 -34 1 21 1 -19 1 -70 1 114 1 -109 1 29 1 58 1 3 1 -33 1 -12 1 6 1 -80 1 79 1 39 1 -42 1 -2 1 65 1 -113 1 60 1 -88 1 78 1 7 1 42 1 -103 1 58 1 38 1 -12 1 -79 1 -12 1 21 1 -7 1 28 1 26 1 65 1 -101 1 79 1 87 1 -81 1 -70 1 139 1 -94 1 37 1 117 1 -215 1 196 1 -13 1 85 1 -138 1 55 1 10 1 62 1 -72 1 43 1 -76 1 84 1 -22 1 -7 1 77 1 -56 1 15 1 11 1 -46 1 2 1 116 1 -76 1 13 1 -78 1 144 1 7 1 -95 1 14 1 13 1 21 1 -41 1 98 1 -135 1 126 1 -28 1 -71 1 25 1 -21 1 167 1 -70 1 -49 1 78 1 2 1 -53 1 -26 1 103 1 -150 1 103 1 -47 1 62 1 32 1 -70 1 -54 1 -26 1 8 1 151 1 -4 1 -64 1 86 1 -37 1 26 1 -50 1 -34 1 126 1 -22 1 -15 1 18 1 -56 1 55 1 -19 1 -41 1 5 1 110 1 -99 1 -24 1 -10 1 62 1 1 1 -23 1 35 1 16 1 -30 1 -49 1 6 1 -23 1 102 1 -7 1 -69 1 113 1 24 1 -73 1 40 1 -109 1 69 1 -13 1 5 1 31 1 -13 1 7 1 8 1 -106 1 85 1 2 1 -11 1 33 1 7 1 -78 1 -24 1 23 1 57 1 -100 1 4 1 -39 1 78 1 88 1 -115 1 91 1 -28 1 58 1 -41 1 -70 1 93 1 -69 1 -6 1 -9 1 49 1 -55 1 53 1 -89 1 158 1 -92 1 -29 1 122 1 -4 1 -31 1 -37 1 1 1 43 1 -87 1 18 1 4 1 22 1 42 1 -34 1 -12 1 90 1 -61 1 -31 1 8 1 16 1 38 1 -50 1 7 1 77 1 36 1 -160 1 -9 1 90 1 -5 1 -35 1 78 1 -139 1 124 1 0 1 -29 1 -69 1 33 1 75 1 -59 1 35 1 -105 1 87 1 65 1 39 1 -84 1 -56 1 -12 1 63 1 -26 1 -1 1 18 1 75 1 -115 1 -67 1 71 1 -2 1 -11 1 83 1 -4 1 -102 1 130 1 -9 1 -92 1 14 1 53 1 16 1 7 1 -33 1 -86 1 31 1 15 1 -13 1 48 1 -48 1 44 1 -57 1 -80 1 41 1 75 1 -104 1 64 1 80 1 -4 1 -83 1 4 1 48 1 57 1 -108 1 58 1 -70 1 102 1 -102 1 74 1 -39 1 47 1 -14 1 -120 1 138 1 -57 1 -12 1 -8 1 36 1 -52 1 25 1 81 1 -67 1 -26 1 -51 1 57 1 3 1 23 1 16 1 -137 1 149 1 -11 1 -79 1 44 1 -12 1 -46 1 -10 1 135 1 -121 1 14 1 36 1 -25 1 115 1 -47 1 61 1 -92 1 75 1 -34 1 -25 1 74 1 -133 1 116 1 -83 1 23 1 47 1 -16 1 -75 1 15 1 8 1 -59 1 125 1 -18 1 -116 1 7 1 83 1 19 1 -176 1 44 1 14 1 4 1 51 1 45 1 -15 1 -89 1 72 1 23 1 45 1 -19 1 -92 1 -36 1 79 1 84 1 -59 1 -50 1 104 1 -106 1 -7 1 72 1 -34 1 -32 1 24 1 -75 1 17 1 61 1 56 1 -131 1 40 1 41 1 -98 1 55 1 10 1 78 1 -36 1 -53 1 -2 1 78 1 -22 1 -80 1 156 1 -14 1 -95 1 78 1 -130 1 15 1 -5 1 126 1 -95 1 -15 1 -42 1 149 1 -38 1 -15 1 49 1 -82 1 47 1 63 1 -154 1 54 1 12 1 -60 1 55 1 -32 1 98 1 -133 1 63 1 -62 1 86 1 20 1 -55 1 -43 1 72 1 -15 1 28 1 -87 1 48 1 -34 1 116 1 -78 1 -65 1 34 1 42 1 -78 1 -18 1 -5 1 70 1 -56 1 97 1 -41 1 -33 1 -16 1 111 1 0 1 21 1 -84 1 101 1 -65 1 22 1 -155 1 86 1 7 1 28 1 -133 1 146 1 -28 1 -60 1 60 1 34 1 -14 1 36 1 -76 1 -25 1 45 1 27 1 -8 1 -38 1 1 1 55 1 -17 1 -78 1 61 1 -5 1 0 1 -67 1 86 1 -9 1 37 1 6 1 16 1 -134 1 35 1 109 1 -8 1 -27 1 34 1 -80 1 -10 1 -2 1 72 1 -36 1 -4 1 -46 1 -37 1 34 1 39 1 -49 1 111 1 -68 1 -79 1 28 1 147 1 -21 1 -88 1 57 1 -54 1 56 1 -91 1 74 1 -88 1 77 1 34 1 -25 1 -81 1 159 1 -43 1 -65 1 24 1 47 1 -23 1 3 1 -60 1 -56 1 36 1 -38 1 -5 1 18 1 -20 1 171 1 -87 1 53 1 -134 1 76 1 -19 1 -1 1 -34 1 107 1 -48 1 -59 1 94 1 -4 1 -64 1 -30 1 20 1 -38 1 95 1 -132 1 68 1 -25 1 -85 1 63 1 0 1 -62 1 141 1 -173 1 32 1 -38 1 2 1 8 1 -54 1 60 1 -79 1 -41 1 64 1 -53 1 124 1 -14 1 -29 1 9 1 30 1 -54 1 -16 1 52 1 4 1 -102 1 -36 1 6 1 22 1 106 1 -32 1 -145 1 148 1 -138 1 90 1 -72 1 57 1 -8 1 55 1 -1 1 -118 1 129 1 -60 1 -13 1 -7 1 -69 1 139 1 -93 1 -42 1 38 1 -3 1 -58 1 99 1 -130 1 59 1 47 1 -107 1 36 1 -44 1 50 1 -47 1 40 1 7 1 -26 1 -62 1 110 1 0 1 -106 1 128 1 -49 1 29 1 -53 1 17 1 -35 1 8 1 14 1 -7 1 -33 1 12 1 36 1 -14 1 7 1 -55 1 33 1 146 1 -147 1 -36 1 135 1 -31 1 -69 1 -74 1 49 1 3 1 93 1 -124 1 -22 1 5 1 -6 1 101 1 61 1 -167 1 72 1 -12 1 -63 1 36 1 100 1 16 1 -84 1 45 1 -68 1 19 1 -36 1 -32 1 99 1 -56 1 -4 1 42 1 -74 1 94 1 -110 1 174 1 -128 1 56 1 -25 1 -48 1 75 1 -90 1 25 1 -25 1 91 1 51 1 -133 1 142 1 -71 1 -21 1 -18 1 1 1 67 1 -118 1 172 1 -139 1 -60 1 88 1 17 1 52 1 14 1 -39 1 -10 1 40 1 -56 1 85 1 -14 1 45 1 -42 1 -97 1 -27 1 29 1 -2 1 132 1 -71 1 -98 1 13 1 69 1 -114 1 6 1 38 1 108 1 -14 1 -146 1 93 1 -15 1 -3 1 7 1 -14 1 17 1 2 1 83 1 -166 1 137 1 -11 1 -45 1 37 1 31 1 -93 1 -42 1 185 1 -139 1 26 1 9 1 -45 1 114 1 -24 1 -74 1 24 1 72 1 -85 1 2 1 121 1 -67 1 24 1 -37 1 28 1 27 1 26 1 -148 1 -22 1 31 1 33 1 -40 1 -16 1 30 1 61 1 -86 1 108 1 -69 1 65 1 -110 1 88 1 -74 1 45 1 -45 1 101 1 -21 1 83 1 -132 1 101 1 -100 1 -19 1 40 1 -52 1 96 1 -26 1 -50 1 97 1 -95 1 5 1 85 1 -142 1 35 1 37 1 -2 1 42 1 -84 1 25 1 99 1 -156 1 135 1 28 1 -98 1 66 1 -30 1 1 1 -21 1 -41 1 22 1 9 1 7 1 33 1 -53 1 -12 1 102 1 -88 1 30 1 0 1 91 1 -35 1 -63 1 -37 1 151 1 -14 1 -69 1 39 1 -14 1 33 1 -67 1 26 1 -30 1 82 1 -9 1 -122 1 71 1 95 1 -176 1 127 1 -52 1 29 1 10 1 42 1 11 1 -132 1 60 1 -24 1 -16 1 98 1 -154 1 14 1 -42 1 131 1 -45 1 54 1 -29 1 -103 1 106 1 53 1 -99 1 106 1 -132 1 14 1 17 1 60 1 19 1 -67 1 4 1 -35 1 30 1 84 1 -66 1 -42 1 107 1 5 1 -119 1 107 1 -52 1 102 1 -52 1 15 1 -67 1 -63 1 29 1 75 1 24 1 -71 1 86 1 49 1 -97 1 45 1 38 1 -82 1 -84 1 34 1 40 1 -23 1 -40 1 97 1 -93 1 67 1 -119 1 154 1 -74 1 102 1 -65 1 0 1 25 1 56 1 -87 1 -44 1 -23 1 28 1 -48 1 114 1 -13 1 7 1 -75 1 70 1 9 1 10 1 -10 1 -17 1 -10 1 10 1 -65 1 106 1 -6 1 35 1 -38 1 7 1 2 1 -28 1 -109 1 87 1 82 1 -142 1 1 1 15 1 98 1 -84 1 10 1 -48 1 21 1 122 1 -39 1 32 1 -57 1 71 1 -129 1 15 1 -66 1 133 1 74 1 -127 1 5 1 105 1 5 1 -97 1 -69 1 37 1 20 1 49 1 -68 1 52 1 -98 1 157 1 -39 1 -91 1 29 1 38 1 -36 1 95 1 -85 1 48 1 -80 1 -20 1 60 1 22 1 -78 1 43 1 43 1 -26 1 -16 1 -63 1 4 1 143 1 -139 1 55 1 -8 1 64 1 -106 1 138 1 -41 1 -43 1 21 1 61 1 -53 1 76 1 -45 1 31 1 -35 1 -89 1 44 1 25 1 -103 1 14 1 28 1 67 1 -135 1 120 1 22 1 -45 1 75 1 -80 1 41 1 -79 1 142 1 -95 1 -21 1 16 1 27 1 -33 1 113 1 -106 1 94 1 -55 1 -42 1 80 1 -104 1 121 1 -2 1 -33 1 -15 1 73 1 -112 1 88 1 40 1 -86 1 -38 1 92 1 102 1 -50 1 26 1 -138 1 46 1 154 1 -135 1 -38 1 35 1 99 1 -3 1 -47 1 17 1 -20 1 54 1 86 1 -127 1 70 1 -51 1 44 1 92 1 -48 1 -67 1 -36 1 159 1 -78 1 -57 1 25 1 86 1 -60 1 120 1 -70 1 75 1 -27 1 -18 1 14 1 -10 1 -4 1 -20 1 -31 1 44 1 -50 1 49 1 80 1 34 1 -36 1 -91 1 6 1 -50 1 114 1 43 1 -101 1 -10 1 144 1 -108 1 -2 1 85 1 -132 1 47 1 -7 1 81 1 -72 1 49 1 -108 1 188 1 -43 1 -102 1 24 1 69 1 -102 1 58 1 64 1 -14 1 -103 1 54 1 63 1 -100 1 136 1 -112 1 103 1 -31 1 -13 1 105 1 22 1 -173 1 -25 1 44 1 -29 1 33 1 103 1 -117 1 53 1 39 1 -34 1 -58 1 42 1 -55 1 -13 1 136 1 -133 1 95 1 -91 1 95 1 -129 1 13 1 130 1 -23 1 -131 1 34 1 99 1 -71 1 -33 1 98 1 -102 1 41 1 105 1 -8 1 -8 1 -40 1 6 1 -105 1 131 1 -9 1 -7 1 20 1 -87 1 -24 1 47 1 -15 1 12 1 -42 1 68 1 39 1 -128 1 114 1 -98 1 53 1 16 1 42 1 -62 1 124 1 -24 1 -90 1 98 1 -45 1 97 1 -201 1 114 1 -101 1 98 1 -74 1 26 1 40 1 -57 1 87 1 -86 1 140 1 -57 1 -53 1 26 1 16 1 -74 1 89 1 -109 1 -26 1 -2 1 84 1 0 1 -60 1 63 1 61 1 -148 1 77 1 -45 1 29 1 72 1 24 1 26 1 -27 1 -14 1 -119 1 67 1 -111 1 58 1 0 1 88 1 -139 1 102 1 72 1 -50 1 8 1 21 1 -45 1 -48 1 -18 1 5 1 94 1 -78 1 -19 1 27 1 -2 1 56 1 7 1 -104 1 109 1 8 1 25 1 -29 1 -23 1 -8 1 19 1 39 1 -84 1 -18 1 -18 1 87 1 -62 1 4 1 12 1 22 1 -71 1 39 1 58 1 -126 1 79 1 42 1 -130 1 87 1 32 1 -63 1 11 1 13 1 -6 1 78 1 -70 1 -91 1 161 1 -144 1 134 1 -20 1 -78 1 -74 1 41 1 -26 1 175 1 -45 1 -117 1 25 1 7 1 51 1 70 1 -44 1 -83 1 51 1 -61 1 -2 1 18 1 38 1 52 1 -48 1 -19 1 -4 1 94 1 -32 1 -118 1 44 1 -1 1 21 1 46 1 -64 1 112 1 -71 1 34 1 28 1 18 1 -103 1 30 1 14 1 -115 1 58 1 -9 1 110 1 -177 1 69 1 128 1 -135 1 54 1 31 1 -82 1 -52 1 99 1 32 1 -79 1 45 1 11 1 -69 1 14 1 -25 1 -14 1 26 1 -37 1 68 1 57 1 -89 1 60 1 -57 1 6 1 59 1 -86 1 78 1 -35 1 10 1 -62 1 20 1 24 1 92 1 -50 1 -72 1 -11 1 12 1 -21 1 163 1 -137 1 62 1 -112 1 120 1 -11 1 -80 1 100 1 -132 1 152 1 -44 1 -27 1 37 1 -88 1 112 1 -8 1 -67 1 -28 1 -26 1 61 1 9 1 -28 1 56 1 38 1 -172 1 91 1 -22 1 50 1 -33 1 -51 1 50 1 59 1 7 1 -107 1 131 1 -64 1 10 1 -85 1 -8 1 -19 1 163 1 -48 1 -42 1 76 1 -71 1 4 1 72 1 -37 1 36 1 -8 1 -21 1 -127 1 164 1 -64 1 -5 1 50 1 17 1 36 1 -130 1 110 1 -94 1 1 1 -5 1 -49 1 -17 1 143 1 -123 1 23 1 49 1 -19 1 22 1 50 1 -75 1 27 1 22 1 -47 1 46 1 9 1 16 1 -78 1 60 1 -82 1 13 1 -12 1 -31 1 -77 1 142 1 78 1 -169 1 100 1 2 1 32 1 -71 1 -10 1 93 1 -132 1 29 1 72 1 -124 1 15 1 109 1 -150 1 102 1 -50 1 108 1 -53 1 -41 1 10 1 54 1 -19 1 42 1 18 1 -19 1 -71 1 71 1 -63 1 90 1 -93 1 41 1 -5 1 51 1 -9 1 -128 1 99 1 -90 1 92 1 -25 1 38 1 -109 1 113 1 -95" stroke="#40bfff" stroke-width="8.8"/>
<path transform="scale(0.25)" d="M697 5496l1 1 1 -19 1 11 1 -10 1 0 1 8 1 4 1 1 1 1 1 -5 1 1 1 -6 1 -2 1 19 1 -18 1 5 1 -5 1 12 1 3 1 -11 1 9 1 -18 1 21 1 -10 1 11 1 -10 1 5 1 -3 1 -12 1 16 1 -11 1 -2 1 -3 1 -5 1 5 1 18 1 -2 1 -11 1 -3 1 0 1 14 1 -16 1 14 1 -12 1 5 1 -9 1 16 1 1 1 -21 1 20 1 -14 1 -7 1 18 1 -5 1 -10 1 3 1 -2 1 -3 1 17 1 -4 1 2 1 -14 1 7 1 -7 1 6 1 -8 1 3 1 -8 1 13 1 -9 1 12 1 5 1 -12 1 -5 1 -4 1 4 1 -11 1 -8 1 4 1 -7 1 7 1 -30 1 12 1 -1 1 -12 1 4 1 -3 1 -22 1 -11 1 9 1 -7 1 -9 1 -1 1 -14 1 3 1 -6 1 -7 1 6 1 -3 1 -21 1 3 1 -6 1 3 1 -3 1 -10 1 -8 1 -17 1 12 1 -15 1 2 1 -14 1 -7 1 8 1 -4 1 -3 1 0 1 -14 1 5 1 2 1 6 1 -23 1 -8 1 3 1 -7 1 10 1 3 1 -23 1 11 1 10 1 -9 1 -3 1 -18 1 -2 1 0 1 -5 1 1 1 2 1 -18 1 16 1 -10 1 -13 1 8 1 1 1 -11 1 6 1 -1 1 1 1 -5 1 11 1 -12 1 -10 1 10 1 -21 1 14 1 -9 1 -5 1 -2 1 -5 1 13 1 -20 1 5 1 -3 1 19 1 -22 1 9 1 0 1 7 1 -15 1 4 1 -6 1 0 1 -14 1 13 1 -8 1 0 1 -11 1 21 1 -17 1 -9 1 -2 1 17 1 -1 1 -3 1 -14 1 8 1 5 1 4 1 1 1 -17 1 9 1 5 1 -1 1 -11 1 4 1 -12 1 5 1 16 1 -7 1 -11 1 -5 1 18 1 -13 1 14 1 -15 1 -4 1 -5 1 30 1 -10 1 -9 1 -12 1 -6 1 13 1 -3 1 -3 1 7 1 -11 1 18 1 -2 1 0 1 -6 1 -12 1 13 1 -4 1 15 1 -15 1 8 1 1 1 -4 1 4 1 -3 1 -12 1 0 1 7 1 -15 1 5 1 6 1 -2 1 9 1 12 1 -11 1 -10 1 6 1 4 1 -13 1 0 1 6 1 6 1 -6 1 8 1 7 1 -18 1 17 1 -18 1 6 1 8 1 -12 1 3 1 -7 1 1 1 1 1 9 1 7 1 -3 1 10 1 -2 1 -17 1 16 1 -9 1 -8 1 11 1 6 1 -14 1 16 1 3 1 -15 1 -7 1 19 1 -24 1 8 1 -16 1 32 1 1 1 -12 1 -1 1 7 1 -14 1 9 1 -6 1 -4 1 10 1 10 1 3 1 0 1 -8 1 -10 1 21 1 -6 1 -3 1 2 1 -10 1 18 1 -14 1 -6 1 19 1 -12 1 -5 1 0 1 -1 1 4 1 -11 1 5 1 5 1 9 1 -3 1 -7 1 15 1 -2 1 4 1 -12 1 -4 1 7 1 6 1 -12 1 3 1 -2 1 -2 1 4 1 6 1 3 1 -1 1 6 1 -2 1 -2 1 -10 1 2 1 3 1 -7 1 5 1 11 1 -3 1 -5 1 4 1 7 1 5 1 -3 1 -8 1 -16 1 18 1 -2 1 5 1 -16 1 -7 1 17 1 -1 1 5 1 -8 1 11 1 -8 1 8 1 4 1 -3 1 -4 1 2 1 6 1 -23 1 19 1 7 1 -13 1 -1 1 11 1 -19 1 20 1 -19 1 13 1 -14 1 -2 1 2 1 5 1 8 1 1 1 9 1 -10 1 5 1 -11 1 3 1 1 1 24 1 -1 1 -20 1 19 1 -12 1 -12 1 8 1 10 1 5 1 -11 1 -3 1 2 1 -4 1 -5 1 10 1 11 1 -1 1 -5 1 -4 1 -7 1 12 1 -5 1 4 1 -2 1 -1 1 -10 1 24 1 -17 1 -4 1 3 1 17 1 -15 1 7 1 8 1 -5 1 6 1 7 1 -1 1 -19 1 0 1 1 1 8 1 -11 1 5 1 3 1 3 1 -8 1 2 1 -2 1 13 1 -4 1 11 1 -9 1 5 1 -10 1 -2 1 9 1 -22 1 3 1 4 1 27 1 -6 1 -9 1 -5 1 0 1 9 1 -9 1 -3 1 21 1 -9 1 5 1 2 1 -6 1 1 1 4 1 5 1 -25 1 14 1 4 1 -20 1 15 1 17 1 -15 1 -1 1 -6 1 25 1 -13 1 -9 1 4 1 -1 1 -3 1 4 1 -10 1 17 1 -1 1 -1 1 -11 1 3 1 13 1 -15 1 -2 1 13 1 12 1 -10 1 -18 1 16 1 8 1 -8 1 -7 1 -11 1 -1 1 8 1 12 1 -1 1 -16 1 1 1 25 1 -26 1 5 1 8 1 16 1 -7 1 2 1 -14 1 9 1 1 1 -9 1 -3 1 9 1 2 1 -6 1 17 1 -10 1 3 1 -6 1 -9 1 12 1 -7 1 1 1 12 1 -4 1 12 1 -10 1 11 1 -8 1 -4 1 0 1 5 1 2 1 3 1 -11 1 4 1 -9 1 14 1 -4 1 -1 1 -12 1 11 1 -7 1 0 1 2 1 13 1 -13 1 1 1 16 1 -12 1 -8 1 16 1 -13 1 9 1 4 1 -19 1 11 1 12 1 6 1 -1 1 7 1 18 1 2 1 8 1 -6 1 8 1 -4 1 -3 1 24 1 -6 1 13 1 0 1 -2 1 -10 1 24 1 -11 1 10 1 2 1 6 1 -3 1 -3 1 17 1 14 1 -10 1 17 1 -18 1 15 1 0 1 8 1 7 1 -6 1 6 1 20 1 -3 1 -1 1 -4 1 7 1 12 1 -8 1 -4 1 8 1 3 1 -2 1 -1 1 2 1 3 1 8 1 1 1 13 1 5 1 -2 1 5 1 0 1 3 1 1 1 -2 1 4 1 3 1 -2 1 11 1 -3 1 -10 1 20 1 -13 1 19 1 3 1 0 1 -13 1 7 1 12 1 -7 1 -1 1 18 1 -3 1 -11 1 4 1 3 1 6 1 -1 1 -5 1 15 1 -14 1 5 1 7 1 -7 1 11 1 -7 1 6 1 6 1 7 1 9 1 -10 1 -6 1 7 1 -9 1 15 1 -21 1 27 1 -4 1 -1 1 8 1 -4 1 -11 1 3 1 5 1 -10 1 17 1 3 1 -18 1 11 1 -6 1 9 1 -11 1 10 1 0 1 3 1 8 1 -10 1 -6 1 21 1 -2 1 11 1 -7 1 -8 1 1 1 4 1 -5 1 1 1 -2 1 -5 1 4 1 0 1 14 1 -12 1 -3 1 10 1 5 1 -13 1 7 1 -1 1 -3 1 3 1 12 1 -11 1 8 1 11 1 -16 1 17 1 -17 1 17 1 -12 1 11 1 -1 1 6 1 -16 1 14 1 -14 1 6 1 -6 1 15 1 -10 1 0 1 8 1 2 1 -4 1 5 1 -10 1 -3 1 0 1 0 1 4 1 -8 1 22 1 -5 1 0 1 -7 1 4 1 5 1 -10 1 -4 1 21 1 -28 1 6 1 15 1 -7 1 12 1 -20 1 14 1 0 1 -10 1 4 1 14 1 -16 1 11 1 -6 1 4 1 -8 1 -1 1 4 1 9 1 -16 1 7 1 2 1 -10 1 11 1 -21 1 10 1 8 1 -16 1 2 1 17 1 -10 1 0 1 1 1 -1 1 14 1 -14 1 7 1 9 1 -4 1 -5 1 -15 1 3 1 -1 1 14 1 6 1 -5 1 -15 1 0 1 2 1 18 1 -14 1 17 1 -17 1 -11 1 12 1 15 1 -13 1 1 1 4 1 1 1 -14 1 10 1 8 1 -1 1 -19 1 17 1 -12 1 4 1 1 1 0 1 -5 1 1 1 8 1 -15 1 -4 1 19 1 -4 1 -13 1 8 1 13 1 -5 1 -4 1 -2 1 -1 1 1 1 17 1 -7 1 -14 1 11 1 -3 1 -12 1 2 1 1 1 9 1 -5 1 2 1 -13 1 -1 1 25 1 -7 1 -19 1 8 1 -1 1 12 1 -15 1 17 1 -3 1 -15 1 -1 1 20 1 -13 1 3 1 -5 1 11 1 1 1 -5 1 -10 1 2 1 -7 1 9 1 18 1 -26 1 21 1 -10 1 3 1 -13 1 5 1 5 1 -11 1 8 1 4 1 -5 1 -10 1 22 1 -13 1 -17 1 14 1 5 1 -8 1 6 1 5 1 -9 1 21 1 -10 1 -16 1 15 1 5 1 0 1 -8 1 13 1 -18 1 15 1 -20 1 -2 1 3 1 4 1 11 1 -25 1 7 1 7 1 -4 1 13 1 -13 1 -1 1 -1 1 1 1 -6 1 6 1 -3 1 -2 1 6 1 -14 1 4 1 -9 1 0 1 11 1 14 1 4 1 -11 1 10 1 -8 1 15 1 -19 1 23 1 -16 1 3 1 -2 1 10 1 -21 1 1 1 -4 1 15 1 -2 1 -20 1 10 1 -1 1 10 1 -17 1 18 1 -2 1 2 1 -9 1 -4 1 -11 1 16 1 -3 1 -5 1 2 1 5 1 10 1 -9 1 -5 1 -6 1 16 1 -6 1 -4 1 7 1 1 1 -11 1 13 1 -15 1 14 1 -12 1 15 1 -10 1 -3 1 13 1 -22 1 16 1 -12 1 18 1 -6 1 -19 1 6 1 13 1 -4 1 -5 1 6 1 -12 1 4 1 -3 1 3 1 11 1 -23 1 18 1 -16 1 17 1 -2 1 -12 1 8 1 -6 1 16 1 -16 1 21 1 -21 1 23 1 -21 1 8 1 -8 1 -9 1 7 1 4 1 7 1 1 1 -15 1 0 1 0 1 0 1 13 1 0 1 -16 1 17 1 -7 1 1 1 -19 1 13 1 0 1 13 1 -16 1 19 1 -11 1 -6 1 -4 1 -9 1 15 1 -8 1 20 1 -2 1 -9 1 9 1 -14 1 20 1 -13 1 9 1 -15 1 17 1 -13 1 -9 1 0 1 0 1 -18 1 -8 1 5 1 -3 1 -7 1 -9 1 13 1 -25 1 6 1 -11 1 -18 1 -6 1 19 1 -6 1 -32 1 6 1 -8 1 -2 1 0 1 -21 1 8 1 -16 1 1 1 -6 1 -4 1 8 1 -8 1 -2 1 -4 1 -15 1 9 1 -13 1 2 1 -9 1 2 1 -5 1 8 1 -27 1 1 1 -7 1 1 1 13 1 -24 1 -5 1 10 1 -1 1 -1 1 -23 1 14 1 -4 1 -17 1 13 1 -20 1 20 1 -11 1 -1 1 -13 1 13 1 -23 1 15 1 9 1 -23 1 -9 1 23 1 -26 1 6 1 5 1 0 1 -29 1 10 1 9 1 -15 1 -6 1 20 1 -9 1 -6 1 -10 1 3 1 -7 1 3 1 -5 1 3 1 11 1 -17 1 15 1 -15 1 -2 1 -1 1 21 1 -22 1 3 1 2 1 -3 1 -10 1 -3 1 15 1 -19 1 14 1 -2 1 -2 1 -5 1 8 1 -1 1 -13 1 12 1 -9 1 -12 1 2 1 -7 1 7 1 4 1 2 1 -8 1 6 1 -1 1 -7 1 16 1 -9 1 -2 1 -3 1 -10 1 20 1 -2 1 -9 1 0 1 -10 1 3 1 5 1 1 1 -1 1 -3 1 5 1 -8 1 3 1 2 1 -2 1 -3 1 -4 1 5 1 -7 1 9 1 -6 1 -1 1 -8 1 7 1 -5 1 1 1 16 1 -8 1 17 1 -16 1 5 1 -22 1 16 1 2 1 -11 1 21 1 5 1 -19 1 -3 1 13 1 -2 1 1 1 -18 1 8 1 -13 1 8 1 -2 1 21 1 -6 1 -18 1 0 1 0 1 6 1 -2 1 11 1 -5 1 -3 1 6 1 -9 1 13 1 -4 1 -4 1 3 1 9 1 -1 1 -5 1 -4 1 12 1 -8 1 6 1 -1 1 -1 1 -7 1 18 1 -12 1 -6 1 12 1 -9 1 -7 1 -2 1 1 1 2 1 15 1 -9 1 7 1 -5 1 15 1 -13 1 7 1 -17 1 -2 1 -3 1 10 1 17 1 2 1 -14 1 -2 1 14 1 2 1 -5 1 -7 1 -4 1 0 1 10 1 -3 1 -2 1 5 1 2 1 -19 1 1 1 9 1 -11 1 21 1 -17 1 16 1 -9 1 -7 1 12 1 -7 1 15 1 -3 1 5 1 -6 1 10 1 6 1 -9 1 -4 1 10 1 -17 1 4 1 3 1 6 1 -10 1 5 1 -6 1 -3 1 14 1 -17 1 13 1 3 1 -10 1 -6 1 6 1 -3 1 -5 1 11 1 -6 1 4 1 -7 1 19 1 3 1 -2 1 -11 1 8 1 -4 1 15 1 -9 1 -11 1 11 1 -6 1 -3 1 17 1 -13 1 -1 1 -3 1 13 1 -8 1 -12 1 12 1 -3 1 15 1 -1 1 -11 1 -5 1 18 1 7 1 -22 1 18 1 5 1 -15 1 19 1 -5 1 -6 1 0 1 6 1 -1 1 0 1 -16 1 12 1 -14 1 14 1 -14 1 25 1 -12 1 -10 1 24 1 -18 1 -3 1 -6 1 19 1 -3 1 9 1 -13 1 -7 1 14 1 -8 1 11 1 -8 1 2 1 -6 1 24 1 -20 1 6 1 4 1 9 1 -13 1 2 1 -4 1 2 1 7 1 -9 1 1 1 5 1 -17 1 2 1 10 1 0 1 2 1 -9 1 3 1 -14 1 1 1 13 1 9 1 -3 1 -1 1 7 1 -14 1 7 1 -9 1 -5 1 17 1 -6 1 6 1 9 1 -18 1 8 1 -9 1 8 1 -8 1 21 1 -16 1 12 1 -22 1 18 1 -3 1 -1 1 12 1 -7 1 -18 1 12 1 -10 1 3 1 0 1 18 1 0 1 -17 1 19 1 -10 1 17 1 -15 1 -1 1 1 1 9 1 -7 1 9 1 3 1 -5 1 1 1 -5 1 -18 1 20 1 -5 1 -5 1 10 1 3 1 8 1 -1 1 -20 1 -5 1 5 1 6 1 0 1 2 1 -3 1 12 1 -18 1 5 1 -5 1 18 1 -19 1 10 1 5 1 -6 1 7 1 -10 1 11 1 -10 1 2 1 14 1 -21 1 17 1 3 1 -18 1 2 1 -6 1 1 1 -6 1 26 1 -4 1 1 1 -20 1 11 1 10 1 -4 1 2 1 4 1 4 1 -1 1 -1 1 -13 1 -9 1 11 1 6 1 6 1 8 1 -23 1 18 1 7 1 -4 1 -23 1 18 1 -19 1 6 1 1 1 1 1 15 1 1 1 -20 1 13 1 3 1 4 1 -5 1 -10 1 11 1 -3 1 -13 1 4 1 11 1 -4 1 7 1 4 1 -1 1 8 1 2 1 2 1 3 1 21 1 -7 1 -1 1 7 1 16 1 -10 1 9 1 13 1 3 1 14 1 -12 1 0 1 6 1 11 1 8 1 12 1 11 1 -10 1 -3 1 13 1 -14 1 25 1 -5 1 3 1 -5 1 9 1 11 1 -12 1 5 1 9 1 -6 1 27 1 4 1 -14 1 2 1 8 1 7 1 -6 1 -4 1 19 1 -4 1 13 1 2 1 -25 1 19 1 -7 1 18 1 -5 1 8 1 -7 1 10 1 5 1 2 1 -4 1 -6 1 0 1 11 1 -1 1 9 1 -6 1 12 1 8 1 -9 1 -9 1 13 1 -10 1 2 1 8 1 -4 1 8 1 17 1 -12 1 2 1 11 1 0 1 1 1 -2 1 -13 1 14 1 2 1 6 1 -11 1 6 1 5 1 -5 1 -10 1 18 1 -9 1 17 1 -8 1 15 1 -15 1 1 1 14 1 -3 1 -14 1 9 1 13 1 -9 1 8 1 0 1 1 1 0 1 3 1 -2 1 -11 1 16 1 -2 1 -8 1 20 1 -18 1 -2 1 -7 1 20 1 -6 1 -7 1 14 1 1 1 0 1 4 1 -10 1 14 1 -3 1 2 1 -4 1 2 1 -7 1 14 1 -1 1 -14 1 11 1 -2 1 10 1 -9 1 -6 1 -6 1 12 1 6 1 -11 1 0 1 2 1 -2 1 -3 1 0 1 4 1 13 1 -5 1 0 1 -7 1 0 1 20 1 -7 1 5 1 -6 1 -9 1 -4 1 5 1 1 1 12 1 -1 1 -3 1 0 1 -3 1 -4 1 12 1 -8 1 20 1 -25 1 21 1 1 1 -20 1 19 1 5 1 -5 1 -5 1 14 1 -10 1 0 1 4 1 0 1 -5 1 4 1 -21 1 0 1 13 1 -3 1 12 1 -6 1 -1 1 -5 1 2 1 4 1 9 1 -1 1 -9 1 -2 1 4 1 -1 1 -7 1 3 1 1 1 1 1 -20 1 17 1 -4 1 3 1 -8 1 16 1 -6 1 8 1 -1 1 8 1 7 1 -20 1 -2 1 0 1 -2 1 1 1 4 1 -7 1 5 1 -6 1 18 1 2 1 -10 1 6 1 -7 1 11 1 -10 1 -7 1 9 1 7 1 -2 1 -1 1 -21 1 20 1 -11 1 -14 1 22 1 -11 1 4 1 -7 1 -1 1 2 1 -7 1 13 1 -11 1 13 1 -4 1 5 1 -8 1 10 1 -5 1 8 1 -2 1 -11 1 4 1 -3 1 24 1 -31 1 -2 1 24 1 -17 1 11 1 4 1 -3 1 -15 1 5 1 -4 1 16 1 -21 1 17 1 7 1 -8 1 -1 1 -6 1 -2 1 2 1 -2 1 24 1 -10 1 6 1 -13 1 3 1 -15 1 11 1 -2 1 -3 1 -8 1 12 1 1 1 -24 1 14 1 1 1 12 1 -3 1 -5 1 -10 1 -1 1 1 1 11 1 -12 1 -4 1 9 1 -9 1 14 1 -3 1 -5 1 16 1 -17 1 -7 1 13 1 -20 1 13 1 6 1 6 1 -4 1 -8 1 16 1 -9 1 -7 1 10 1 -1 1 -19 1 20 1 -2 1 -7 1 5 1 -4 1 11 1 0 1 -22 1 9 1 -4 1 1 1 10 1 -3 1 -6 1 10 1 -11 1 2 1 -4 1 15 1 -4 1 10 1 -19 1 11 1 -7 1 -3 1 0 1 -4 1 5 1 -7 1 3 1 -7 1 18 1 4 1 -7 1 -2 1 -11 1 0 1 23 1 -12 1 -14 1 17 1 -17 1 27 1 -12 1 1 1 -1 1 -6 1 8 1 -9 1 -6 1 11 1 -15 1 8 1 -1 1 3 1 19 1 -7 1 -8 1 -15 1 9 1 3 1 -1 1 -6 1 10 1 -2 1 4 1 5 1 -23 1 8 1 11 1 -5 1 -4 1 -8 1 14 1 -1 1 -22 1 11 1 -9 1 12 1 -5 1 -5 1 -6 1 13 1 10 1 -14 1 19 1 -9 1 -2 1 -10 1 24 1 -1 1 -14 1 13 1 0 1 -4 1 -14 1 12 1 -10 1 14 1 -13 1 18 1 -1 1 -25 1 6 1 2 1 13 1 -15 1 15 1 -9 1 -7 1 5 1 -7 1 21 1 -12 1 -8 1 11 1 -10 1 -2 1 12 1 -3 1 -6 1 -10 1 11 1 7 1 2 1 -24 1 23 1 -9 1 -5 1 -1 1 7 1 -8 1 8 1 -9 1 9" stroke="#000099" stroke-width="12.8"/>
</g>
<rect x="174.7" y="34.8" width="496.5" height="1399.7" fill="none" stroke="#000" stroke-width="3" stroke-linejoin="round"/>
<line x1="150.5" y1="179.6" x2="174.7" y2="179.6" stroke="#000" stroke-width="3" stroke-linecap="round"/>
<text x="137.6" y="191.4" font-size="34.5" text-anchor="end" font-weight="normal" >1.2</text>
<line x1="150.5" y1="372.5" x2="174.7" y2="372.5" stroke="#000" stroke-width="3" stroke-linecap="round"/>
<text x="137.6" y="384.3" font-size="34.5" text-anchor="end" font-weight="normal" >1.0</text>
<line x1="150.5" y1="565.4" x2="174.7" y2="565.4" stroke="#000" stroke-width="3" stroke-linecap="round"/>
<text x="137.6" y="577.2" font-size="34.5" text-anchor="end" font-weight="normal" >0.8</text>
<line x1="150.5" y1="758.3" x2="174.7" y2="758.3" stroke="#000" stroke-width="3" stroke-linecap="round"/>
<text x="137.6" y="770.1" font-size="34.5" text-anchor="end" font-weight="normal" >0.6</text>
<line x1="150.5" y1="951.2" x2="174.7" y2="951.2" stroke="#000" stroke-width="3" stroke-linecap="round"/>
<text x="137.6" y="963.0" font-size="34.5" text-anchor="end" font-weight="normal" >0.4</text>
<line x1="150.5" y1="1144.1" x2="174.7" y2="1144.1" stroke="#000" stroke-width="3" stroke-linecap="round"/>
<text x="137.6" y="1155.9" font-size="34.5" text-anchor="end" font-weight="normal" >0.2</text>
<line x1="150.5" y1="1337.0" x2="174.7" y2="1337.0" stroke="#000" stroke-width="3" stroke-linecap="round"/>
<text x="137.6" y="1348.8" font-size="34.5" text-anchor="end" font-weight="normal" >0.0</text>
<line x1="193.2" y1="1434.5" x2="193.2" y2="1458.6" stroke="#000" stroke-width="3" stroke-linecap="round"/>
<text x="193.2" y="1503.3" font-size="34.5" text-anchor="middle" font-weight="normal" >0.0</text>
<line x1="312.3" y1="1434.5" x2="312.3" y2="1458.6" stroke="#000" stroke-width="3" stroke-linecap="round"/>
<text x="312.3" y="1503.3" font-size="34.5" text-anchor="middle" font-weight="normal" >12.7</text>
<line x1="431.4" y1="1434.5" x2="431.4" y2="1458.6" stroke="#000" stroke-width="3" stroke-linecap="round"/>
<text x="431.4" y="1503.3" font-size="34.5" text-anchor="middle" font-weight="normal" >25.4</text>
<line x1="550.5" y1="1434.5" x2="550.5" y2="1458.6" stroke="#000" stroke-width="3" stroke-linecap="round"/>
<text x="550.5" y="1503.3" font-size="34.5" text-anchor="middle" font-weight="normal" >38.1</text>
<line x1="669.6" y1="1434.5" x2="669.6" y2="1458.6" stroke="#000" stroke-width="3" stroke-linecap="round"/>
<text x="669.6" y="1503.3" font-size="34.5" text-anchor="middle" font-weight="normal" >50.8</text>
<text x="421.7" y="1555.8" font-size="34.5" text-anchor="middle" font-weight="normal" >t / ms</text>
<text x="668.5" y="155.6" font-size="42" text-anchor="end" font-weight="bold" >76 °C</text>
<text x="668.5" y="348.5" font-size="42" text-anchor="end" font-weight="bold" >66 °C</text>
<text x="668.5" y="541.4" font-size="42" text-anchor="end" font-weight="bold" >56 °C</text>
<text x="668.5" y="734.3" font-size="42" text-anchor="end" font-weight="bold" >47 °C</text>
<text x="668.5" y="927.2" font-size="42" text-anchor="end" font-weight="bold" >38 °C</text>
<text x="668.5" y="1120.1" font-size="42" text-anchor="end" font-weight="bold" >30 °C</text>
<text x="668.5" y="1313.0" font-size="42" text-anchor="end" font-weight="bold" >24 °C</text>
<text transform="translate(37.1,1034.6) rotate(-90)" font-size="34.5" font-weight="normal">I</text>
<text transform="translate(45.7,1025.5) rotate(-90)" font-size="24.5" font-weight="normal">PC</text>
<text transform="translate(37.1,983.0) rotate(-90)" font-size="34.5" font-weight="normal">/</text>
<text transform="translate(37.1,962.5) rotate(-90)" font-size="34.5" font-weight="normal">nA</text>
<text transform="translate(37.1,903.0) rotate(-90)" font-size="34.5" font-weight="normal">---</text>
<text transform="translate(37.1,843.3) rotate(-90)" font-size="34.5" font-weight="normal">(data offset for clarity)</text>
<clipPath id="cb"><rect x="894.5" y="29.9" width="544.3" height="427.40000000000003"/></clipPath>
<line x1="976.3" y1="29.9" x2="976.3" y2="457.3" stroke="#8a8a8a" stroke-width="2.3" stroke-linecap="round" stroke-dasharray="0.6 7"/>
<line x1="1186.2" y1="29.9" x2="1186.2" y2="457.3" stroke="#8a8a8a" stroke-width="2.3" stroke-linecap="round" stroke-dasharray="0.6 7"/>
<line x1="1396.0" y1="29.9" x2="1396.0" y2="457.3" stroke="#8a8a8a" stroke-width="2.3" stroke-linecap="round" stroke-dasharray="0.6 7"/>
<line x1="894.5" y1="250.8" x2="1438.8" y2="250.8" stroke="#000" stroke-width="3"/>
<g clip-path="url(#cb)" fill="none" stroke-linejoin="round">
<path transform="scale(0.25)" d="M3575 1198l2 -25 2 -128 2 32 2 66 2 65 2 -104 2 17 2 -47 2 22 2 -11 2 -60 2 23 2 135 2 -46 2 -90 2 18 2 37 2 -31 2 68 2 -162 2 104 2 96 2 18 2 -120 2 -40 2 125 2 -135 2 82 2 -93 2 82 2 70 2 69 2 -90 2 9 2 0 2 -77 2 7 2 67 2 -55 2 -21 2 -37 2 101 2 -44 2 -84 2 -36 2 176 2 -160 2 163 2 -14 2 -137 2 109 2 49 2 4 2 -29 2 27 2 -111 2 33 2 81 2 -138 2 13 2 4 2 19 2 55 2 62 2 -233 2 97 2 125 2 -115 2 20 2 66 2 -53 2 -84 2 52 2 46 2 -47 2 92 2 -107 2 -24 2 -19 2 84 2 50 2 -233 2 84 2 127 2 -68 2 -6 2 69 2 12 2 -161 2 175 2 12 2 -120 2 79 2 -9 2 -115 2 66 2 66 2 17 2 -102 2 34 2 84 2 -32 2 -115 2 85 2 -58 2 2 2 -66 2 177 2 -61 2 -33 2 71 2 -19 2 8 2 -70 2 46 2 -10 2 -25 2 -40 2 33 2 -73 2 57 2 41 2 -69 2 101 2 -126 2 159 2 7 2 -59 2 -68 2 -14 2 -40 2 12 2 63 2 85 2 -124 2 103 2 -37 2 -48 2 43 2 -81 2 -20 2 112 2 -26 2 56 2 -161 2 20 2 149 2 -127 2 112 2 -123 2 61 2 11 2 -105 2 103 2 -97 2 67 2 10 2 -90 2 -52 2 51 2 110 2 -137 2 96 2 -26 2 -24 2 103 2 -137 2 -77 2 -146 2 48 2 91 2 -178 2 147 2 -57 2 -20 2 -88 2 -58 2 61 2 -4 2 -150 2 -31 2 -10 2 38 2 -9 2 53 2 -64 2 16 2 -77 2 11 2 -110 2 120 2 57 2 -171 2 18 2 -62 2 11 2 118 2 -82 2 77 2 8 2 44 2 -127 2 28 2 -7 2 -27 2 114 2 -204 2 32 2 -18 2 39 2 101 2 -41 2 -17 2 48 2 -108 2 169 2 -148 2 -58 2 25 2 167 2 -148 2 91 2 26 2 9 2 15 2 -56 2 27 2 -115 2 147 2 -114 2 -26 2 107 2 19 2 -4 2 -12 2 -131 2 142 2 127 2 -126 2 -16 2 125 2 -37 2 -114 2 77 2 14 2 -105 2 200 2 -124 2 68 2 -40 2 -4 2 -63 2 228 2 -171 2 -41 2 95 2 -63 2 95 2 32 2 51 2 -115 2 -28 2 7 2 -2 2 -1 2 -47 2 34 2 9 2 26 2 -16 2 75 2 -4 2 -56 2 80 2 -60 2 82 2 20 2 -131 2 -40 2 104 2 -57 2 162 2 -3 2 50 2 14 2 -99 2 -128 2 238 2 -69 2 -3 2 -53 2 2 2 57 2 -111 2 22 2 101 2 16 2 -122 2 75 2 7 2 25 2 -81 2 -6 2 124 2 -103 2 77 2 -34 2 57 2 -14 2 -18 2 -72 2 45 2 52 2 0 2 37 2 -23 2 -134 2 47 2 87 2 51 2 51 2 -52 2 -101 2 72 2 -18 2 -77 2 86 2 -123 2 62 2 3 2 93 2 0 2 -60 2 65 2 -17 2 -70 2 53 2 67 2 -26 2 -59 2 45 2 1 2 30 2 -30 2 55 2 -46 2 -98 2 45 2 34 2 -31 2 -39 2 46 2 -17 2 24 2 103 2 -167 2 220 2 -146 2 14 2 33 2 -15 2 -58 2 12 2 110 2 16 2 -98 2 92 2 -7 2 10 2 -72 2 15 2 41 2 -46 2 75 2 -168 2 95 2 56 2 30 2 -7 2 -35 2 -61 2 76 2 16 2 -9 2 71 2 -116 2 131 2 -62 2 -95 2 95 2 -123 2 92 2 84 2 -54 2 29 2 -55 2 -23 2 93 2 -23 2 -90 2 100 2 -37 2 -28 2 17 2 5 2 72 2 -119 2 10 2 141 2 -47 2 14 2 -6 2 -48 2 -66 2 8 2 -13 2 -18 2 -24 2 126 2 -83 2 -17 2 -4 2 118 2 -107 2 105 2 54 2 -49 2 -93 2 153 2 -113 2 66 2 46 2 14 2 -102 2 -29 2 130 2 -26 2 -11 2 -4 2 23 2 104 2 -26 2 -76 2 -71 2 146 2 -149 2 18 2 7 2 149 2 -107 2 46 2 -135 2 34 2 15 2 91 2 -67 2 -59 2 94 2 -44 2 54 2 -2 2 -20 2 -55 2 115 2 -98 2 32 2 -37 2 78 2 -89 2 125 2 -90 2 -28 2 149 2 -26 2 -34 2 -140 2 109 2 -53 2 13 2 50 2 -3 2 -108 2 133 2 -133 2 40 2 21 2 -60 2 99 2 -40 2 -14 2 -21 2 70 2 -33 2 -73 2 30 2 120 2 61 2 -32 2 -211 2 149 2 -50 2 103 2 -87 2 -11 2 50 2 17 2 -3 2 -28 2 -11 2 54 2 -91 2 111 2 30 2 -126 2 108 2 58 2 -129 2 76 2 -2 2 39 2 -184 2 156 2 31 2 -56 2 -16 2 -93 2 112 2 -101 2 36 2 67 2 -99 2 -11 2 67 2 124 2 -143 2 28 2 71 2 -27 2 62 2 5 2 -170 2 74 2 59 2 -82 2 -2 2 15 2 62 2 -32 2 -180 2 21 2 55 2 91 2 -59 2 -7 2 -56 2 214 2 -128 2 10 2 -94 2 61 2 81 2 -94 2 194 2 -39 2 -51 2 -32 2 -96 2 117 2 97 2 -118 2 -101 2 90 2 29 2 -66 2 -20 2 152 2 -140 2 105 2 -1 2 -81 2 -34 2 -65 2 230 2 -79 2 -40 2 13 2 44 2 -25 2 -66 2 -49 2 139 2 -18 2 102 2 -11 2 151 2 26 2 -70 2 204 2 -2 2 -72 2 -10 2 120 2 -104 2 164 2 -2 2 -105 2 66 2 17 2 -17 2 77 2 -10 2 31 2 -119 2 65 2 -31 2 162 2 9 2 13 2 -11 2 -30 2 21 2 -24 2 97 2 -49 2 -11 2 92 2 -49 2 59 2 -131 2 33 2 -26 2 62 2 30 2 -31 2 25 2 -83 2 25 2 -34 2 -12 2 -9 2 -51 2 83 2 -13 2 -27 2 -11 2 95 2 -133 2 47 2 67 2 -76 2 -40 2 154 2 -10 2 -123 2 2 2 90 2 -41 2 -21 2 76 2 -96 2 85 2 -105 2 21 2 -125 2 102 2 -52 2 38 2 50 2 11 2 -61 2 -79 2 86 2 28 2 49 2 1 2 -44 2 -32 2 26 2 -130 2 112 2 22 2 32 2 -102 2 20 2 23 2 -76 2 -67 2 31 2 7 2 44 2 -84 2 -10 2 130 2 -85 2 83 2 -28 2 58 2 -197 2 119 2 18 2 27 2 -41 2 -74 2 -1 2 9 2 24 2 50 2 -120 2 -67 2 159 2 50 2 -10 2 -86 2 51 2 -50 2 14 2 -41 2 86 2 -128 2 101 2 -9 2 -60 2 -44 2 146 2 -202 2 11 2 212 2 -171 2 51 2 116 2 -172 2 81 2 -127 2 40 2 132 2 -90 2 -80 2 18 2 -40 2 16 2 0 2 149 2 -197 2 89 2 -156 2 208 2 -115 2 137 2 -2 2 -129 2 114 2 -33 2 -117 2 63 2 80 2 -90 2 -63 2 71 2 -7 2 9 2 62 2 -3 2 -5 2 -88 2 -24 2 67 2 107 2 -88 2 18 2 -115 2 59 2 20 2 -45 2 35 2 -14 2 5 2 -22 2 -22 2 74 2 -151 2 11 2 153 2 -85 2 52 2 -14 2 -110 2 19 2 70 2 16 2 -127 2 29 2 125 2 -185 2 13 2 -24 2 134 2 -45 2 -57 2 90 2 28 2 19 2 -56 2 17 2 -16 2 -16 2 -29 2 53 2 9 2 32 2 18 2 24 2 -97 2 -23 2 24 2 -40 2 76 2 -146 2 118 2 -162 2 16 2 92 2 -15 2 111 2 -134 2 -29 2 70 2 -30 2 72 2 15 2 -68 2 75 2 -159 2 70 2 17 2 29 2 -49 2 105 2 -161 2 10 2 -18 2 74 2 1 2 31 2 51 2 -74 2 -62 2 131 2 -147 2 -29 2 25 2 183 2 -127 2 -39 2 76 2 -22 2 -2 2 32 2 -20 2 65 2 -5 2 -78 2 4 2 13 2 -28 2 4 2 -71 2 56 2 69 2 -57 2 86 2 -24 2 -9 2 -128 2 153 2 -106 2 -41 2 -12 2 61 2 0 2 -35 2 64 2 -67 2 62 2 79 2 -68 2 -86 2 29 2 -38 2 94 2 -110 2 162 2 26 2 -115 2 -29 2 16 2 12 2 66 2 -142 2 205 2 -169 2 -78 2 75 2 -29 2 128 2 -34 2 58 2 -1 2 -115 2 -86 2 2 2 51 2 8 2 -10 2 -58 2 149 2 -83 2 -37 2 147 2 -200 2 217 2 -94 2 83 2 -141 2 59 2 -59 2 -17 2 -13 2 -4 2 162 2 -44 2 -143 2 168 2 -41 2 -80 2 26 2 3 2 -107 2 83 2 111 2 -99 2 48 2 -75 2 20 2 58 2 14 2 58 2 -176 2 189 2 -24 2 -225 2 39 2 -11 2 25 2 84 2 25 2 -15 2 -18 2 -97 2 18 2 -66 2 226 2 -81 2 74 2 -78 2 -87 2 107 2 17 2 -160 2 40 2 4 2 149 2 -30 2 -128 2 135 2 -154 2 -1 2 82 2 61 2 8 2 -141 2 -39 2 203 2 -163 2 116 2 -49 2 -40 2 53 2 76 2 -84 2 -55 2 -17 2 19 2 -81 2 162 2 -114 2 51 2 -12 2 -50 2 107 2 -69 2 -19 2 29 2 26 2 36 2 -16 2 -31 2 56 2 -3 2 97 2 -156 2 170 2 -26 2 -119 2 28 2 -80 2 -29 2 66 2 -97 2 -70 2 -62 2 9 2 -59 2 19 2 -8 2 23 2 -191 2 -23 2 -18 2 3 2 125 2 -111 2 -38 2 53 2 -129 2 -3 2 -104 2 -7 2 30 2 82 2 -92 2 76 2 2 2 -140 2 126 2 -96 2 54 2 -20 2 -28 2 76 2 -2 2 -81 2 65 2 -75 2 26 2 -69 2 55 2 100 2 -58 2 -127 2 -1 2 123 2 -108 2 66 2 129 2 -95 2 -162 2 192 2 18 2 -129 2 -15 2 115 2 -94 2 78 2 -1 2 -69 2 108 2 -44 2 -10 2 -20 2 4 2 -39 2 103 2 72 2 -78 2 61 2 74 2 18 2 -21 2 -177 2 -7 2 175 2 -9" stroke="#ff0000" stroke-width="9.6"/>
<path transform="scale(0.25)" d="M3575 1406l2 -95 2 -14 2 -16 2 53 2 -72 2 -78 2 96 2 67 2 16 2 -48 2 12 2 -126 2 14 2 95 2 -68 2 -39 2 -41 2 107 2 0 2 86 2 -164 2 53 2 118 2 -117 2 62 2 44 2 18 2 -23 2 -126 2 113 2 -118 2 38 2 47 2 -22 2 -43 2 88 2 -115 2 92 2 -57 2 97 2 2 2 -85 2 71 2 -3 2 -20 2 -87 2 82 2 15 2 -98 2 80 2 -34 2 -7 2 -27 2 101 2 -122 2 144 2 -130 2 -7 2 -20 2 73 2 50 2 -105 2 -31 2 30 2 72 2 -57 2 -8 2 -16 2 85 2 79 2 -88 2 -19 2 103 2 -145 2 71 2 88 2 -35 2 -160 2 206 2 -71 2 -23 2 36 2 -74 2 90 2 24 2 38 2 -52 2 -76 2 65 2 -29 2 22 2 0 2 -83 2 -9 2 -45 2 91 2 -78 2 105 2 -105 2 71 2 -37 2 37 2 -52 2 15 2 23 2 111 2 -189 2 12 2 9 2 129 2 -153 2 15 2 22 2 121 2 -48 2 -36 2 19 2 -36 2 -7 2 -28 2 104 2 28 2 -92 2 -79 2 184 2 -154 2 -36 2 135 2 -84 2 68 2 1 2 -30 2 68 2 -63 2 -66 2 88 2 -15 2 -169 2 200 2 -24 2 58 2 -18 2 -49 2 -107 2 31 2 82 2 -4 2 -110 2 98 2 -50 2 36 2 -55 2 162 2 -101 2 27 2 -29 2 -4 2 -16 2 55 2 -97 2 100 2 -75 2 -36 2 189 2 -76 2 -1 2 -79 2 -39 2 -162 2 138 2 -33 2 -165 2 -20 2 22 2 32 2 -114 2 -55 2 40 2 -21 2 32 2 -53 2 -149 2 104 2 77 2 -184 2 -16 2 63 2 -129 2 39 2 -67 2 -48 2 21 2 76 2 -13 2 66 2 -85 2 25 2 -103 2 83 2 -23 2 -103 2 40 2 -4 2 -56 2 146 2 -91 2 -72 2 -56 2 99 2 -59 2 118 2 -78 2 39 2 -23 2 27 2 28 2 -141 2 87 2 0 2 -51 2 110 2 -78 2 -94 2 23 2 -37 2 31 2 18 2 -35 2 -38 2 70 2 115 2 -135 2 90 2 -116 2 129 2 -9 2 -58 2 33 2 82 2 -91 2 28 2 39 2 -9 2 -147 2 76 2 -65 2 -9 2 83 2 50 2 -95 2 77 2 -34 2 74 2 -52 2 -87 2 165 2 -158 2 75 2 -55 2 55 2 2 2 -24 2 105 2 9 2 -3 2 -105 2 89 2 -48 2 -53 2 -10 2 136 2 9 2 -30 2 -128 2 135 2 -96 2 31 2 -51 2 76 2 -41 2 62 2 68 2 -116 2 -16 2 112 2 -101 2 64 2 63 2 -11 2 51 2 -145 2 20 2 -3 2 -63 2 75 2 29 2 -67 2 111 2 -111 2 -32 2 125 2 -124 2 107 2 -27 2 -132 2 64 2 -25 2 -15 2 142 2 -69 2 54 2 28 2 -78 2 29 2 73 2 -108 2 23 2 54 2 62 2 -55 2 10 2 -140 2 140 2 -5 2 51 2 -64 2 97 2 -14 2 -62 2 51 2 15 2 -18 2 -56 2 42 2 95 2 -153 2 -9 2 50 2 63 2 -18 2 93 2 -120 2 0 2 -32 2 119 2 -92 2 48 2 -147 2 75 2 7 2 -92 2 96 2 -20 2 16 2 9 2 -29 2 107 2 -43 2 6 2 -5 2 -81 2 86 2 -103 2 191 2 -77 2 -77 2 31 2 25 2 61 2 -92 2 194 2 -87 2 -110 2 107 2 -106 2 45 2 92 2 -98 2 29 2 -60 2 36 2 65 2 -129 2 147 2 23 2 -124 2 43 2 -12 2 -60 2 138 2 18 2 -65 2 17 2 6 2 7 2 -29 2 35 2 10 2 -79 2 26 2 50 2 0 2 -69 2 59 2 -124 2 89 2 21 2 -75 2 145 2 -96 2 5 2 80 2 44 2 -42 2 -78 2 22 2 -49 2 109 2 -23 2 -59 2 -49 2 65 2 36 2 -36 2 -58 2 68 2 31 2 39 2 45 2 -139 2 84 2 10 2 -57 2 31 2 60 2 -147 2 51 2 -110 2 139 2 32 2 -104 2 130 2 -4 2 -61 2 49 2 34 2 -72 2 25 2 31 2 -6 2 10 2 -116 2 138 2 4 2 -127 2 -25 2 123 2 19 2 -6 2 18 2 -114 2 89 2 -13 2 33 2 31 2 -122 2 111 2 -79 2 -90 2 65 2 -14 2 78 2 -58 2 -2 2 30 2 -6 2 -35 2 25 2 66 2 -133 2 152 2 48 2 -167 2 97 2 -47 2 46 2 36 2 -101 2 -76 2 118 2 -25 2 -56 2 107 2 -121 2 177 2 -29 2 -41 2 -66 2 -9 2 117 2 10 2 -71 2 112 2 -122 2 74 2 10 2 40 2 -122 2 19 2 34 2 -19 2 22 2 -36 2 50 2 -80 2 65 2 31 2 -35 2 -69 2 117 2 -127 2 100 2 -4 2 -91 2 12 2 38 2 -27 2 76 2 -119 2 -1 2 48 2 41 2 -13 2 -31 2 -35 2 154 2 24 2 -71 2 -74 2 -29 2 177 2 -186 2 92 2 64 2 -104 2 -18 2 98 2 -123 2 93 2 -42 2 3 2 71 2 -54 2 -66 2 116 2 -24 2 -13 2 -72 2 -69 2 60 2 125 2 3 2 -44 2 -55 2 -18 2 -27 2 106 2 -80 2 -33 2 94 2 -52 2 76 2 -48 2 110 2 -54 2 -77 2 -28 2 94 2 20 2 -78 2 64 2 120 2 -128 2 4 2 -72 2 185 2 -145 2 32 2 51 2 21 2 -16 2 81 2 -118 2 104 2 -26 2 4 2 70 2 46 2 113 2 -69 2 154 2 -164 2 -2 2 -1 2 88 2 83 2 -100 2 -16 2 114 2 53 2 -43 2 -60 2 66 2 25 2 15 2 89 2 -5 2 26 2 39 2 -57 2 -27 2 -40 2 72 2 65 2 -113 2 104 2 -38 2 25 2 41 2 -94 2 63 2 -13 2 -67 2 168 2 -131 2 36 2 -47 2 33 2 143 2 -167 2 45 2 61 2 -79 2 71 2 -94 2 57 2 24 2 90 2 -102 2 -46 2 53 2 -30 2 45 2 -12 2 -57 2 202 2 -89 2 101 2 -167 2 33 2 50 2 -52 2 -5 2 -82 2 55 2 -97 2 109 2 -2 2 -17 2 84 2 -128 2 26 2 -53 2 85 2 -31 2 -89 2 122 2 -51 2 3 2 79 2 42 2 -77 2 81 2 10 2 -18 2 -2 2 -41 2 -33 2 17 2 14 2 89 2 -34 2 -111 2 34 2 6 2 -61 2 6 2 80 2 79 2 -37 2 -147 2 -39 2 54 2 59 2 -19 2 -113 2 13 2 55 2 -16 2 36 2 -55 2 65 2 -116 2 87 2 -27 2 -4 2 22 2 -32 2 -22 2 48 2 -37 2 77 2 11 2 -44 2 19 2 86 2 -19 2 -90 2 -32 2 123 2 -32 2 52 2 26 2 -92 2 -75 2 113 2 -17 2 -112 2 18 2 -78 2 169 2 -127 2 39 2 -68 2 128 2 -11 2 -96 2 -8 2 129 2 -120 2 54 2 -52 2 142 2 -14 2 -97 2 43 2 5 2 -86 2 44 2 -37 2 2 2 81 2 5 2 -93 2 45 2 -83 2 81 2 80 2 -68 2 -81 2 140 2 -21 2 -12 2 -101 2 8 2 11 2 -34 2 172 2 -119 2 2 2 -7 2 29 2 36 2 64 2 -41 2 -114 2 32 2 47 2 36 2 -125 2 34 2 10 2 61 2 -23 2 -31 2 14 2 -105 2 48 2 0 2 -10 2 -85 2 77 2 33 2 0 2 -72 2 112 2 -98 2 65 2 -57 2 70 2 -70 2 -48 2 43 2 108 2 -106 2 139 2 -143 2 24 2 34 2 32 2 19 2 -41 2 -33 2 36 2 32 2 -115 2 -7 2 60 2 11 2 -43 2 124 2 -12 2 -27 2 -47 2 50 2 -5 2 -26 2 -63 2 52 2 -51 2 48 2 -46 2 71 2 -88 2 -29 2 85 2 26 2 7 2 -97 2 41 2 -62 2 36 2 -21 2 95 2 -63 2 -78 2 -8 2 12 2 140 2 -106 2 90 2 -3 2 23 2 -74 2 59 2 -32 2 -20 2 -31 2 -5 2 -14 2 94 2 13 2 -30 2 -19 2 92 2 -78 2 33 2 18 2 -110 2 61 2 87 2 -96 2 -80 2 37 2 -3 2 -5 2 28 2 -26 2 74 2 -193 2 220 2 -5 2 -104 2 17 2 -15 2 -78 2 63 2 36 2 -69 2 -57 2 32 2 9 2 125 2 -93 2 -57 2 165 2 -116 2 40 2 37 2 -53 2 -55 2 104 2 -107 2 15 2 102 2 12 2 -28 2 -116 2 187 2 -77 2 -61 2 -25 2 7 2 -26 2 118 2 52 2 -103 2 -62 2 -34 2 68 2 -40 2 14 2 30 2 -47 2 76 2 6 2 -1 2 41 2 -132 2 76 2 -56 2 54 2 -92 2 178 2 -33 2 -84 2 25 2 -45 2 109 2 -17 2 -82 2 41 2 -42 2 -43 2 93 2 -4 2 -19 2 -39 2 33 2 18 2 47 2 -4 2 -21 2 -16 2 113 2 -46 2 62 2 -85 2 55 2 -2 2 53 2 -70 2 24 2 38 2 -174 2 -11 2 113 2 -16 2 -15 2 2 2 -55 2 -60 2 -49 2 84 2 131 2 -114 2 76 2 -44 2 -47 2 -84 2 91 2 24 2 13 2 32 2 -12 2 38 2 -86 2 -61 2 136 2 -4 2 32 2 22 2 30 2 12 2 -174 2 114 2 -70 2 -7 2 -7 2 102 2 -144 2 89 2 -73 2 56 2 64 2 -108 2 -60 2 78 2 -93 2 4 2 -150 2 112 2 -5 2 -107 2 40 2 -135 2 2 2 49 2 -30 2 -159 2 78 2 23 2 -33 2 -84 2 -6 2 -68 2 -40 2 73 2 -7 2 -85 2 4 2 -24 2 -47 2 -6 2 58 2 -98 2 -59 2 142 2 30 2 -61 2 -24 2 -81 2 -1 2 97 2 69 2 -66 2 -48 2 -43 2 -38 2 -35 2 37 2 81 2 -67 2 -37 2 79 2 -116 2 52 2 28 2 -33 2 3 2 32 2 -151 2 88 2 -5 2 70 2 -58 2 17 2 52 2 -133 2 53 2 106 2 -54 2 -130 2 131 2 36 2 -127 2 28 2 -60 2 92 2 18 2 -91 2 92" stroke="#ffb000" stroke-width="9.6"/>
<path transform="scale(0.25)" d="M3575 1306l2 12 2 84 2 -2 2 -100 2 33 2 27 2 58 2 -133 2 131 2 -93 2 102 2 -47 2 -39 2 -2 2 26 2 -60 2 25 2 52 2 -51 2 -101 2 128 2 19 2 -66 2 -53 2 81 2 -51 2 -6 2 -38 2 51 2 120 2 -27 2 -152 2 74 2 96 2 -61 2 17 2 2 2 -68 2 103 2 -149 2 28 2 -83 2 138 2 -80 2 -43 2 48 2 11 2 37 2 -59 2 122 2 -129 2 -4 2 72 2 33 2 -120 2 63 2 -4 2 65 2 43 2 -81 2 5 2 -58 2 147 2 -117 2 -30 2 101 2 -50 2 5 2 -45 2 27 2 -56 2 155 2 -125 2 62 2 -66 2 60 2 -48 2 59 2 -36 2 -44 2 63 2 -8 2 -82 2 109 2 -43 2 103 2 -111 2 48 2 -55 2 -37 2 40 2 -55 2 79 2 -126 2 153 2 26 2 -37 2 -110 2 157 2 14 2 -103 2 -58 2 44 2 59 2 -75 2 -28 2 21 2 135 2 4 2 -23 2 2 2 -37 2 -40 2 91 2 -56 2 30 2 -113 2 154 2 -72 2 -56 2 32 2 57 2 -108 2 33 2 -63 2 67 2 5 2 12 2 -42 2 52 2 -31 2 -21 2 39 2 11 2 -22 2 120 2 -143 2 152 2 -14 2 -29 2 35 2 -96 2 97 2 -113 2 181 2 -245 2 3 2 73 2 4 2 -55 2 -33 2 62 2 -18 2 37 2 35 2 -16 2 58 2 -174 2 39 2 44 2 35 2 -100 2 79 2 40 2 -45 2 35 2 -53 2 -55 2 -73 2 -38 2 16 2 -20 2 -11 2 -68 2 107 2 -35 2 -129 2 11 2 100 2 -63 2 -3 2 -26 2 -75 2 -88 2 181 2 -32 2 -182 2 144 2 7 2 -13 2 -124 2 -67 2 0 2 -56 2 95 2 -24 2 -52 2 -24 2 86 2 -70 2 -32 2 99 2 -39 2 -89 2 -17 2 -14 2 6 2 92 2 -140 2 156 2 -185 2 36 2 49 2 -115 2 126 2 13 2 -61 2 21 2 28 2 -31 2 -189 2 104 2 -53 2 53 2 49 2 -12 2 22 2 -33 2 -15 2 31 2 40 2 41 2 -73 2 -27 2 -143 2 33 2 60 2 -11 2 -118 2 116 2 23 2 -98 2 88 2 19 2 -22 2 40 2 -64 2 -19 2 72 2 -108 2 -31 2 149 2 -56 2 -93 2 -1 2 20 2 74 2 -7 2 25 2 -121 2 51 2 -15 2 50 2 -61 2 -61 2 233 2 -168 2 76 2 25 2 -50 2 72 2 38 2 -211 2 102 2 84 2 -34 2 4 2 12 2 -80 2 91 2 -98 2 17 2 48 2 25 2 -32 2 39 2 14 2 -157 2 100 2 -1 2 48 2 -143 2 131 2 -68 2 16 2 -82 2 149 2 -27 2 9 2 -114 2 62 2 64 2 -97 2 -36 2 -29 2 5 2 96 2 -44 2 32 2 28 2 53 2 35 2 18 2 -156 2 -21 2 138 2 -107 2 178 2 8 2 -79 2 -68 2 111 2 -147 2 96 2 -99 2 -5 2 53 2 -60 2 31 2 82 2 -16 2 46 2 -63 2 32 2 -40 2 18 2 -79 2 48 2 25 2 65 2 -119 2 -7 2 83 2 51 2 -84 2 -25 2 53 2 17 2 -53 2 77 2 -106 2 129 2 -26 2 10 2 45 2 -55 2 -16 2 -40 2 4 2 34 2 34 2 -16 2 -38 2 -24 2 18 2 92 2 -136 2 70 2 51 2 -119 2 89 2 15 2 -39 2 107 2 8 2 -77 2 -52 2 59 2 -21 2 67 2 -173 2 145 2 -56 2 -13 2 20 2 83 2 -117 2 75 2 51 2 27 2 -23 2 35 2 -57 2 -39 2 9 2 36 2 6 2 2 2 -1 2 -85 2 105 2 -11 2 12 2 -102 2 52 2 3 2 -26 2 -57 2 91 2 63 2 -85 2 -8 2 -54 2 113 2 -5 2 -10 2 -1 2 -59 2 -37 2 110 2 -38 2 -44 2 21 2 103 2 -50 2 82 2 -181 2 140 2 -17 2 -26 2 -91 2 -13 2 127 2 -99 2 135 2 -71 2 23 2 -120 2 7 2 23 2 19 2 64 2 -111 2 199 2 -79 2 -15 2 40 2 -85 2 95 2 39 2 -90 2 -78 2 142 2 55 2 -38 2 -133 2 219 2 -188 2 74 2 -31 2 64 2 11 2 -8 2 -117 2 80 2 -38 2 -78 2 197 2 -165 2 20 2 11 2 74 2 -122 2 71 2 78 2 -10 2 -55 2 -31 2 -10 2 69 2 -113 2 149 2 47 2 -111 2 3 2 69 2 57 2 -152 2 54 2 57 2 -109 2 17 2 64 2 -45 2 95 2 -147 2 66 2 29 2 13 2 -13 2 -53 2 -22 2 60 2 -12 2 24 2 -17 2 6 2 0 2 -59 2 -42 2 124 2 -98 2 126 2 -7 2 38 2 -69 2 -56 2 65 2 61 2 -118 2 65 2 -108 2 68 2 -29 2 -13 2 -36 2 24 2 -13 2 45 2 -59 2 -24 2 162 2 -90 2 18 2 -68 2 112 2 -19 2 -29 2 101 2 -39 2 -73 2 108 2 2 2 -35 2 -16 2 -69 2 34 2 -26 2 -10 2 34 2 -74 2 43 2 61 2 -91 2 188 2 -142 2 67 2 -42 2 41 2 -80 2 12 2 51 2 100 2 -99 2 10 2 39 2 -56 2 -23 2 113 2 -85 2 -5 2 -15 2 55 2 -108 2 151 2 -6 2 -70 2 18 2 -110 2 88 2 -32 2 15 2 26 2 -9 2 -47 2 47 2 -128 2 64 2 135 2 -19 2 8 2 -21 2 59 2 23 2 22 2 37 2 7 2 -59 2 -14 2 -4 2 39 2 67 2 92 2 -102 2 169 2 39 2 -54 2 12 2 -45 2 55 2 -85 2 58 2 141 2 -94 2 52 2 69 2 -39 2 28 2 -67 2 53 2 36 2 13 2 2 2 -39 2 -35 2 210 2 -57 2 -104 2 65 2 1 2 0 2 -58 2 69 2 -38 2 -23 2 127 2 -124 2 53 2 165 2 -156 2 88 2 42 2 -90 2 4 2 36 2 37 2 -27 2 -65 2 -8 2 39 2 45 2 -62 2 4 2 100 2 21 2 -110 2 52 2 -66 2 118 2 -151 2 142 2 -34 2 14 2 -26 2 -42 2 38 2 -21 2 -43 2 107 2 -78 2 66 2 -99 2 13 2 139 2 -163 2 53 2 76 2 31 2 -109 2 104 2 -61 2 57 2 -109 2 81 2 -44 2 -4 2 48 2 -118 2 142 2 -14 2 -42 2 25 2 -2 2 -5 2 4 2 -15 2 -115 2 115 2 64 2 -155 2 116 2 -119 2 133 2 -73 2 12 2 -21 2 48 2 61 2 -2 2 14 2 -101 2 53 2 -6 2 13 2 56 2 -86 2 -102 2 117 2 -47 2 16 2 -66 2 159 2 -20 2 -100 2 0 2 15 2 -52 2 91 2 -47 2 55 2 -68 2 53 2 -101 2 -19 2 68 2 5 2 48 2 -34 2 20 2 140 2 -107 2 9 2 -28 2 95 2 34 2 21 2 -154 2 -56 2 7 2 195 2 -145 2 -123 2 128 2 23 2 -118 2 91 2 -58 2 105 2 -16 2 -118 2 -11 2 118 2 -108 2 70 2 38 2 -171 2 97 2 -40 2 31 2 0 2 -49 2 28 2 55 2 15 2 -139 2 108 2 44 2 -77 2 100 2 -101 2 17 2 -59 2 169 2 -152 2 45 2 -59 2 22 2 6 2 -15 2 1 2 -52 2 47 2 31 2 36 2 1 2 -59 2 108 2 -107 2 126 2 -141 2 146 2 -156 2 -52 2 99 2 28 2 50 2 -164 2 104 2 -50 2 -77 2 39 2 121 2 -110 2 15 2 -15 2 9 2 123 2 -80 2 -34 2 89 2 -89 2 98 2 -34 2 40 2 -77 2 108 2 -138 2 139 2 -149 2 85 2 -53 2 -44 2 -45 2 134 2 29 2 5 2 -92 2 -54 2 -3 2 -19 2 119 2 -133 2 133 2 -75 2 89 2 -120 2 89 2 -131 2 18 2 14 2 22 2 48 2 -10 2 82 2 -37 2 -5 2 63 2 -107 2 -19 2 29 2 -104 2 117 2 -66 2 -13 2 34 2 131 2 -17 2 -110 2 91 2 -81 2 -30 2 99 2 -38 2 35 2 -91 2 141 2 -196 2 88 2 -18 2 57 2 -131 2 67 2 -9 2 -21 2 8 2 152 2 -140 2 46 2 34 2 -120 2 24 2 -44 2 42 2 -46 2 116 2 -157 2 123 2 -44 2 29 2 15 2 -29 2 9 2 33 2 -33 2 -52 2 173 2 -80 2 67 2 -88 2 -15 2 -1 2 128 2 -161 2 -37 2 -28 2 83 2 54 2 -15 2 -29 2 -104 2 121 2 -19 2 13 2 18 2 -61 2 -4 2 57 2 12 2 60 2 -90 2 38 2 -63 2 -76 2 166 2 -120 2 -36 2 22 2 68 2 -76 2 50 2 -20 2 81 2 -89 2 -51 2 134 2 -59 2 -35 2 66 2 -77 2 102 2 -45 2 -113 2 8 2 81 2 88 2 -121 2 74 2 22 2 -26 2 -57 2 57 2 -85 2 15 2 14 2 41 2 -91 2 197 2 -148 2 9 2 119 2 -64 2 8 2 31 2 12 2 -63 2 -7 2 92 2 -154 2 15 2 4 2 12 2 -32 2 42 2 -12 2 58 2 -54 2 -26 2 87 2 -19 2 -76 2 143 2 3 2 -136 2 12 2 -50 2 84 2 14 2 39 2 -10 2 -111 2 58 2 -11 2 -35 2 43 2 -16 2 81 2 -59 2 11 2 -50 2 105 2 -62 2 -11 2 -11 2 37 2 -29 2 74 2 -112 2 83 2 -8 2 -108 2 2 2 -30 2 -75 2 -82 2 91 2 -24 2 -69 2 -90 2 119 2 -141 2 -4 2 135 2 -170 2 99 2 -149 2 32 2 35 2 -7 2 -73 2 61 2 -92 2 70 2 -143 2 154 2 11 2 -257 2 103 2 75 2 -65 2 -73 2 -50 2 62 2 39 2 -27 2 11 2 19 2 -8 2 -3 2 -4 2 17 2 -141 2 162 2 -80 2 -16 2 46 2 -35 2 58 2 2 2 -88 2 46 2 -204 2 208 2 -173 2 79 2 43 2 -135 2 -42 2 199 2 -100 2 -26 2 -9 2 125 2 -36 2 -81 2 15 2 61 2 -46 2 50 2 -105 2 -13 2 131 2 -172" stroke="#00963c" stroke-width="9.6"/>
<path transform="scale(0.25)" d="M3575 1430l2 -122 2 -45 2 85 2 -6 2 124 2 -75 2 7 2 16 2 14 2 -135 2 5 2 122 2 27 2 -122 2 92 2 -87 2 -50 2 141 2 -2 2 3 2 -111 2 101 2 -52 2 -52 2 15 2 17 2 85 2 -162 2 98 2 47 2 31 2 -67 2 -7 2 14 2 -16 2 -82 2 116 2 -78 2 131 2 -20 2 -147 2 103 2 -4 2 3 2 -8 2 37 2 -31 2 -55 2 -9 2 56 2 -114 2 54 2 -25 2 100 2 -82 2 5 2 120 2 -212 2 143 2 51 2 -218 2 90 2 -22 2 50 2 -74 2 103 2 31 2 -63 2 -10 2 119 2 -103 2 128 2 -133 2 7 2 48 2 12 2 -43 2 -16 2 68 2 -114 2 161 2 -92 2 54 2 -38 2 3 2 -7 2 86 2 -175 2 7 2 70 2 -53 2 89 2 -88 2 57 2 11 2 36 2 -40 2 -39 2 -24 2 46 2 -83 2 27 2 131 2 -15 2 -11 2 -21 2 30 2 -203 2 160 2 -59 2 94 2 -96 2 97 2 -167 2 143 2 -45 2 -69 2 -13 2 139 2 -101 2 85 2 6 2 -66 2 -14 2 -63 2 56 2 73 2 -9 2 -3 2 10 2 -40 2 -17 2 66 2 -18 2 37 2 11 2 -29 2 -21 2 -23 2 -89 2 2 2 47 2 -15 2 -27 2 108 2 -91 2 84 2 -49 2 39 2 38 2 -35 2 40 2 -15 2 -66 2 47 2 -68 2 86 2 -117 2 179 2 -104 2 -28 2 39 2 -13 2 -3 2 -31 2 -23 2 11 2 -67 2 112 2 -152 2 -5 2 16 2 -49 2 6 2 -58 2 79 2 -119 2 20 2 -1 2 -57 2 -51 2 77 2 -65 2 116 2 -56 2 33 2 -129 2 74 2 -37 2 -80 2 175 2 -67 2 -79 2 -34 2 93 2 -4 2 -17 2 21 2 -136 2 -20 2 87 2 -155 2 153 2 -74 2 43 2 -114 2 -32 2 69 2 5 2 -2 2 -95 2 51 2 21 2 -55 2 59 2 -52 2 88 2 -37 2 -54 2 66 2 -21 2 -89 2 8 2 28 2 -16 2 46 2 -84 2 32 2 -84 2 56 2 28 2 39 2 -10 2 -95 2 -26 2 92 2 -107 2 101 2 -26 2 -60 2 84 2 -79 2 26 2 -100 2 35 2 32 2 -18 2 5 2 5 2 19 2 71 2 -94 2 90 2 -104 2 16 2 92 2 -172 2 132 2 -140 2 96 2 -87 2 24 2 26 2 72 2 -169 2 164 2 47 2 -99 2 50 2 -7 2 -169 2 164 2 52 2 -35 2 52 2 -101 2 26 2 9 2 -28 2 -2 2 -59 2 -28 2 125 2 20 2 -120 2 41 2 -86 2 41 2 31 2 34 2 -90 2 100 2 25 2 -10 2 -93 2 -28 2 -8 2 -35 2 167 2 -115 2 -67 2 89 2 -3 2 -18 2 84 2 -2 2 -98 2 96 2 5 2 16 2 -4 2 -74 2 4 2 105 2 11 2 -38 2 -99 2 -9 2 85 2 -87 2 72 2 66 2 2 2 -81 2 111 2 -57 2 39 2 4 2 -124 2 -5 2 18 2 55 2 31 2 -6 2 -99 2 118 2 -95 2 31 2 -24 2 -31 2 38 2 43 2 46 2 -91 2 103 2 -88 2 91 2 -81 2 -61 2 35 2 21 2 133 2 -70 2 17 2 -25 2 32 2 8 2 21 2 -91 2 -8 2 -15 2 -5 2 29 2 -46 2 107 2 -111 2 13 2 85 2 -25 2 83 2 -17 2 -55 2 -42 2 19 2 72 2 -47 2 -41 2 -39 2 66 2 35 2 -99 2 23 2 36 2 105 2 -156 2 88 2 -30 2 -15 2 -17 2 43 2 -2 2 4 2 51 2 36 2 -128 2 102 2 11 2 -32 2 -100 2 32 2 68 2 -52 2 136 2 -92 2 -50 2 2 2 108 2 -73 2 64 2 -142 2 -9 2 151 2 46 2 -165 2 -19 2 36 2 9 2 35 2 21 2 -103 2 5 2 6 2 98 2 10 2 -73 2 -5 2 80 2 -70 2 -14 2 111 2 -23 2 -88 2 100 2 -119 2 63 2 -85 2 45 2 -29 2 50 2 42 2 -27 2 19 2 -50 2 -20 2 7 2 -40 2 130 2 -18 2 -71 2 145 2 -99 2 -40 2 81 2 -16 2 -69 2 127 2 -31 2 -75 2 24 2 7 2 56 2 -60 2 -46 2 18 2 33 2 59 2 -56 2 67 2 -72 2 85 2 -117 2 93 2 -67 2 -89 2 97 2 54 2 -32 2 22 2 -85 2 53 2 5 2 102 2 -75 2 63 2 22 2 42 2 -139 2 -65 2 57 2 17 2 2 2 43 2 -20 2 -81 2 156 2 -78 2 -4 2 -53 2 21 2 2 2 49 2 -66 2 -5 2 -9 2 -33 2 43 2 -44 2 107 2 -64 2 34 2 -39 2 147 2 -139 2 34 2 48 2 70 2 0 2 -155 2 153 2 -134 2 108 2 -81 2 67 2 -39 2 34 2 29 2 6 2 -114 2 9 2 134 2 -114 2 1 2 20 2 83 2 -77 2 -45 2 72 2 11 2 1 2 -17 2 -127 2 44 2 4 2 64 2 -90 2 29 2 5 2 70 2 44 2 10 2 -96 2 115 2 3 2 -95 2 48 2 7 2 -4 2 -101 2 32 2 73 2 -57 2 -42 2 158 2 -53 2 16 2 -78 2 -9 2 -41 2 164 2 -89 2 40 2 103 2 -133 2 -4 2 7 2 26 2 -113 2 119 2 -116 2 113 2 2 2 -66 2 121 2 -107 2 16 2 -26 2 88 2 -52 2 29 2 -60 2 0 2 20 2 -7 2 -17 2 88 2 43 2 -79 2 123 2 1 2 -89 2 35 2 -11 2 43 2 69 2 2 2 25 2 -2 2 103 2 -46 2 47 2 17 2 -47 2 -20 2 -50 2 76 2 -39 2 51 2 -57 2 117 2 -24 2 -80 2 44 2 79 2 -33 2 55 2 22 2 -50 2 1 2 138 2 -72 2 44 2 -43 2 -15 2 -26 2 94 2 72 2 -93 2 78 2 -114 2 91 2 -47 2 32 2 7 2 -85 2 62 2 76 2 -112 2 92 2 -23 2 -75 2 115 2 -144 2 54 2 143 2 -5 2 -16 2 38 2 -53 2 51 2 -112 2 31 2 -4 2 20 2 -15 2 32 2 6 2 -9 2 2 2 -32 2 46 2 -41 2 -64 2 13 2 45 2 76 2 -17 2 13 2 -66 2 69 2 44 2 24 2 -145 2 145 2 -63 2 26 2 51 2 -89 2 -85 2 48 2 77 2 47 2 -53 2 -99 2 99 2 -93 2 82 2 31 2 -59 2 -32 2 94 2 -20 2 31 2 -15 2 -117 2 62 2 73 2 -114 2 -34 2 50 2 -9 2 57 2 27 2 -132 2 14 2 59 2 0 2 -56 2 -73 2 13 2 77 2 10 2 -93 2 160 2 -64 2 -1 2 -52 2 52 2 34 2 1 2 -65 2 86 2 -67 2 100 2 -135 2 38 2 21 2 -20 2 -12 2 -11 2 40 2 -52 2 97 2 20 2 -8 2 -70 2 58 2 -26 2 45 2 -60 2 5 2 62 2 -28 2 -23 2 -72 2 22 2 -80 2 126 2 77 2 -5 2 -128 2 97 2 -72 2 -67 2 102 2 -20 2 -50 2 61 2 -6 2 34 2 -11 2 26 2 16 2 -26 2 -71 2 17 2 39 2 -55 2 -30 2 -56 2 137 2 -63 2 43 2 -30 2 -47 2 73 2 29 2 16 2 -137 2 142 2 -156 2 88 2 -38 2 75 2 -98 2 -49 2 160 2 -83 2 120 2 -31 2 -32 2 16 2 44 2 -139 2 69 2 -45 2 35 2 9 2 16 2 -115 2 91 2 -46 2 7 2 -5 2 -67 2 129 2 12 2 -37 2 -62 2 24 2 91 2 -66 2 90 2 -15 2 -74 2 -13 2 53 2 -27 2 -63 2 62 2 -23 2 -14 2 73 2 1 2 -89 2 -53 2 59 2 -48 2 44 2 68 2 13 2 -113 2 92 2 -50 2 31 2 5 2 11 2 -73 2 -39 2 147 2 -137 2 -11 2 106 2 -49 2 36 2 -3 2 -26 2 -3 2 -45 2 73 2 -96 2 192 2 -78 2 18 2 4 2 -87 2 152 2 -163 2 77 2 -81 2 85 2 -19 2 24 2 -56 2 50 2 -28 2 19 2 -84 2 154 2 -45 2 -67 2 -19 2 -3 2 95 2 -13 2 47 2 12 2 -80 2 36 2 -75 2 69 2 21 2 23 2 -113 2 -10 2 91 2 -46 2 39 2 -126 2 161 2 10 2 -156 2 -25 2 89 2 -20 2 7 2 -7 2 79 2 -79 2 44 2 -8 2 -33 2 -52 2 137 2 -38 2 -15 2 14 2 67 2 4 2 -147 2 38 2 42 2 -29 2 104 2 -96 2 -38 2 59 2 -5 2 -29 2 -30 2 44 2 -129 2 57 2 27 2 -44 2 35 2 11 2 -42 2 80 2 6 2 -35 2 -25 2 27 2 -2 2 74 2 -93 2 23 2 69 2 -134 2 27 2 -20 2 83 2 -44 2 21 2 96 2 -4 2 -157 2 132 2 30 2 -64 2 57 2 -51 2 -74 2 114 2 -172 2 30 2 -40 2 56 2 67 2 -89 2 24 2 140 2 -67 2 -40 2 62 2 -122 2 158 2 -83 2 11 2 -9 2 -67 2 -20 2 -8 2 -6 2 107 2 -64 2 -17 2 91 2 -30 2 5 2 -96 2 41 2 -56 2 72 2 -37 2 -37 2 138 2 -168 2 170 2 -38 2 72 2 -148 2 58 2 -40 2 104 2 -135 2 -16 2 125 2 -13 2 29 2 -112 2 70 2 -44 2 37 2 83 2 -77 2 -15 2 -68 2 10 2 31 2 8 2 -140 2 118 2 -69 2 -35 2 -98 2 85 2 -55 2 112 2 -37 2 -102 2 -50 2 -21 2 86 2 1 2 -36 2 4 2 -125 2 75 2 -83 2 15 2 -74 2 24 2 45 2 -160 2 8 2 97 2 14 2 -5 2 68 2 -81 2 -21 2 -55 2 90 2 -56 2 -38 2 16 2 54 2 71 2 -84 2 -53 2 59 2 -117 2 77 2 -60 2 111 2 -45 2 -142 2 -30 2 -2 2 12 2 28 2 -4 2 57 2 -14 2 -13 2 33 2 -41 2 61 2 -154 2 71 2 -95 2 123 2 -99 2 15 2 33 2 -23 2 11 2 6 2 -28 2 -23 2 -38 2 -37" stroke="#40bfff" stroke-width="9.6"/>
<path transform="scale(0.25)" d="M3575 1273l2 11 2 -6 2 -25 2 -8 2 10 2 -11 2 -4 2 26 2 -9 2 -21 2 -21 2 -5 2 8 2 -1 2 23 2 9 2 -21 2 17 2 -9 2 14 2 8 2 2 2 0 2 -8 2 14 2 -22 2 18 2 -14 2 24 2 -6 2 7 2 -26 2 6 2 25 2 -9 2 2 2 -9 2 23 2 -59 2 25 2 5 2 1 2 3 2 -17 2 33 2 -13 2 -10 2 -21 2 25 2 -26 2 27 2 -25 2 16 2 3 2 9 2 0 2 -7 2 -21 2 4 2 31 2 -50 2 56 2 -13 2 -22 2 -2 2 -14 2 -7 2 22 2 -31 2 45 2 -1 2 -21 2 -4 2 22 2 -19 2 3 2 -16 2 16 2 -33 2 -9 2 19 2 -1 2 -10 2 32 2 -5 2 9 2 -36 2 32 2 7 2 -6 2 -9 2 -1 2 17 2 10 2 8 2 8 2 -5 2 -30 2 10 2 -10 2 48 2 -47 2 19 2 2 2 5 2 -56 2 28 2 -19 2 -7 2 32 2 15 2 -50 2 34 2 -5 2 -3 2 -10 2 -15 2 39 2 -27 2 18 2 -43 2 16 2 21 2 -33 2 17 2 -3 2 -3 2 18 2 24 2 -16 2 -3 2 12 2 -26 2 40 2 9 2 -18 2 -22 2 12 2 -17 2 -1 2 -9 2 23 2 -35 2 34 2 4 2 -16 2 -27 2 33 2 -34 2 27 2 -10 2 36 2 -37 2 24 2 -10 2 -15 2 2 2 -17 2 42 2 -29 2 0 2 9 2 9 2 -17 2 19 2 -46 2 -12 2 11 2 -30 2 -23 2 32 2 -45 2 29 2 -37 2 -3 2 -17 2 8 2 -1 2 -35 2 -31 2 22 2 -12 2 -18 2 -1 2 -25 2 33 2 -64 2 19 2 -34 2 26 2 -17 2 6 2 -51 2 23 2 -3 2 -26 2 16 2 -4 2 31 2 -39 2 11 2 16 2 -21 2 13 2 -25 2 -32 2 7 2 4 2 -36 2 -16 2 11 2 -1 2 11 2 -57 2 41 2 -7 2 -23 2 23 2 -10 2 -13 2 -37 2 52 2 -20 2 -3 2 -24 2 36 2 -27 2 2 2 -26 2 8 2 -25 2 52 2 -6 2 -56 2 22 2 -21 2 21 2 -1 2 -21 2 2 2 -10 2 15 2 -11 2 22 2 -19 2 -2 2 14 2 -28 2 19 2 -26 2 44 2 -54 2 29 2 -36 2 44 2 7 2 -19 2 1 2 0 2 -10 2 2 2 1 2 4 2 -31 2 5 2 18 2 27 2 -40 2 36 2 -12 2 -26 2 3 2 4 2 -6 2 -10 2 33 2 -42 2 11 2 -7 2 20 2 17 2 -29 2 -4 2 14 2 14 2 -31 2 -9 2 6 2 11 2 9 2 -16 2 7 2 -8 2 -5 2 28 2 10 2 -32 2 33 2 -35 2 -7 2 38 2 -45 2 9 2 -9 2 34 2 -12 2 -27 2 30 2 -26 2 -15 2 22 2 16 2 -5 2 -13 2 24 2 -7 2 -6 2 33 2 -50 2 44 2 -7 2 -12 2 6 2 2 2 8 2 -5 2 17 2 -36 2 15 2 12 2 3 2 -32 2 2 2 -3 2 15 2 12 2 -40 2 36 2 3 2 8 2 -17 2 -3 2 27 2 -14 2 5 2 6 2 -13 2 10 2 -12 2 -9 2 -20 2 2 2 13 2 6 2 15 2 15 2 -49 2 0 2 -8 2 -1 2 8 2 47 2 -34 2 -4 2 33 2 -22 2 -25 2 13 2 39 2 1 2 -15 2 -6 2 4 2 -12 2 38 2 -6 2 3 2 7 2 -25 2 14 2 -23 2 2 2 11 2 11 2 10 2 10 2 -40 2 18 2 12 2 -29 2 -12 2 13 2 -21 2 22 2 0 2 -21 2 22 2 17 2 -29 2 -3 2 14 2 -5 2 30 2 -12 2 17 2 -13 2 -2 2 6 2 6 2 -31 2 1 2 19 2 15 2 -16 2 -14 2 -14 2 13 2 19 2 -19 2 36 2 -29 2 -7 2 11 2 18 2 -1 2 -30 2 5 2 -13 2 48 2 -27 2 4 2 -19 2 24 2 -28 2 38 2 -14 2 -7 2 1 2 -3 2 4 2 -10 2 3 2 30 2 -3 2 -41 2 24 2 22 2 -8 2 12 2 -23 2 11 2 5 2 -3 2 23 2 -22 2 -23 2 41 2 -32 2 12 2 22 2 -15 2 -23 2 4 2 22 2 -29 2 14 2 -12 2 -15 2 24 2 -17 2 -3 2 31 2 -23 2 3 2 34 2 11 2 -30 2 -19 2 11 2 24 2 21 2 9 2 -19 2 26 2 -61 2 0 2 39 2 -8 2 -19 2 37 2 -4 2 0 2 4 2 -13 2 -12 2 14 2 14 2 0 2 -16 2 6 2 -38 2 41 2 -20 2 15 2 -11 2 -11 2 37 2 -16 2 18 2 -5 2 -19 2 -31 2 11 2 5 2 33 2 -15 2 14 2 3 2 -41 2 0 2 -3 2 49 2 -40 2 15 2 5 2 -6 2 31 2 -46 2 56 2 -20 2 -28 2 27 2 6 2 4 2 -11 2 -9 2 4 2 -10 2 40 2 -37 2 10 2 28 2 -27 2 31 2 -26 2 -25 2 3 2 48 2 -18 2 16 2 -31 2 23 2 -11 2 -3 2 1 2 -27 2 -13 2 26 2 -34 2 21 2 40 2 -21 2 -13 2 47 2 -36 2 -20 2 44 2 -3 2 14 2 -13 2 -4 2 -13 2 -11 2 32 2 -38 2 32 2 -11 2 -5 2 30 2 -34 2 26 2 4 2 -13 2 -18 2 13 2 -5 2 -3 2 17 2 8 2 0 2 2 2 27 2 -18 2 37 2 4 2 2 2 16 2 -19 2 22 2 33 2 -31 2 22 2 -14 2 -5 2 24 2 -5 2 21 2 11 2 9 2 21 2 16 2 -27 2 33 2 -20 2 37 2 -16 2 5 2 25 2 3 2 30 2 0 2 15 2 -9 2 -19 2 33 2 22 2 -34 2 34 2 -12 2 22 2 4 2 12 2 -4 2 11 2 19 2 -38 2 -5 2 6 2 14 2 23 2 -27 2 34 2 3 2 -7 2 4 2 -32 2 14 2 3 2 21 2 0 2 7 2 -16 2 40 2 -16 2 31 2 -11 2 -16 2 11 2 0 2 -19 2 13 2 14 2 20 2 16 2 -13 2 10 2 -12 2 -18 2 9 2 31 2 -5 2 18 2 -12 2 -13 2 11 2 -23 2 22 2 16 2 0 2 -28 2 17 2 -12 2 -27 2 33 2 14 2 -31 2 25 2 -10 2 2 2 -13 2 35 2 -6 2 -13 2 8 2 23 2 -12 2 -15 2 -8 2 21 2 32 2 -22 2 -2 2 22 2 -35 2 -4 2 0 2 15 2 24 2 -35 2 17 2 18 2 13 2 -60 2 33 2 -21 2 0 2 33 2 9 2 -4 2 8 2 12 2 -63 2 -8 2 40 2 19 2 -7 2 -32 2 3 2 -13 2 2 2 36 2 -11 2 1 2 -7 2 37 2 -13 2 -5 2 -27 2 17 2 20 2 -43 2 53 2 -32 2 5 2 -5 2 11 2 -5 2 11 2 -7 2 -22 2 31 2 -21 2 -15 2 21 2 17 2 -51 2 28 2 12 2 -23 2 33 2 -22 2 16 2 -45 2 9 2 13 2 7 2 10 2 -9 2 11 2 -12 2 -21 2 -14 2 4 2 17 2 13 2 0 2 25 2 -2 2 -16 2 -10 2 -19 2 10 2 -2 2 23 2 -48 2 43 2 -17 2 11 2 6 2 6 2 -18 2 -18 2 -8 2 37 2 7 2 14 2 -31 2 -28 2 15 2 21 2 -14 2 41 2 -12 2 -43 2 11 2 26 2 5 2 -8 2 30 2 -11 2 -5 2 2 2 -38 2 30 2 5 2 -27 2 1 2 7 2 7 2 -3 2 -22 2 18 2 -16 2 9 2 -16 2 -14 2 20 2 6 2 19 2 -9 2 -14 2 -15 2 25 2 3 2 -48 2 48 2 -12 2 3 2 13 2 -23 2 20 2 6 2 -36 2 21 2 18 2 -30 2 30 2 -11 2 -23 2 -2 2 -7 2 57 2 -1 2 -50 2 0 2 11 2 -25 2 29 2 17 2 -15 2 33 2 1 2 -11 2 -21 2 -19 2 54 2 -58 2 46 2 -7 2 -29 2 11 2 -1 2 -23 2 19 2 17 2 -18 2 23 2 -47 2 53 2 4 2 -22 2 8 2 8 2 7 2 -26 2 -19 2 -7 2 -11 2 34 2 15 2 -26 2 -9 2 8 2 2 2 0 2 5 2 -39 2 35 2 -8 2 -16 2 -3 2 8 2 -20 2 6 2 11 2 -12 2 18 2 5 2 26 2 -22 2 0 2 -30 2 3 2 17 2 -30 2 23 2 -23 2 4 2 30 2 -31 2 7 2 29 2 -10 2 -7 2 -5 2 23 2 11 2 -34 2 5 2 -8 2 21 2 -20 2 22 2 10 2 -6 2 15 2 -34 2 9 2 31 2 -27 2 15 2 -25 2 29 2 -3 2 -29 2 -2 2 -18 2 15 2 -4 2 -19 2 -5 2 31 2 18 2 -36 2 -14 2 36 2 -4 2 11 2 -34 2 31 2 11 2 -32 2 22 2 18 2 -16 2 -16 2 23 2 -2 2 -30 2 26 2 5 2 -27 2 26 2 -18 2 -18 2 18 2 19 2 7 2 -34 2 32 2 -26 2 18 2 -21 2 20 2 -38 2 26 2 -29 2 23 2 2 2 -32 2 40 2 -20 2 -9 2 16 2 8 2 6 2 -33 2 42 2 -28 2 12 2 -25 2 8 2 26 2 -24 2 16 2 24 2 -21 2 -3 2 6 2 -15 2 3 2 12 2 11 2 -8 2 -18 2 21 2 -49 2 -33 2 41 2 -54 2 0 2 -5 2 -11 2 -36 2 -11 2 -10 2 1 2 23 2 -14 2 -34 2 22 2 -10 2 -6 2 -7 2 -30 2 -20 2 10 2 2 2 -54 2 51 2 -43 2 -36 2 33 2 -6 2 -21 2 9 2 -38 2 2 2 -27 2 39 2 -3 2 -26 2 -12 2 -3 2 5 2 -5 2 8 2 -25 2 29 2 -18 2 -25 2 -19 2 -8 2 35 2 -36 2 -5 2 27 2 -40 2 -2 2 6 2 -1 2 -29 2 20 2 -34 2 9 2 7 2 -26 2 13 2 -13 2 28 2 -25 2 23 2 -46 2 6 2 21 2 7 2 -26 2 -6 2 6 2 -4 2 -10 2 18" stroke="#000099" stroke-width="21.6"/>
</g>
<rect x="894.5" y="29.9" width="544.3" height="427.4" fill="none" stroke="#000" stroke-width="2.9" stroke-linejoin="round"/>
<line x1="869.5" y1="29.9" x2="894.5" y2="29.9" stroke="#000" stroke-width="2.9" stroke-linecap="round"/>
<text x="857" y="42.1" font-size="34.5" text-anchor="end" font-weight="normal" >150</text>
<line x1="869.5" y1="103.5" x2="894.5" y2="103.5" stroke="#000" stroke-width="2.9" stroke-linecap="round"/>
<text x="857" y="115.7" font-size="34.5" text-anchor="end" font-weight="normal" >100</text>
<line x1="869.5" y1="177.2" x2="894.5" y2="177.2" stroke="#000" stroke-width="2.9" stroke-linecap="round"/>
<text x="857" y="189.4" font-size="34.5" text-anchor="end" font-weight="normal" >50</text>
<line x1="869.5" y1="250.8" x2="894.5" y2="250.8" stroke="#000" stroke-width="2.9" stroke-linecap="round"/>
<text x="857" y="263.0" font-size="34.5" text-anchor="end" font-weight="normal" >0</text>
<line x1="869.5" y1="324.4" x2="894.5" y2="324.4" stroke="#000" stroke-width="2.9" stroke-linecap="round"/>
<text x="857" y="336.6" font-size="34.5" text-anchor="end" font-weight="normal" >-50</text>
<line x1="869.5" y1="398.1" x2="894.5" y2="398.1" stroke="#000" stroke-width="2.9" stroke-linecap="round"/>
<text x="857" y="410.3" font-size="34.5" text-anchor="end" font-weight="normal" >-100</text>
<line x1="976.3" y1="457.3" x2="976.3" y2="482" stroke="#000" stroke-width="2.9" stroke-linecap="round"/>
<text x="976.3" y="527.8" font-size="34.5" text-anchor="middle" font-weight="normal" >0.0</text>
<line x1="1186.2" y1="457.3" x2="1186.2" y2="482" stroke="#000" stroke-width="2.9" stroke-linecap="round"/>
<text x="1186.2" y="527.8" font-size="34.5" text-anchor="middle" font-weight="normal" >12.7</text>
<line x1="1396.0" y1="457.3" x2="1396.0" y2="482" stroke="#000" stroke-width="2.9" stroke-linecap="round"/>
<text x="1396.0" y="527.8" font-size="34.5" text-anchor="middle" font-weight="normal" >25.4</text>
<text x="1166.6" y="579.6" font-size="34.5" text-anchor="middle" font-weight="normal" >t / ms</text>
<text transform="translate(794.8,309.0) rotate(-90)" font-size="34.5" font-weight="normal">I</text>
<text transform="translate(803.0,300.5) rotate(-90)" font-size="24.5" font-weight="normal">PC</text>
<text transform="translate(794.8,258.2) rotate(-90)" font-size="34.5" font-weight="normal">/ pA</text>
<line x1="1215.4" y1="54.8" x2="1276.8" y2="54.8" stroke="#ff0000" stroke-width="2"/>
<text x="1291" y="67.0" font-size="34.5" text-anchor="start" font-weight="normal" >66ºC</text>
<line x1="1215.4" y1="93.5" x2="1276.8" y2="93.5" stroke="#ffb000" stroke-width="2"/>
<text x="1291" y="105.7" font-size="34.5" text-anchor="start" font-weight="normal" >47ºC</text>
<line x1="1215.4" y1="132.2" x2="1276.8" y2="132.2" stroke="#00963c" stroke-width="2"/>
<text x="1291" y="144.4" font-size="34.5" text-anchor="start" font-weight="normal" >38ºC</text>
<line x1="1215.4" y1="170.9" x2="1276.8" y2="170.9" stroke="#40bfff" stroke-width="2"/>
<text x="1291" y="183.1" font-size="34.5" text-anchor="start" font-weight="normal" >30ºC</text>
<line x1="1215.4" y1="209.6" x2="1276.8" y2="209.6" stroke="#000099" stroke-width="3.5"/>
<text x="1291" y="221.8" font-size="34.5" text-anchor="start" font-weight="normal" >24ºC</text>
<line x1="904" y1="644.2" x2="1429.0" y2="644.2" stroke="#000" stroke-width="2.8" stroke-linecap="round"/>
<line x1="929.0" y1="619" x2="929.0" y2="877" stroke="#000" stroke-width="2.8" stroke-linecap="round"/>
<line x1="1429.0" y1="619" x2="1429.0" y2="877" stroke="#000" stroke-width="2.8" stroke-linecap="round"/>
<line x1="1029.0" y1="619" x2="1029.0" y2="644.2" stroke="#000" stroke-width="2.8" stroke-linecap="round"/>
<line x1="1129.0" y1="619" x2="1129.0" y2="644.2" stroke="#000" stroke-width="2.8" stroke-linecap="round"/>
<line x1="1229.0" y1="619" x2="1229.0" y2="644.2" stroke="#000" stroke-width="2.8" stroke-linecap="round"/>
<line x1="1329.0" y1="619" x2="1329.0" y2="644.2" stroke="#000" stroke-width="2.8" stroke-linecap="round"/>
<line x1="904" y1="644.2" x2="929.0" y2="644.2" stroke="#000" stroke-width="2.8" stroke-linecap="round"/>
<text x="891.8" y="656.5" font-size="34.5" text-anchor="end" font-weight="normal" >20</text>
<line x1="904" y1="702.4" x2="929.0" y2="702.4" stroke="#000" stroke-width="2.8" stroke-linecap="round"/>
<text x="891.8" y="714.7" font-size="34.5" text-anchor="end" font-weight="normal" >15</text>
<line x1="904" y1="760.6" x2="929.0" y2="760.6" stroke="#000" stroke-width="2.8" stroke-linecap="round"/>
<text x="891.8" y="772.9" font-size="34.5" text-anchor="end" font-weight="normal" >10</text>
<line x1="904" y1="818.8" x2="929.0" y2="818.8" stroke="#000" stroke-width="2.8" stroke-linecap="round"/>
<text x="891.8" y="831.1" font-size="34.5" text-anchor="end" font-weight="normal" >5</text>
<line x1="904" y1="877.0" x2="929.0" y2="877.0" stroke="#000" stroke-width="2.8" stroke-linecap="round"/>
<text x="891.8" y="889.3" font-size="34.5" text-anchor="end" font-weight="normal" >0</text>
<text transform="translate(785.1,806.5) rotate(-90)" font-size="34.5" font-weight="normal">τ / ms</text>
<line x1="929.0" y1="645" x2="1429.0" y2="857.5" stroke="#000" stroke-width="6" stroke-dasharray="14 10"/>
<line x1="929.0" y1="861.5" x2="1429.0" y2="870.5" stroke="#000" stroke-width="6" stroke-dasharray="13 13"/>
<circle cx="969.0" cy="656.2" r="11" fill="#000"/>
<circle cx="1029.0" cy="686.5" r="11" fill="#000"/>
<circle cx="1107.0" cy="727" r="11" fill="#000"/>
<circle cx="1194.0" cy="776.4" r="11" fill="#000"/>
<circle cx="1289.0" cy="799.3" r="11" fill="#000"/>
<circle cx="1389.0" cy="833.1" r="11" fill="#000"/>
<rect x="957.6" y="849.9" width="22.8" height="21.4" fill="#000"/>
<rect x="1017.6" y="853.7" width="22.8" height="21.4" fill="#000"/>
<rect x="1095.6" y="855.6" width="22.8" height="21.4" fill="#000"/>
<rect x="1182.6" y="856.8" width="22.8" height="21.4" fill="#000"/>
<rect x="1277.6" y="858.0" width="22.8" height="21.4" fill="#000"/>
<rect x="1377.6" y="858.6" width="22.8" height="21.4" fill="#000"/>
<circle cx="983.8" cy="754.8" r="11.5" fill="#000"/>
<rect x="972.3" y="788.5" width="24" height="23" fill="#000"/>
<text x="1031" y="765.4" font-size="34.5" text-anchor="start" font-weight="normal" >τ</text>
<text x="1042.5" y="774" font-size="24.5" text-anchor="start" font-weight="normal" >decay</text>
<text x="1031" y="809.6" font-size="34.5" text-anchor="start" font-weight="normal" >τ</text>
<text x="1042.5" y="817.3" font-size="24.5" text-anchor="start" font-weight="normal" >rise</text>
<line x1="929.0" y1="915" x2="929.0" y2="1147" stroke="#000" stroke-width="2.8" stroke-linecap="round"/>
<line x1="1429.0" y1="915" x2="1429.0" y2="1145" stroke="#000" stroke-width="2.8" stroke-linecap="round"/>
<line x1="904" y1="1147.0" x2="929.0" y2="1147.0" stroke="#000" stroke-width="2.8" stroke-linecap="round"/>
<text x="891.8" y="1159.3" font-size="34.5" text-anchor="end" font-weight="normal" >0.4</text>
<line x1="904" y1="1080.7" x2="929.0" y2="1080.7" stroke="#000" stroke-width="2.8" stroke-linecap="round"/>
<text x="891.8" y="1093.0" font-size="34.5" text-anchor="end" font-weight="normal" >0.8</text>
<line x1="904" y1="1014.3" x2="929.0" y2="1014.3" stroke="#000" stroke-width="2.8" stroke-linecap="round"/>
<text x="891.8" y="1026.6" font-size="34.5" text-anchor="end" font-weight="normal" >1.2</text>
<line x1="904" y1="948.0" x2="929.0" y2="948.0" stroke="#000" stroke-width="2.8" stroke-linecap="round"/>
<text x="891.8" y="960.3" font-size="34.5" text-anchor="end" font-weight="normal" >1.6</text>
<line x1="916.5" y1="1113.8" x2="929.0" y2="1113.8" stroke="#000" stroke-width="2.8" stroke-linecap="round"/>
<line x1="916.5" y1="1047.5" x2="929.0" y2="1047.5" stroke="#000" stroke-width="2.8" stroke-linecap="round"/>
<line x1="916.5" y1="981.2" x2="929.0" y2="981.2" stroke="#000" stroke-width="2.8" stroke-linecap="round"/>
<line x1="916.5" y1="914.8" x2="929.0" y2="914.8" stroke="#000" stroke-width="2.8" stroke-linecap="round"/>
<text transform="translate(785.1,1107.5) rotate(-90)" font-size="34.5" font-weight="normal">Q / pC</text>
<line x1="929.0" y1="932" x2="1429.0" y2="1113" stroke="#000" stroke-width="6" stroke-dasharray="14 10"/>
<path d="M969.0,943.8 Q973.7,950.8 980.7,955.5 Q973.7,960.2 969.0,967.2 Q964.3,960.2 957.3,955.5 Q964.3,950.8 969.0,943.8Z" fill="#000"/>
<path d="M1029.0,962.3 Q1033.7,969.3 1040.7,974.0 Q1033.7,978.7 1029.0,985.7 Q1024.3,978.7 1017.3,974.0 Q1024.3,969.3 1029.0,962.3Z" fill="#000"/>
<path d="M1107.0,972.3 Q1111.7,979.3 1118.7,984.0 Q1111.7,988.7 1107.0,995.7 Q1102.3,988.7 1095.3,984.0 Q1102.3,979.3 1107.0,972.3Z" fill="#000"/>
<path d="M1194.0,1016.8 Q1198.7,1023.8 1205.7,1028.5 Q1198.7,1033.2 1194.0,1040.2 Q1189.3,1033.2 1182.3,1028.5 Q1189.3,1023.8 1194.0,1016.8Z" fill="#000"/>
<path d="M1289.0,1047.1 Q1293.7,1054.1 1300.7,1058.8 Q1293.7,1063.5 1289.0,1070.5 Q1284.3,1063.5 1277.3,1058.8 Q1284.3,1054.1 1289.0,1047.1Z" fill="#000"/>
<path d="M1389.0,1097.3 Q1393.7,1104.3 1400.7,1109.0 Q1393.7,1113.7 1389.0,1120.7 Q1384.3,1113.7 1377.3,1109.0 Q1384.3,1104.3 1389.0,1097.3Z" fill="#000"/>
<path d="M983.8,1024.8 Q988.5,1031.8 995.5,1036.5 Q988.5,1041.2 983.8,1048.2 Q979.1,1041.2 972.1,1036.5 Q979.1,1031.8 983.8,1024.8Z" fill="#000"/>
<text x="1028.5" y="1047.3" font-size="34.5" text-anchor="start" font-weight="normal" >Q</text>
<text x="1055" y="1055" font-size="24.5" text-anchor="start" font-weight="normal" >l</text>
<line x1="929.0" y1="1185.4" x2="929.0" y2="1418.5" stroke="#000" stroke-width="2.8" stroke-linecap="round"/>
<line x1="1429.0" y1="1185.4" x2="1429.0" y2="1418.5" stroke="#000" stroke-width="2.8" stroke-linecap="round"/>
<line x1="904" y1="1418.5" x2="1429.0" y2="1418.5" stroke="#000" stroke-width="2.8" stroke-linecap="round"/>
<line x1="904" y1="1185.4" x2="929.0" y2="1185.4" stroke="#000" stroke-width="2.8" stroke-linecap="round"/>
<text x="891.8" y="1197.7" font-size="34.5" text-anchor="end" font-weight="normal" >250</text>
<line x1="904" y1="1232.0" x2="929.0" y2="1232.0" stroke="#000" stroke-width="2.8" stroke-linecap="round"/>
<text x="891.8" y="1244.3" font-size="34.5" text-anchor="end" font-weight="normal" >200</text>
<line x1="904" y1="1278.6" x2="929.0" y2="1278.6" stroke="#000" stroke-width="2.8" stroke-linecap="round"/>
<text x="891.8" y="1290.9" font-size="34.5" text-anchor="end" font-weight="normal" >150</text>
<line x1="904" y1="1325.3" x2="929.0" y2="1325.3" stroke="#000" stroke-width="2.8" stroke-linecap="round"/>
<text x="891.8" y="1337.6" font-size="34.5" text-anchor="end" font-weight="normal" >100</text>
<line x1="904" y1="1371.9" x2="929.0" y2="1371.9" stroke="#000" stroke-width="2.8" stroke-linecap="round"/>
<text x="891.8" y="1384.2" font-size="34.5" text-anchor="end" font-weight="normal" >50</text>
<line x1="904" y1="1418.5" x2="929.0" y2="1418.5" stroke="#000" stroke-width="2.8" stroke-linecap="round"/>
<text x="891.8" y="1430.8" font-size="34.5" text-anchor="end" font-weight="normal" >0</text>
<line x1="929.0" y1="1418.5" x2="929.0" y2="1443" stroke="#000" stroke-width="2.8" stroke-linecap="round"/>
<text x="929.0" y="1488.6" font-size="34.5" text-anchor="middle" font-weight="normal" >20</text>
<line x1="1029.0" y1="1418.5" x2="1029.0" y2="1443" stroke="#000" stroke-width="2.8" stroke-linecap="round"/>
<text x="1029.0" y="1488.6" font-size="34.5" text-anchor="middle" font-weight="normal" >30</text>
<line x1="1129.0" y1="1418.5" x2="1129.0" y2="1443" stroke="#000" stroke-width="2.8" stroke-linecap="round"/>
<text x="1129.0" y="1488.6" font-size="34.5" text-anchor="middle" font-weight="normal" >40</text>
<line x1="1229.0" y1="1418.5" x2="1229.0" y2="1443" stroke="#000" stroke-width="2.8" stroke-linecap="round"/>
<text x="1229.0" y="1488.6" font-size="34.5" text-anchor="middle" font-weight="normal" >50</text>
<line x1="1329.0" y1="1418.5" x2="1329.0" y2="1443" stroke="#000" stroke-width="2.8" stroke-linecap="round"/>
<text x="1329.0" y="1488.6" font-size="34.5" text-anchor="middle" font-weight="normal" >60</text>
<line x1="1429.0" y1="1418.5" x2="1429.0" y2="1443" stroke="#000" stroke-width="2.8" stroke-linecap="round"/>
<text x="1429.0" y="1488.6" font-size="34.5" text-anchor="middle" font-weight="normal" >70</text>
<text x="1179" y="1550.9" font-size="34.5" text-anchor="middle" font-weight="normal" >T / °C</text>
<text transform="translate(785.1,1340.5) rotate(-90)" font-size="34.5" font-weight="normal">I / pA</text>
<line x1="929.0" y1="1321.3" x2="1429.0" y2="1188" stroke="#000" stroke-width="6" stroke-dasharray="14 10"/>
<line x1="929.0" y1="1361.6" x2="1429.0" y2="1225.7" stroke="#000" stroke-width="6" stroke-dasharray="14 10"/>
<path d="M969.0,1306.6 L977.8,1322.8 L969.0,1339.0 L960.2,1322.8Z" fill="#000"/>
<path d="M1029.0,1275.8 L1037.8,1292.0 L1029.0,1308.2 L1020.2,1292.0Z" fill="#000"/>
<path d="M1107.0,1247.2 L1115.8,1263.4 L1107.0,1279.6 L1098.2,1263.4Z" fill="#000"/>
<path d="M1194.0,1229.6 L1202.8,1245.8 L1194.0,1262.0 L1185.2,1245.8Z" fill="#000"/>
<path d="M1289.0,1205.8 L1297.8,1222.0 L1289.0,1238.2 L1280.2,1222.0Z" fill="#000"/>
<path d="M1389.0,1186.8 L1397.8,1203.0 L1389.0,1219.2 L1380.2,1203.0Z" fill="#000"/>
<path d="M969.0,1342.5 L985.1,1351.5 L969.0,1360.5 L952.9,1351.5Z" fill="#000"/>
<path d="M1029.0,1322.4 L1045.2,1331.4 L1029.0,1340.4 L1012.9,1331.4Z" fill="#000"/>
<path d="M1107.0,1302.3 L1123.2,1311.3 L1107.0,1320.3 L1090.8,1311.3Z" fill="#000"/>
<path d="M1194.0,1273.6 L1210.2,1282.6 L1194.0,1291.6 L1177.8,1282.6Z" fill="#000"/>
<path d="M1289.0,1263.5 L1305.2,1272.5 L1289.0,1281.5 L1272.8,1272.5Z" fill="#000"/>
<path d="M1389.0,1223.2 L1405.2,1232.2 L1389.0,1241.2 L1372.8,1232.2Z" fill="#000"/>
<path d="M983.8,1141.8 L992.5,1158.0 L983.8,1174.2 L975.0,1158.0Z" fill="#000"/>
<path d="M983.8,1192.8 L999.9,1201.8 L983.8,1210.8 L967.6,1201.8Z" fill="#000"/>
<text x="1029" y="1168.2" font-size="34.5" text-anchor="start" font-weight="normal" >I</text>
<text x="1038.5" y="1177" font-size="24.5" text-anchor="start" font-weight="normal" >pkpk</text>
<text x="1029" y="1213.7" font-size="34.5" text-anchor="start" font-weight="normal" >I</text>
<text x="1038.5" y="1222.5" font-size="24.5" text-anchor="start" font-weight="normal" >0</text>
</svg></body></html>
